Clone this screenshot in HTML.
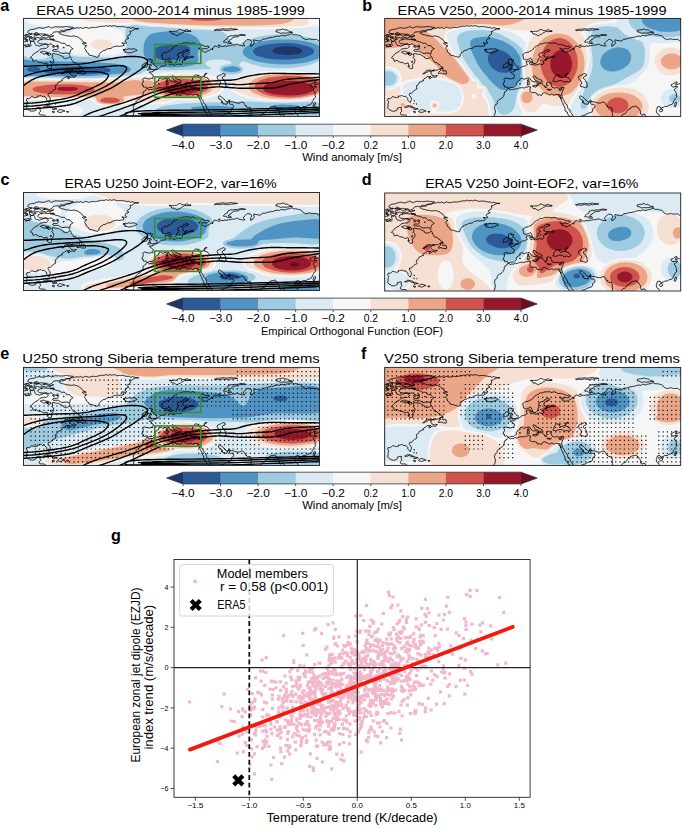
<!DOCTYPE html>
<html><head><meta charset="utf-8"><style>
html,body{margin:0;padding:0;background:#fff;width:685px;height:829px;overflow:hidden}
svg{display:block;font-family:"Liberation Sans", sans-serif}
</style></head><body>
<svg width="685" height="829" viewBox="0 0 685 829">
<defs><path id="coast" d="M1.3 28.4L2.1 28.4 2.9 28.3 3.7 28.1 4.5 27.8 5.3 28.0 6.3 28.1 7.1 27.7 7.7 27.0 7.2 26.3 7.2 25.4 7.0 24.5 6.7 23.2 8.0 22.9 8.8 22.9 9.6 22.8 10.7 22.9 11.1 24.0 11.3 25.0 11.7 25.9 12.3 26.8 13.2 27.1 14.1 27.1 14.9 27.4 15.8 27.8 16.6 27.5 17.4 27.0 18.2 26.8 19.0 26.9 19.6 26.4 20.3 25.5 21.2 25.7 22.0 25.9 22.8 26.2 23.6 26.2 24.1 26.9 24.8 27.6 24.4 28.6 23.8 29.2 23.1 29.5 22.5 30.1 21.6 30.1 20.9 29.8 20.1 30.0 19.2 30.3 18.4 30.3 17.3 30.6 16.4 31.0 15.9 31.5 15.4 32.0 14.8 32.8 14.2 33.4 13.3 33.5 12.5 33.7 12.0 34.5 11.2 35.0 10.4 35.2 9.8 35.8 9.4 36.7 8.8 37.2 8.2 37.6 7.6 38.4 6.7 39.4 7.7 39.8 8.5 40.0 9.1 40.5 9.1 41.6 9.7 42.9 11.1 42.5 12.2 42.0 13.2 42.4 13.9 43.2 14.7 43.5 15.5 43.8 16.4 44.1 17.3 43.9 18.2 44.1 18.9 44.7 19.7 45.2 20.6 45.5 21.5 45.2 22.4 44.8 23.5 44.8 23.9 46.0 23.8 46.9 23.3 47.8 23.9 48.9 24.7 49.5 25.6 50.2 26.7 50.2 27.9 49.9 28.0 48.7 27.8 47.7 27.6 46.8 28.0 45.9 28.8 45.5 29.4 44.8 29.9 43.8 30.2 43.3 30.0 42.8 30.2 41.7 30.0 40.7 29.1 40.1 28.3 39.3 29.0 38.5 29.3 37.8 28.9 36.8 28.6 35.5 29.7 35.1 30.5 35.3 31.4 35.5 32.2 35.6 33.1 35.7 33.9 35.9 34.7 35.9 35.5 36.0 36.2 36.6 37.1 37.2 38.0 37.5 38.9 38.0 39.6 38.2 39.7 38.8 40.2 39.7 41.3 39.8 42.1 40.3 43.1 40.0 44.1 39.8 44.9 39.5 45.6 38.8 46.6 37.9 47.4 39.1 47.6 40.0 47.9 41.0 48.3 41.8 49.0 42.4 49.5 43.2 50.1 44.2 51.1 44.2 52.1 44.2 52.6 45.0 53.4 45.7 54.3 46.0 55.1 46.4 55.6 47.3 56.2 48.1 57.1 48.4 57.9 48.7 58.5 49.8 57.2 49.9 56.1 49.9 55.3 50.3 54.5 50.9 53.6 51.4 52.7 51.7 51.7 51.7 50.8 51.8 49.9 51.5 48.9 51.5 48.0 52.0 47.1 52.2 46.1 51.7 45.1 51.6 44.1 51.8 43.1 51.9 42.1 52.0 41.3 52.6 40.9 53.6 40.2 54.2 39.1 54.5 38.1 55.5 39.6 55.3 40.3 54.8 41.1 54.4 42.0 54.0 42.9 53.5 43.7 52.8 44.7 52.8 45.7 53.0 47.1 53.3 46.0 54.4 46.5 55.4 47.1 55.9 47.6 56.7 48.3 57.2 49.2 57.3 50.1 57.4 51.1 57.6 52.0 57.5 52.4 56.8 51.8 58.3 50.9 59.0 49.9 58.9 48.9 58.5 48.0 58.7 47.2 59.0 46.4 59.3 45.8 60.1 44.7 60.6 44.3 58.8 45.5 58.4 46.4 57.9 45.6 58.5 44.5 58.5 43.4 58.1 42.3 58.5 41.4 59.2 40.8 59.7 40.1 60.2 39.3 60.2 38.2 61.5 38.9 62.5 38.3 62.2 37.4 62.8 36.5 63.3 35.5 63.6 34.5 64.0 33.9 65.4 33.2 66.5 32.7 66.9 31.7 67.3 31.9 68.3 31.8 68.8 32.0 69.5 32.2 70.6 31.5 71.1 30.7 71.4 29.7 71.9 28.9 72.8 28.3 73.5 27.6 74.1 27.0 74.7 26.2 75.0 25.0 75.0 24.5 76.1 24.9 77.3 25.6 77.9 26.0 78.8 26.4 79.6 26.9 80.4 26.6 81.4 26.2 82.4 25.9 83.2 25.8 84.0 25.1 84.0 24.4 83.0 23.6 82.2 23.0 81.3 23.3 80.4 22.7 79.5 21.6 78.9 21.0 77.9 20.1 77.9 19.2 78.2 18.5 77.9 17.8 77.2 16.8 77.2 15.8 77.5 14.9 77.7 13.8 77.6 13.7 78.9 12.9 79.1 11.7 79.2 10.7 79.0 9.9 78.8 9.0 78.4 8.1 78.2 7.3 78.9 6.5 79.6 5.8 80.2 4.8 80.2 3.5 80.1 2.9 81.7 3.6 82.8 4.0 83.7 3.8 84.5 3.4 85.3 3.3 86.1 3.5 87.0 3.3 87.7 3.0 88.7 3.2 89.6 3.7 90.4 4.4 91.1 5.3 91.7 6.1 91.8 6.7 92.5 7.3 93.0 8.0 92.7 8.9 92.8 9.9 92.8 10.7 92.4 11.3 92.3 12.0 92.1 12.5 91.4 12.6 89.7 13.5 89.5 14.3 89.3 15.1 88.9 16.3 89.0 17.2 89.5 16.6 89.9 16.4 90.8 16.7 91.8 17.2 92.8 16.5 93.5 15.8 94.2 15.7 95.0 15.6 95.7 16.2 96.0 16.9 96.4 17.8 96.5 18.6 96.5 19.4 96.6 20.2 96.5 21.0 96.6 21.5 97.1 22.3 97.7 22.3 98.8 22.0 99.8 21.6 100.9 21.5 101.8 21.6 102.8M26.3 20.7L27.0 21.3 27.9 21.2 28.7 21.3 29.4 21.9 30.2 22.2 31.0 22.2 31.8 22.6 32.6 22.9 33.4 23.0 34.2 23.2 34.9 23.4 35.7 23.6 36.5 23.9 37.2 24.4 37.9 24.9 38.8 24.9 39.7 24.8 40.6 24.9 41.5 25.1 42.1 25.8 42.7 26.4 43.2 27.2 44.2 27.4 45.4 27.0 46.2 27.4 46.8 28.3 47.4 29.0 48.2 29.5 49.0 30.1 49.5 30.1 49.0 30.8 48.0 31.4 47.1 31.9 46.7 32.6 46.5 33.6 46.5 34.5 45.9 35.5 44.7 34.9 43.7 34.6 42.5 34.8 41.5 34.7 40.5 34.8 39.5 35.0 38.4 35.1 37.7 34.6 36.9 34.3 36.2 34.0 35.5 33.4 34.8 32.9 34.0 32.8 33.1 33.0 32.2 32.9 31.4 32.9 30.5 33.0 29.7 32.7 29.0 32.3 29.6 31.3 30.5 30.9 31.4 30.9 32.4 31.2 33.3 31.0 34.0 30.7 34.3 30.2 35.0 29.7 34.6 29.1 34.3 28.3 33.4 28.2 32.5 28.3 31.7 27.8 31.0 27.3 30.1 27.2 29.3 26.9 28.7 26.2 28.0 25.5 27.0 25.5 26.1 25.9 25.2 26.2 24.3 26.0 23.3 25.6 22.4 25.4 21.4 25.5 20.4 26.0 19.5 25.9 18.6 25.3 17.8 25.3 16.9 25.4 16.0 25.1 15.2 24.7 14.7 24.1 14.2 23.7 14.6 23.0 15.1 22.0 16.0 21.8 16.8 21.5 17.5 20.8 18.4 20.7 19.4 20.8 20.4 20.5 21.4 20.6 22.4 20.7 23.4 20.8 24.3 20.9 25.3 21.0 26.3 20.7M18.2 33.1L19.0 33.0 19.9 32.7 20.7 32.7 21.5 33.6 22.3 33.8 23.2 33.7 24.1 33.9 24.9 33.9 24.1 34.3 23.2 34.7 22.4 35.2 21.4 35.6 20.4 35.7 19.6 35.2 18.8 34.8 17.9 34.5 16.8 33.8 18.2 33.1M10.5 17.9L11.2 17.4 12.0 17.2 12.9 17.2 13.6 16.9 14.4 16.5 15.4 16.3 16.2 16.5 17.1 17.2 17.9 17.9 18.8 17.6 19.7 17.1 20.6 17.0 21.5 16.9 22.4 16.8 23.3 17.1 24.1 17.4 24.9 17.5 25.5 18.2 26.2 18.7 25.4 18.7 24.5 18.6 23.8 19.0 23.0 19.6 22.1 19.6 21.2 19.1 20.3 18.9 19.3 19.4 18.4 19.5 17.5 19.4 16.7 19.7 15.8 19.6 14.9 19.2 14.0 19.2 13.2 19.3 12.2 19.4 11.2 19.5 10.3 18.9 10.5 17.9M5.3 14.8L6.2 15.2 7.0 15.8 8.0 15.8 9.0 15.5 9.9 15.8 10.7 15.8 11.5 15.6 12.4 15.4 13.2 15.5 14.1 15.9 15.0 16.0 15.8 15.7 16.8 15.4 17.8 15.4 18.7 15.7 19.7 15.5 20.6 15.8 21.4 15.9 22.4 15.8 23.2 15.9 24.0 16.3 24.8 16.7 25.7 17.1 26.6 16.9 27.3 16.3 28.1 16.1 28.8 15.3 29.5 14.3 30.3 13.7 31.1 13.6 32.0 13.5 32.8 13.3 33.7 13.4 34.6 13.5 35.4 13.4 36.2 13.1 37.0 12.4 37.7 12.1 38.6 12.3 39.5 12.5 40.4 12.3 41.2 11.8 42.0 11.4 42.9 11.3 43.8 11.2 44.7 11.2 45.6 11.3 46.5 11.3 47.1 10.7 47.9 10.3 48.7 10.0 49.2 9.4 49.8 9.1 49.1 8.9 48.2 8.8 47.4 8.8 46.5 8.5 45.6 8.5 44.7 8.4 43.9 8.2 43.0 8.1 42.1 8.1 41.2 8.3 40.3 8.5 39.5 8.6 38.6 8.6 37.7 8.4 36.8 8.7 36.0 8.7 35.2 8.2 34.4 8.5 33.6 8.7 32.8 8.3 32.0 8.3 31.2 8.5 30.4 8.8 29.6 9.1 28.8 9.5 28.0 9.6 27.1 9.3 26.3 8.8 25.5 8.3 24.7 8.2 23.9 8.7 23.1 8.9 22.3 9.1 21.5 9.4 20.7 9.8 19.9 9.9 19.1 9.8 18.2 9.7 17.4 9.6 16.6 9.4 15.7 9.2 14.8 9.4 14.0 9.7 13.0 9.8 12.2 10.1 11.4 10.6 10.5 10.9 9.6 11.0 8.7 10.9 7.8 11.1 6.9 11.3 6.1 11.7 5.2 12.0 4.7 13.0 4.1 13.8 4.5 14.4 5.3 14.8M5.9 20.3L6.8 19.8 7.8 20.1 8.7 20.5 9.6 20.6 10.5 20.3 11.6 20.3 12.7 21.0 11.3 21.3 10.3 21.6 9.6 22.3 8.9 23.1 7.9 23.1 7.1 22.0 6.0 21.7 5.9 20.3M1.3 17.7L2.1 18.2 3.2 17.7 3.9 18.2 5.0 18.0 5.9 16.8 4.5 16.2 3.6 16.1 2.5 16.2 1.8 16.9 1.3 17.7M1.3 21.2L2.3 21.9 3.3 22.4 3.3 21.6 3.6 21.0 3.0 20.9 2.2 20.2 1.3 20.0M25.0 34.8L26.3 34.6 27.6 35.9 25.7 37.0 24.5 36.8 23.4 35.7 25.0 34.8M26.7 19.5L27.4 18.7 28.2 18.1 29.2 17.9 30.3 17.2 29.0 17.5 28.1 17.7 27.2 18.0 26.3 18.3M35.5 14.5L36.2 13.8 37.0 13.7 37.9 13.6 38.7 13.4 39.5 13.2 40.4 13.2 41.2 13.1 42.0 12.6 42.7 12.0 43.6 11.5 44.5 11.3 45.5 11.2 46.4 10.9 47.3 10.4 48.2 10.3 49.1 10.2 49.9 9.9 50.8 9.9 51.7 10.0 52.6 9.5 53.4 9.2 54.3 9.5 55.1 9.8 56.0 9.5 56.8 9.0 57.6 9.4 58.5 9.9 59.3 10.0 60.2 9.8 61.0 9.2 61.8 8.9 62.7 9.2 63.5 9.3 64.4 9.5 65.2 9.8 66.0 9.6 66.9 9.4 67.7 9.4 68.5 9.1 69.4 8.8 70.2 8.9 71.1 9.2 71.9 9.1 72.8 8.9 73.7 9.0 74.6 8.6 75.4 8.2 76.3 8.3 77.2 8.1 78.0 7.8 78.9 7.9 79.7 7.9 80.6 7.9 81.4 7.8 82.2 7.2 83.0 7.2 83.8 7.7 84.6 7.8 85.4 7.6 86.2 7.4 87.0 7.4 87.8 7.8 88.7 7.8 89.5 7.3 90.3 7.1 91.2 7.5 92.0 7.7 92.8 7.8 93.6 8.3 94.5 8.4 95.3 8.1 96.2 8.1 97.0 8.3 97.8 8.1 98.7 7.9 99.5 8.1 100.3 8.4 101.1 8.6 102.0 8.7 102.8 8.8 103.6 9.1 104.4 9.0 105.3 8.8 106.1 9.1 106.8 9.9 107.7 9.8 108.6 9.2 109.4 9.2 110.2 9.7 111.0 9.8 111.8 10.0 112.6 10.3 113.5 10.3 114.3 10.2 115.3 10.4 114.2 10.6 113.2 10.5 112.2 10.5 111.3 10.9 110.4 11.4 109.6 11.7 108.9 12.2 108.3 12.8 107.4 12.8 106.4 12.9 106.8 13.9 107.1 14.8 106.5 15.6 106.1 16.5 105.3 17.0 104.3 17.2 103.4 18.2 104.4 19.1 105.4 19.6 104.5 20.3 103.5 20.5 102.5 21.0 102.0 21.7 101.6 22.7 102.2 23.6 103.2 24.3 102.4 24.9 101.4 24.7 100.6 24.8 99.8 24.6 98.9 24.5 98.3 24.6 99.1 24.7 99.7 25.3 100.6 26.8 99.1 27.6 98.1 27.7 97.1 27.7 96.1 27.9 95.2 28.0 94.3 27.8 93.4 27.6 92.5 27.8 91.7 28.0 90.8 28.2 89.9 28.4 89.0 28.7 88.3 29.4 87.5 30.0 86.5 30.2 85.5 30.3 84.6 30.3 83.8 30.5 83.1 30.9 82.4 31.6 81.5 31.9 80.6 31.9 79.8 32.1 79.2 32.8 78.3 33.4 77.4 33.7 76.8 34.3 76.2 35.3 75.6 36.3 75.3 37.9 74.3 38.7 73.0 38.8 72.2 38.3 71.4 38.3 70.7 38.1 69.7 37.7 68.7 37.3 67.8 37.1 66.6 37.1 65.6 36.6 65.1 35.7 64.8 34.8 63.9 34.3 63.0 33.7 62.7 32.6 62.4 31.5 61.8 30.8 61.1 30.2 61.3 29.3 61.6 28.7 62.1 28.2 62.8 27.4 63.3 27.3 62.6 27.5 61.6 27.0 60.9 26.4 60.1 26.0 58.8 25.0 60.3 24.4 61.5 24.8 62.8 24.8 61.7 24.3 60.8 24.1 60.0 23.7 59.4 22.9 58.8 22.2 58.2 21.3 57.3 20.5 56.4 20.3 55.8 19.8 55.3 19.1 54.6 18.7 53.8 18.5 53.0 18.1 52.1 18.1 51.3 17.7 50.5 17.5 49.7 17.6 48.8 17.8 48.0 17.9 47.2 18.0 46.4 17.8 45.6 17.6 44.7 17.4 44.0 17.3 43.2 17.4 42.3 17.4 41.6 17.0 40.8 16.7 40.0 16.5 39.2 16.4 38.4 16.2 37.6 15.9 36.9 15.5 36.0 15.3 35.5 14.5M102.0 30.5L102.8 31.1 103.6 31.0 104.4 30.6 105.3 30.4 106.1 30.5 107.0 30.7 107.9 30.8 108.7 30.5 109.5 30.3 110.4 30.5 111.1 30.5 111.9 30.9 112.7 31.2 113.7 32.1 112.7 32.4 111.7 32.8 110.9 33.2 110.1 33.4 109.2 33.6 108.4 34.2 107.5 34.4 106.6 34.3 105.7 34.3 104.8 34.5 104.0 34.2 103.2 33.9 101.2 33.8 102.0 32.6 101.7 32.5 100.9 32.1 99.9 32.1 100.7 31.6 101.7 31.4 100.6 31.1 99.7 31.1 100.4 31.2 101.3 31.1 102.0 30.5M125.0 40.5L125.9 40.9 126.7 40.9 127.1 40.6 126.7 40.9 126.5 41.7 127.3 41.3 128.2 41.4 129.3 41.9 128.5 42.4 128.1 43.1 127.5 43.9 128.6 44.0 129.6 44.6 130.1 45.5 130.4 46.4 130.8 46.9 131.7 47.6 132.8 47.9 133.6 48.3 133.4 49.0 133.5 49.9 132.7 50.9 131.4 50.9 130.3 51.1 129.4 51.2 128.5 51.2 127.6 51.1 126.7 51.3 125.9 51.6 125.0 51.6 124.0 51.8 124.4 50.9 125.0 50.3 125.8 49.9 126.7 49.9 127.6 49.8 126.6 49.8 125.7 49.3 125.3 49.2 125.6 48.9 126.1 47.9 125.6 47.5 126.6 47.5 127.8 47.4 127.2 45.7 126.0 46.0 124.6 46.1 123.9 44.5 124.0 42.8 123.6 41.4 124.4 41.1 125.0 40.5M123.5 44.9L124.1 46.5 123.6 47.6 123.0 48.7 122.3 48.7 121.5 48.8 120.7 49.0 119.9 49.3 119.0 49.6 118.3 49.4 118.7 49.0 119.0 48.2 118.4 47.2 118.9 46.4 119.7 46.1 120.5 45.5 121.4 44.4 122.6 44.5 123.5 44.9M297.3 21.1L296.5 21.5 295.6 22.1 294.7 22.3 293.8 21.5 292.9 20.9 292.1 21.0 291.2 21.0 290.3 21.1 289.4 21.1 288.7 20.8 287.8 21.0 287.0 20.7 286.2 20.2 285.4 20.6 284.5 20.9 283.7 20.9 282.8 21.0 282.0 21.3 281.2 20.8 280.4 20.1 279.7 20.2 279.1 19.7 278.6 19.0 278.1 18.3 277.6 17.6 276.9 17.1 275.9 17.2 274.9 16.9 274.0 16.6 273.0 16.4 272.1 16.3 271.1 16.4 270.2 16.2 269.3 15.8 268.4 15.3 267.5 15.5 266.8 15.9 266.1 16.2 265.2 16.3 264.4 16.5 263.7 16.6 262.9 16.8 262.1 17.3 261.3 17.4 260.4 17.4 259.5 17.2 258.7 16.9 257.8 17.0 257.0 17.4 256.1 17.9 255.2 17.9 254.3 17.6 253.4 17.7 252.6 18.0 251.7 18.1 250.8 18.3 250.0 18.9 249.1 19.0 248.2 18.8 247.5 19.2 246.5 19.5 245.3 19.5 244.5 19.6 243.7 20.0 242.8 20.2 242.0 20.5 241.2 20.8 240.3 20.8 239.3 20.6 238.6 21.0 238.1 21.8 237.5 22.4 236.7 22.5 235.8 22.7 235.0 22.4 234.2 22.2 233.3 22.2 232.4 22.0 231.5 21.8 230.4 21.4 230.0 22.4 230.5 23.4 230.8 24.2 230.5 25.1 229.9 25.9 229.4 26.6 228.4 26.9 227.6 27.3 227.4 28.0 227.2 27.3 227.0 26.4 227.2 25.6 227.6 24.9 228.0 24.1 228.2 23.3 227.7 22.6 227.3 21.9 226.4 21.6 225.5 21.2 224.6 21.2 223.7 21.2 222.9 22.0 222.1 22.6 221.3 23.3 220.7 23.9 220.1 24.6 219.7 25.5 220.7 26.3 221.3 27.5 220.1 27.4 219.2 27.5 218.3 27.4 217.5 26.9 216.6 26.9 215.7 26.7 214.9 26.2 214.1 25.9 213.1 25.8 212.2 26.3 211.2 26.5 210.4 26.8 209.7 26.7 208.8 26.6 207.9 26.9 207.0 27.2 206.0 27.2 205.1 27.2 204.2 27.6 203.3 27.9 202.3 27.6 201.4 27.4 200.5 27.9 199.6 28.2 198.7 27.9 197.9 27.9 197.1 28.1 196.3 28.5 195.6 28.9 194.7 28.8 193.9 28.3 193.2 28.0 192.4 27.7 191.6 27.7 190.8 27.7 190.4 28.4 190.1 29.3 189.5 29.8 188.5 30.5 189.6 30.8 188.5 30.9 187.5 30.4 186.9 31.0 186.3 31.6 185.5 32.1 184.7 32.4 184.0 32.6 183.3 33.3 182.6 33.6 181.8 33.8 180.9 34.0 180.0 33.0 179.1 32.5 178.2 32.8 177.3 32.8 177.2 31.9 176.9 31.1 175.9 30.5 175.0 29.9 175.9 29.9 176.7 30.3 177.5 30.8 178.5 30.8 179.6 30.3 180.6 30.1 181.6 30.3 182.4 30.4 183.2 30.4 184.0 30.0 184.4 29.6 184.7 29.2 185.8 28.8 185.2 28.0 184.5 27.7 183.5 27.9 182.7 28.0 181.8 27.9 181.0 27.9 180.2 27.6 179.6 26.8 178.7 26.6 177.7 26.6 176.8 26.4 176.0 25.9 175.1 25.9 174.2 26.2 173.3 26.3 172.6 25.8 171.9 25.2 171.2 24.9 170.3 24.8 169.4 24.3 168.4 24.5 167.3 25.1 166.3 25.0 165.5 24.4 164.7 24.3 163.8 24.5 163.0 24.4 162.1 24.3 161.3 24.6 160.4 24.6 159.5 24.5 158.6 25.0 157.7 25.5 156.8 25.5 155.8 25.3 154.9 25.6 154.3 26.5 153.7 27.2 152.8 27.2 151.9 27.4 151.3 28.1 150.5 28.5 149.8 29.0 148.9 29.8 148.4 30.9 147.7 31.6 146.9 32.1 146.0 32.6 144.8 33.0 143.9 33.6 143.2 33.9 142.3 33.9 141.5 34.1 140.6 34.4 139.8 34.9 139.0 35.6 138.2 36.0 138.3 37.6 138.7 38.5 138.7 39.5 139.0 40.8 140.0 41.0 140.8 41.4 141.7 41.5 142.5 41.1 143.3 40.8 144.2 40.7 144.8 40.3 145.8 39.5 146.5 40.5 147.3 41.9 147.4 42.7 147.8 43.5 148.2 44.6 149.3 45.0 150.3 45.4 151.2 44.9 151.8 44.3 152.5 43.7 152.9 42.9 153.3 42.2 153.4 40.8 154.3 40.2 155.0 39.3 155.9 38.5 155.3 38.3 154.3 37.7 154.2 36.7 154.3 35.5 155.1 35.0 155.8 34.6 156.5 34.3 157.5 34.2 158.5 34.0 159.4 33.4 160.0 32.2 160.9 32.0 161.3 31.6 162.3 31.3 163.3 31.3 164.2 31.5 165.3 31.9 164.5 33.0 163.4 32.9 162.3 33.2 161.5 33.8 160.7 34.3 159.8 34.8 159.6 35.7 159.2 36.5 159.2 37.6 160.3 38.2 161.2 39.1 162.4 38.7 163.4 38.2 164.5 38.6 165.3 39.0 166.1 38.8 166.9 38.4 167.7 37.9 168.7 37.7 169.5 38.2 170.3 38.4 169.4 38.9 168.4 39.3 167.5 38.9 166.6 38.7 165.8 39.2 165.0 39.9 164.2 40.1 163.4 39.9 162.4 39.7 162.6 40.7 161.6 41.1 160.4 41.3 159.1 42.2 158.8 43.6 159.2 44.8 158.1 46.0 156.5 46.2 155.6 45.6 154.8 45.5 154.1 45.8 153.3 46.0 152.3 46.3 151.4 46.8 150.2 46.8 149.2 46.2 148.0 46.0 147.0 46.3 146.0 46.6 145.8 46.0 144.9 45.2 145.3 44.4 145.5 43.6 145.3 42.7 145.2 42.0 144.2 42.9 142.8 42.8 141.7 43.1 141.7 44.7 142.5 45.4 142.7 46.0 142.4 46.6 141.7 46.8 140.8 47.4 139.8 47.9 139.0 47.8 137.9 48.0 136.7 48.7 135.8 49.4 134.8 50.2 133.6 51.3 132.5 51.2 131.6 51.5 130.9 52.2 130.0 52.5 129.5 52.1 129.1 53.5 127.6 53.5 126.5 53.6 125.6 53.8 126.2 54.2 126.8 54.7 127.5 55.3 128.4 55.8 129.0 56.3 129.7 56.8 129.6 58.3 129.2 59.1 129.4 60.0 129.2 60.2 128.1 59.9 127.0 60.2 126.1 60.6 125.2 60.5 124.3 60.3 123.3 60.2 122.3 59.9 121.2 59.5 120.1 59.9 119.1 60.7 119.7 62.0 119.7 63.5 119.0 64.7 118.4 66.5 119.9 67.1 119.9 68.6 121.0 68.9 122.0 68.5 123.3 69.0 123.6 70.1 124.4 69.9 125.6 69.1 126.6 69.0 127.6 69.0 128.7 69.2 129.6 68.3 130.8 67.7 131.3 67.1 131.9 66.4 131.3 65.5 131.8 64.8 132.3 64.0 133.4 63.1 134.1 62.6 134.8 62.2 135.3 62.2 135.2 60.5 137.0 59.7 138.2 60.1 138.9 60.7 139.7 60.9 140.6 60.3 141.5 59.9 142.5 59.9 143.0 59.7 144.5 59.5 145.5 60.5 146.1 61.6 146.7 62.3 147.5 62.8 148.4 63.1 149.2 63.5 150.2 63.5 151.4 63.3 152.7 64.4 152.5 66.3 152.6 67.2 152.8 67.7 153.5 67.1 153.7 66.2 153.9 65.6 153.8 64.7 154.5 64.9 156.1 65.3 155.7 63.8 154.7 63.7 153.9 63.3 152.6 62.8 151.6 62.4 150.6 61.8 150.0 61.1 149.6 60.2 149.0 59.2 148.4 58.8 148.2 58.0 148.6 57.7 149.4 57.2 150.0 58.0 151.1 58.1 151.3 59.4 152.3 59.8 153.2 60.1 153.8 60.7 154.6 60.8 156.0 61.5 157.4 62.2 157.4 63.6 157.2 65.0 157.7 66.0 158.7 66.5 159.6 67.5 160.1 68.7 161.2 69.3 161.7 69.3 161.1 68.0 162.3 67.1 163.2 67.1 162.6 66.4 161.8 66.0 161.8 65.2 161.6 64.7 162.8 64.0 163.8 63.8 164.8 64.4 165.7 64.4 166.4 64.3 166.1 65.4 166.6 66.7 167.1 67.8 167.5 68.9 168.8 69.2 169.7 69.6 170.6 69.6 171.8 69.1 173.3 69.5 174.4 70.0 175.3 69.5 176.2 69.3 177.2 69.2 178.2 69.0 179.4 69.2 179.0 70.1 178.6 70.9 178.5 71.7 177.9 72.5 177.4 73.9 177.2 74.8 177.1 76.1 175.9 77.0 174.9 76.3 174.1 76.0 173.0 76.1 171.7 76.1 170.6 76.2 169.8 76.5 169.0 76.9 168.1 76.2 167.2 75.6 165.9 76.2 164.5 76.7 163.7 76.1 162.9 75.8 161.6 75.1 160.8 74.7 159.9 74.3 158.9 74.6 157.9 75.0 157.5 75.8 157.3 76.4 156.5 77.4 155.9 76.8 155.2 76.2 154.2 76.4 153.3 76.8 152.5 76.4 152.3 75.5 151.9 74.7 151.0 74.5 150.2 74.3 149.3 74.2 148.4 74.3 147.5 74.1 146.7 74.0 145.9 73.5 145.0 73.0 145.2 71.9 145.4 71.1 145.5 70.4 145.4 69.5 146.1 68.7 145.0 68.5 144.0 68.1 142.6 68.7 141.7 68.8 140.8 68.8 139.9 69.3 139.0 69.6 137.9 69.3 136.7 69.3 135.5 69.4 134.6 69.6 133.7 70.0 132.9 70.4 131.7 70.6 130.8 70.3 129.9 70.4 128.7 71.3 127.6 71.0 126.6 71.1 125.4 71.6 124.6 70.9 123.6 69.9 122.7 70.9 122.2 72.1 121.3 72.6 119.9 73.4 119.5 74.8 119.7 75.8 119.3 76.4 118.8 78.0 118.0 78.6 117.3 79.5 116.5 80.3 115.5 80.7 114.6 81.2 113.8 82.0 113.1 82.5 112.6 83.1 112.5 84.2 112.3 85.4 111.6 86.1 110.7 86.3 110.1 87.1 110.2 88.1 109.7 89.4 110.0 90.2 110.3 91.4 110.6 92.5 110.7 93.7 110.3 94.8 110.1 96.0 109.7 96.9 108.9 97.7 109.0 98.7 109.5 99.4 110.2 100.2 110.4 101.1 109.9 102.0 109.5 102.8M168.4 63.1L168.4 62.0 169.1 61.2 169.2 59.6 170.0 58.9 170.6 58.0 171.0 57.1 171.7 56.5 172.6 56.5 173.3 56.7 174.4 56.9 175.7 56.9 174.4 57.6 174.9 58.4 175.6 59.3 177.2 59.0 178.5 58.7 179.9 58.4 180.6 57.2 180.9 55.9 181.9 55.1 183.4 54.9 182.6 56.0 181.6 56.3 181.1 57.0 180.9 57.9 180.9 58.7 182.2 59.0 183.3 59.3 184.3 59.8 184.8 60.8 185.5 61.5 186.2 62.2 186.0 62.8 185.2 63.3 184.2 63.8 183.1 63.3 182.1 63.2 181.2 63.3 180.1 63.6 179.1 63.6 178.4 63.2 177.8 62.5 176.8 62.3 175.6 62.1 174.7 62.1 173.9 62.4 173.2 62.7 172.1 63.0 171.0 63.4 169.7 63.1 168.4 63.1M193.5 59.0L194.3 57.6 195.2 57.3 195.8 56.9 196.3 57.1 197.2 56.4 198.1 56.0 198.9 55.5 199.8 55.2 200.6 55.5 201.6 55.8 201.7 56.8 201.4 57.7 200.5 57.8 199.6 58.2 198.8 58.8 198.8 59.8 199.2 60.6 199.8 60.9 200.4 61.6 201.1 62.3 201.1 63.4 202.3 64.1 202.2 64.9 202.2 65.8 202.3 66.6 202.6 67.5 202.6 68.6 201.6 69.0 200.6 69.4 199.8 69.0 198.9 68.7 198.1 68.4 197.3 68.2 196.1 68.3 195.6 66.8 196.5 65.6 197.2 64.4 196.6 63.2 195.9 62.2 195.2 61.7 194.6 61.1 194.1 60.5 194.0 59.7 193.5 59.0M174.1 76.4L174.1 77.7 174.7 78.1 175.5 78.8 175.9 79.6 176.0 80.5 176.5 81.3 176.8 82.1 176.9 82.9 177.4 83.5 177.9 84.2 178.2 84.9 178.4 85.7 178.5 86.6 178.9 87.3 179.5 87.8 179.8 88.5 180.2 89.8 180.4 90.6 180.4 91.5 180.4 92.6 181.3 93.3 182.5 93.6 182.9 94.5 183.0 95.5 183.6 96.3 184.1 96.8 184.5 97.7 185.5 97.9 186.3 98.1 186.6 99.0 186.7 100.2 187.1 101.1 188.4 101.9 189.1 102.6 189.4 103.5M176.7 76.2L177.2 76.9 177.3 77.8 177.4 78.6 176.6 79.5 176.5 80.2 175.8 80.0 175.5 78.9 175.4 77.6 174.4 77.9M177.5 78.6L177.5 79.5 177.9 80.1 178.4 80.8 178.9 81.6 179.5 82.3 179.8 83.1 180.3 84.2 180.8 85.2 181.5 85.9 182.4 86.5 182.5 87.4 182.8 88.3 183.0 89.1 183.1 90.1 183.8 90.6 184.9 90.9 185.3 91.8 185.4 92.8 185.7 93.7 186.3 94.3 186.7 95.1 187.4 95.7 187.9 96.6 188.1 97.5 188.5 98.6 189.1 99.6 189.3 100.0 189.8 99.9 190.7 100.2 191.7 100.0 192.7 99.5 193.6 99.2 194.6 98.9 195.5 98.6 196.3 98.2 197.0 97.6 197.8 97.2 198.6 96.9 199.5 96.8 200.3 96.7 201.2 96.1 202.0 95.4 202.9 95.2 203.7 94.9 204.3 94.4 205.2 94.2 206.2 94.2 207.2 93.5 207.9 92.6 207.9 91.3 208.1 90.2 209.1 89.7 209.9 89.2 210.3 87.8 209.7 86.9 209.0 85.9 208.0 86.0 207.0 86.2 206.2 85.5 205.9 84.6 205.9 82.7 204.3 83.6 203.9 84.6 203.5 85.8 201.8 85.8 200.6 85.4 199.5 85.5 198.9 84.5 199.2 83.6 198.6 82.9 198.0 84.2 198.1 83.4 198.1 82.1 197.4 81.3 196.5 81.1 195.7 80.7 195.1 80.0 195.1 78.8 195.0 78.1 195.2 78.0 195.9 77.4 196.8 78.0 197.9 78.5 198.9 79.5 199.7 80.2 200.5 80.6 201.2 81.5 201.8 82.5 202.5 83.1 203.7 83.5 204.9 82.4 205.9 81.5 206.4 82.6 207.0 83.6 208.2 83.4 209.3 83.4 210.1 83.6 210.9 83.9 211.7 84.0 212.5 84.4 213.5 84.6 214.5 84.8 215.4 84.7 216.4 84.4 217.2 84.1 218.0 83.7 219.1 83.6 220.4 84.5 220.9 85.3 221.3 86.2 222.0 87.4 223.0 87.9 223.2 87.7 223.0 87.4 222.5 88.1 223.3 88.3 223.9 89.0 224.4 89.6 225.4 89.3 226.7 89.1 227.3 90.5 227.5 91.6 227.7 92.6 227.5 93.4 227.5 94.2 227.8 95.0 227.7 96.0 227.7 97.1 228.9 98.1 229.6 98.8 230.0 99.7 230.5 101.0 230.8 102.4M236.7 102.2L237.3 101.3 237.5 100.3 237.3 99.4 237.1 98.5 236.9 97.5 237.8 96.2 238.7 95.6 239.7 95.3 240.7 94.9 241.4 94.3 242.0 93.5 242.4 92.7 242.8 91.9 243.4 91.2 244.6 90.8 245.8 90.4 246.0 89.1 246.8 88.8 247.5 88.5 248.6 88.2 250.0 88.4 250.7 87.6 251.9 87.8 252.2 88.8 253.4 89.4 254.0 89.7 254.3 90.8 254.8 91.6 255.5 92.3 255.9 93.2 255.8 94.4 256.2 95.7 256.0 95.8 257.1 96.6 258.1 96.6 258.5 95.9 260.1 96.0 260.9 97.6 261.2 98.2 260.9 99.3 260.6 100.2 261.3 101.1 261.4 102.2M262.1 102.8L262.5 101.9 262.4 100.9 263.2 99.9 264.2 99.8 264.6 100.5 266.0 100.8 266.8 102.0M275.2 101.9L274.6 100.7 274.7 99.6 275.0 98.8 275.0 98.0 274.6 97.3 274.2 96.4 273.7 95.6 272.7 95.3 272.1 94.7 271.8 93.8 271.7 92.7 271.5 92.4 271.8 91.9 272.1 90.9 272.3 89.8 272.7 88.6 274.3 88.1 275.9 88.7 276.3 89.7 276.5 90.4 277.2 89.2 278.1 89.1 278.9 88.8 279.8 88.2 280.9 88.1 282.3 88.2 283.2 87.7 284.0 86.9 285.1 86.6 286.3 86.5 287.2 85.8 288.2 85.2 288.6 84.3 288.7 83.3 289.5 82.1 290.1 81.2 290.4 80.1 291.1 79.4 291.9 78.9 292.3 77.9 291.2 77.0 292.0 75.7 291.5 74.8 291.2 74.1 290.7 72.8 289.8 71.9 289.5 71.5 289.8 71.4 289.8 70.7 291.0 69.8 291.9 69.3 293.1 68.4 291.4 67.9 290.1 68.4 289.3 68.5 288.3 68.7 287.4 68.1 286.5 67.4 286.4 66.2 287.0 65.9 287.8 65.7 288.6 65.4 289.2 64.8 289.9 64.3 290.6 63.9 291.5 63.4 292.7 64.2 291.1 65.1 291.0 66.7 292.5 66.0 293.8 65.7 294.6 65.5 295.4 64.8M274.4 92.1L275.4 91.2 276.2 90.7 277.3 90.5 278.1 91.6 277.2 93.2 275.6 93.4 274.9 92.7 274.4 92.1M289.6 87.1L290.1 86.2 290.1 85.0 291.3 83.9 292.2 84.5 291.8 85.5 291.4 86.5 291.1 87.6 290.5 88.6 289.8 87.9 289.6 87.1M200.0 23.7L200.9 23.9 201.9 23.8 202.7 23.8 203.4 24.4 204.2 25.0 205.0 25.0 205.9 25.1 207.9 25.1 206.7 23.4 205.6 23.7 204.6 23.6 205.4 22.3 206.3 21.6 207.3 21.1 208.2 20.7 208.7 20.0 209.3 19.3 210.1 18.9 210.9 18.7 211.8 18.5 212.6 18.4 213.4 18.3 214.2 18.4 215.0 18.2 215.7 17.7 216.4 17.0 217.2 16.8 218.0 17.1 218.9 17.1 219.7 17.1 220.8 17.1 222.1 16.7 221.0 16.4 220.1 16.3 219.3 16.1 218.4 16.1 217.5 16.3 216.6 16.3 215.7 16.6 214.9 16.8 214.0 16.9 213.1 17.0 212.3 17.0 211.5 16.9 210.7 17.0 209.9 17.4 209.1 17.5 208.3 17.4 207.4 17.2 206.6 17.5 205.9 17.9 204.8 18.2 204.3 19.3 204.0 20.3 202.8 20.8 201.7 21.4 201.1 22.1 200.3 22.7 200.0 23.7M146.0 13.5L147.3 13.1 147.7 14.5 148.3 15.5 149.3 15.7 150.3 15.6 151.2 15.9 151.9 16.5 152.8 17.1 154.0 17.3 155.0 16.5 156.1 16.1 156.9 15.9 157.6 15.2 158.3 14.5 159.1 14.2 160.0 13.8 160.8 13.2 161.6 13.0 162.6 13.2 163.5 13.2 164.4 13.1 165.3 13.0 166.3 13.1 167.4 13.0 167.1 12.0 166.2 12.6 165.3 12.4 164.5 11.7 163.6 11.4 162.7 11.4 161.8 11.9 160.8 12.2 159.8 12.1 158.8 12.1 157.9 11.6 157.0 11.2 156.1 11.1 155.3 11.1 154.6 11.7 153.9 12.4 153.0 12.8 152.0 12.9 151.0 12.8 150.0 13.0 149.0 13.0 148.0 13.1 147.0 12.9 145.9 12.8 146.0 13.5M190.8 11.7L191.5 12.3 192.4 12.0 193.2 11.8 194.0 12.0 194.9 12.0 195.7 12.1 196.5 12.3 197.3 12.0 198.2 11.7 199.0 11.7 199.8 11.6 200.6 11.5 201.5 12.0 202.3 12.1 203.1 11.8 203.9 12.1 204.8 12.3 205.6 12.0 206.3 11.6 207.2 11.6 208.0 11.8 208.8 11.6 209.6 11.4 210.5 11.6 211.5 11.4 212.4 10.9 213.4 10.8 214.1 10.9 213.6 11.4 212.8 11.0 212.0 10.6 211.2 10.4 210.3 10.6 209.5 10.7 208.7 10.3 207.9 10.0 207.0 10.3 206.1 10.3 205.2 10.3 204.4 10.6 203.5 10.9 202.6 10.7 201.7 10.6 200.8 10.5 199.9 10.2 199.1 10.4 198.3 10.7 197.5 10.7 196.7 10.6 195.8 10.8 195.0 10.8 194.2 10.9 193.4 10.9 192.5 11.2 191.7 11.6 190.8 11.7M252.6 13.5L253.5 13.6 254.4 13.8 255.3 14.0 256.1 14.5 256.9 14.9 257.9 14.8 258.7 14.5 259.6 14.6 260.5 14.7 261.4 14.8 262.3 14.7 263.1 14.5 264.0 14.5 264.9 14.6 265.7 14.2 266.6 14.0 267.5 14.4 269.1 14.0 267.7 13.3 266.5 13.4 265.6 13.1 264.9 12.5 264.2 12.1 263.5 11.5 262.7 11.3 261.7 11.7 260.9 11.5 260.1 10.7 259.2 10.5 258.3 10.9 257.4 11.3 256.6 11.3 255.8 11.4 255.0 11.4 254.1 11.5 253.3 11.8 252.5 12.1 252.6 13.5M194.7 26.9L195.7 26.7 196.7 26.6 196.0 27.3 194.7 26.9M19.9 88.6L20.8 88.6 21.6 88.0 22.6 87.4 23.7 87.2 24.6 87.5 25.6 87.4 26.5 87.8 27.5 88.2 28.5 88.8 29.5 89.3 30.5 89.6 31.5 89.9 32.3 90.3 33.1 90.7 33.6 90.7 32.9 90.3 32.2 90.5 31.3 91.0 30.4 91.2 29.3 91.2 29.6 90.3 29.0 89.8 28.2 89.1 27.3 89.3 26.4 89.2 25.6 88.6 24.7 88.2 23.7 88.2 22.9 88.7 22.0 88.9 20.9 88.8 19.9 88.6M33.7 93.1L34.5 92.6 35.1 91.9 35.8 91.1 37.0 91.3 38.1 91.5 39.1 91.7 40.0 92.0 40.7 92.5 41.4 92.8 40.4 92.6 39.3 92.9 38.5 93.7 37.6 94.0 36.7 93.9 35.7 93.9 34.7 93.5 33.7 93.1M28.5 93.1L29.5 93.4 30.3 93.2 31.2 93.6 29.8 94.3 28.5 93.1M43.2 93.0L44.2 93.1 45.2 93.2 44.9 93.8 44.0 94.0 43.2 93.6 43.2 93.0M28.9 82.1L30.0 82.5 29.2 82.9M29.2 84.8L29.6 85.5 28.7 85.2M31.6 84.9L32.2 85.5 31.8 86.3M53.5 54.9L53.9 54.1 54.3 53.4 55.2 52.9 55.8 52.3 55.9 51.3 55.9 50.2 56.6 49.7 57.6 49.8 58.3 50.2 58.3 50.9 57.7 51.8 58.4 52.7 59.4 52.4 60.3 52.1 61.3 52.4 61.7 53.9 62.0 55.0 61.3 55.9 60.2 55.4 59.2 55.5 58.1 55.5 57.3 54.8 56.3 54.7 55.4 54.8 54.5 55.2 53.5 54.9M47.4 51.9L48.2 52.4 49.1 52.5 49.7 52.4 48.9 52.2 48.2 52.5 47.4 51.9M147.9 67.5L149.3 67.3 150.2 67.1 151.1 66.7 152.4 66.9 151.8 68.1 151.2 68.8 150.5 68.3 149.6 68.4 148.8 68.2 148.1 67.9 147.9 67.5M142.6 63.5L143.5 63.0 144.7 63.4 144.4 64.7 144.6 66.1 142.6 66.7 142.6 64.9 142.6 63.5M143.9 60.9L144.2 62.2 143.7 62.9 142.8 62.4 142.9 61.4 143.9 60.9M162.5 70.7L163.5 70.7 164.4 71.1 165.3 71.1 166.7 71.0 165.5 71.9 164.6 71.6 163.8 71.6 162.4 71.1 162.5 70.7M174.1 71.4L174.9 71.3 175.6 70.8 177.4 70.1 176.4 71.9 175.0 71.9 174.1 71.4M134.7 65.4L135.9 65.5 135.5 65.5 134.7 65.4M145.5 43.9L146.4 43.6 147.3 43.9 147.9 43.9 147.7 44.6 146.9 44.6 146.2 44.6 145.5 43.9M155.5 42.2L156.5 41.7 156.1 42.3 155.5 42.2M160.5 40.6L162.1 40.2 161.2 42.1 160.5 40.6M-1.3 21.0L-0.4 21.1 0.5 21.0 1.3 20.7 2.2 20.7 3.1 20.8 3.9 21.2 4.3 22.1 4.4 22.8 3.5 22.8 2.6 23.2 1.8 23.3 0.8 23.4 -0.2 23.1 -0.7 22.0 -1.3 21.0M-0.7 17.0L0.2 17.4 1.0 16.9 1.8 16.4 2.7 16.5 3.3 17.3 4.3 18.0 3.2 19.0 2.1 19.5 1.0 19.3 0.1 18.9 -0.4 18.2 -0.7 17.0M5.3 18.3L6.1 18.3 6.9 18.2 7.7 18.2 8.4 18.4 9.0 19.4 8.4 19.2 7.6 19.1 6.7 19.3 5.9 19.6 5.3 18.3M0.7 26.9L1.4 26.4 2.3 26.6 3.2 26.6 4.0 26.0 5.2 26.0 6.3 26.8 5.2 27.0 4.6 27.8 3.7 28.2 2.9 28.0 2.0 27.7 1.5 27.0 0.7 26.9M22.4 35.0L23.2 35.0 24.1 35.2 25.0 35.2 25.5 35.7 24.6 35.6 23.7 35.9 23.0 35.6 22.4 35.0M26.3 20.6L27.3 20.6 28.3 20.8 29.3 20.6 30.5 20.6 30.8 21.8 30.0 21.3 29.1 21.3 28.5 21.5 27.8 21.4 27.0 21.1 26.3 20.6M28.9 28.2L29.9 28.0 30.7 28.4 31.0 28.6 30.6 28.7 29.7 28.9 28.9 28.2M26.6 43.5L27.6 42.5 27.7 44.2 26.6 43.5M23.7 47.8L24.9 47.8 24.6 47.4 23.7 47.8M45.4 36.3L46.1 36.8 45.9 36.3 45.4 36.3M10.5 15.3L11.3 14.8 12.0 14.3 12.9 14.2 13.9 14.4 14.8 15.2 15.6 15.8 15.0 15.7 14.2 16.0 13.3 16.1 12.5 16.1 11.4 15.9 10.5 15.3M20.4 16.0L21.3 16.7 21.6 16.4 21.4 16.4 20.4 16.6M17.1 21.0L18.4 21.2 17.8 21.6M5.3 15.6L6.1 15.2 7.0 15.3 8.2 15.0 7.6 16.1 6.6 16.1M32.9 27.1L34.0 26.7 35.2 27.7 33.5 27.9M39.5 28.8L40.8 29.2 39.7 29.5" fill="none" stroke="#000" stroke-width="0.85" stroke-linejoin="round"/><path id="jets" d="M-2.0 48.0L1.8 47.8 5.7 47.7 9.6 47.5 13.4 47.3 17.3 47.2 21.1 47.0 24.9 46.9 28.7 46.7 32.5 46.6 36.2 46.5 40.0 46.4 43.8 46.3 47.5 46.2 51.1 46.0 54.6 45.8 57.9 45.5 61.1 45.1 64.2 44.7 67.2 44.2 70.1 43.6 72.9 43.0 75.7 42.5 78.4 42.0 81.0 41.5 83.6 41.1 86.1 40.6 88.6 40.2 91.0 39.8 93.3 39.4 95.6 39.0 97.8 38.7 100.0 38.5 102.1 38.3 104.2 38.2 106.3 38.1 108.2 38.1 110.1 38.1 111.9 38.1 113.5 38.2 115.0 38.3 116.3 38.5 117.4 38.7 118.4 38.9 119.3 39.2 120.1 39.5 120.8 39.8 121.4 40.2 122.0 40.5 122.5 40.8 123.0 41.1 123.4 41.4 123.8 41.8 124.0 42.1 124.1 42.5 124.1 43.0 124.0 43.5 123.7 44.1 123.3 44.8 122.8 45.5 122.2 46.3 121.5 47.1 120.7 47.9 119.9 48.7 119.0 49.5 118.1 50.3 117.1 51.1 116.0 51.9 114.8 52.8 113.6 53.6 112.4 54.4 111.2 55.2 110.0 56.0 108.8 56.8 107.6 57.5 106.5 58.2 105.2 58.9 104.0 59.6 102.7 60.4 101.4 61.2 100.0 62.0 98.6 62.9 97.2 63.8 95.8 64.8 94.3 65.8 92.7 66.8 91.0 67.8 89.1 68.9 87.0 70.0 84.6 71.1 81.9 72.3 79.0 73.6 76.0 74.8 73.0 76.1 69.9 77.3 67.1 78.4 64.4 79.5 62.0 80.5 59.8 81.5 57.7 82.4 55.7 83.3 53.6 84.1 51.5 84.9 49.1 85.6 46.5 86.3 43.6 86.9 40.4 87.4 37.0 87.8 33.5 88.2 30.0 88.6 26.5 88.9 23.2 89.2 20.0 89.5 17.0 89.8 14.2 90.0 11.4 90.2 8.7 90.4 6.1 90.5 3.4 90.7 0.7 90.8 -2.0 91.0M-2.0 58.6L0.6 57.9 3.1 57.1 5.6 56.3 8.1 55.5 10.6 54.7 13.3 54.0 16.1 53.4 19.0 52.8 22.1 52.3 25.4 51.9 28.8 51.6 32.3 51.3 35.8 51.0 39.4 50.8 43.0 50.5 46.5 50.3 50.1 50.1 53.7 49.9 57.4 49.7 61.2 49.5 64.8 49.3 68.4 49.2 71.8 49.0 75.0 48.8 78.1 48.6 81.1 48.3 84.0 48.0 86.8 47.8 89.5 47.5 91.9 47.3 94.1 47.2 96.0 47.2 97.6 47.3 99.0 47.4 100.1 47.6 101.0 47.9 101.7 48.2 102.3 48.6 102.7 49.0 103.0 49.5 103.2 50.0 103.1 50.6 102.9 51.2 102.6 51.9 102.1 52.6 101.5 53.4 100.8 54.2 100.0 55.0 99.1 55.9 98.0 56.8 96.9 57.9 95.6 58.9 94.2 60.0 92.8 61.0 91.4 62.0 90.0 63.0 88.6 63.9 87.3 64.8 85.9 65.7 84.5 66.5 83.0 67.4 81.5 68.2 79.8 69.1 78.0 70.0 76.0 70.9 73.8 71.9 71.4 72.9 69.0 73.9 66.5 74.9 64.2 75.8 61.9 76.7 59.8 77.5 58.0 78.2 56.4 78.8 55.0 79.4 53.7 79.9 52.2 80.4 50.6 80.9 48.8 81.5 46.5 82.0 43.8 82.6 40.7 83.2 37.3 83.8 33.8 84.4 30.2 85.0 26.6 85.6 23.2 86.1 20.0 86.5 17.0 86.9 14.2 87.1 11.4 87.4 8.7 87.6 6.1 87.7 3.4 87.9 0.7 88.1 -2.0 88.3M-2.0 68.5L-0.3 67.4 1.3 66.3 2.8 65.1 4.4 64.0 6.1 62.9 7.8 61.8 9.6 60.9 11.5 60.0 13.6 59.2 15.8 58.5 18.2 57.9 20.6 57.3 23.0 56.8 25.4 56.3 27.7 55.9 30.0 55.5 32.1 55.1 34.1 54.8 36.0 54.5 37.9 54.3 39.8 54.1 41.9 53.9 44.1 53.7 46.5 53.6 49.3 53.5 52.4 53.4 55.7 53.3 59.0 53.2 62.4 53.2 65.6 53.2 68.5 53.2 71.0 53.3 73.2 53.4 75.1 53.7 76.9 53.9 78.4 54.2 79.8 54.5 81.0 54.8 82.1 55.2 83.0 55.5 83.7 55.8 84.3 56.1 84.7 56.4 84.9 56.7 85.0 57.1 84.9 57.5 84.8 58.0 84.5 58.5 84.1 59.1 83.7 59.9 83.1 60.6 82.3 61.5 81.5 62.3 80.5 63.2 79.3 64.1 78.0 65.0 76.5 65.9 74.7 66.8 72.7 67.8 70.6 68.8 68.4 69.7 66.2 70.7 64.0 71.6 62.0 72.5 60.1 73.4 58.3 74.2 56.6 75.1 54.9 75.9 53.1 76.8 51.1 77.5 49.0 78.3 46.5 79.0 43.7 79.7 40.5 80.3 37.2 81.0 33.7 81.5 30.1 82.1 26.6 82.6 23.2 83.1 20.0 83.5 17.0 83.9 14.2 84.1 11.4 84.4 8.7 84.6 6.1 84.7 3.4 84.9 0.7 85.1 -2.0 85.3M56.0 100.0L57.2 99.4 58.5 98.7 59.7 98.1 61.0 97.4 62.2 96.8 63.5 96.2 64.7 95.6 66.0 95.0 67.2 94.5 68.2 94.1 69.1 93.7 70.0 93.4 71.2 93.0 72.5 92.6 74.3 92.0 76.5 91.3 79.3 90.4 82.6 89.5 86.2 88.4 90.1 87.3 94.1 86.1 98.2 84.9 102.1 83.7 105.7 82.5 109.2 81.3 112.7 80.1 116.1 78.8 119.6 77.5 122.9 76.2 126.1 75.0 129.1 74.0 132.0 73.0 134.6 72.2 137.0 71.5 139.3 70.9 141.4 70.4 143.5 70.0 145.6 69.5 147.7 69.0 150.0 68.5 152.4 67.9 154.7 67.4 157.1 66.8 159.5 66.2 162.0 65.6 164.6 65.1 167.2 64.6 170.0 64.2 173.0 63.8 176.3 63.5 179.7 63.2 183.2 62.9 186.6 62.7 189.9 62.5 193.0 62.3 195.7 62.1 198.1 62.0 200.1 61.9 202.0 61.9 203.7 61.9 205.3 61.8 206.9 61.8 208.6 61.6 210.3 61.4 212.1 61.1 214.0 60.7 215.8 60.2 217.6 59.6 219.4 59.1 221.3 58.6 223.1 58.1 224.9 57.7 226.8 57.3 228.6 57.0 230.6 56.7 232.5 56.4 234.3 56.1 236.1 55.9 237.9 55.7 239.5 55.5 241.0 55.4 242.3 55.2 243.5 55.2 244.6 55.1 245.8 55.1 247.0 55.0 248.4 55.0 250.0 55.0 251.7 55.0 253.4 55.0 255.1 55.0 256.9 55.0 259.0 55.1 261.2 55.1 263.7 55.2 266.5 55.2 269.7 55.2 273.3 55.3 277.2 55.3 281.3 55.3 285.5 55.4 289.8 55.4 294.0 55.5 298.0 55.5M68.0 100.0L69.5 99.6 70.8 99.3 72.0 99.0 73.3 98.7 74.7 98.3 76.3 97.9 78.4 97.2 80.9 96.4 84.1 95.3 87.8 94.0 92.0 92.5 96.4 90.9 100.9 89.3 105.2 87.7 109.3 86.1 113.0 84.7 116.2 83.4 119.2 82.1 122.0 80.8 124.6 79.6 127.1 78.4 129.7 77.2 132.2 76.2 134.9 75.2 137.7 74.3 140.6 73.5 143.5 72.8 146.4 72.1 149.2 71.4 151.9 70.9 154.5 70.3 156.8 69.8 158.8 69.3 160.4 68.9 161.8 68.6 163.2 68.3 164.5 68.0 166.0 67.7 167.8 67.5 170.0 67.2 172.6 66.9 175.7 66.7 178.9 66.4 182.4 66.1 185.9 65.9 189.3 65.7 192.6 65.6 195.7 65.5 198.6 65.5 201.5 65.5 204.2 65.7 207.0 65.8 209.6 65.9 212.0 66.1 214.4 66.2 216.5 66.2 218.4 66.2 220.0 66.1 221.4 66.0 222.7 65.9 224.0 65.7 225.3 65.6 226.8 65.4 228.5 65.3 230.5 65.2 232.6 65.1 234.8 65.1 237.1 65.0 239.4 64.9 241.8 64.8 244.1 64.6 246.4 64.4 248.5 64.1 250.5 63.7 252.5 63.2 254.4 62.7 256.5 62.2 258.8 61.7 261.4 61.2 264.4 60.8 267.9 60.5 271.7 60.2 275.9 59.9 280.2 59.7 284.7 59.5 289.2 59.3 293.7 59.0 298.0 58.8M90.0 100.0L91.0 99.7 91.8 99.4 92.6 99.2 93.4 99.0 94.3 98.7 95.4 98.3 96.7 97.8 98.4 97.1 100.5 96.2 103.0 95.0 105.8 93.7 108.8 92.3 111.8 90.9 114.8 89.5 117.7 88.1 120.3 86.9 122.6 85.8 124.8 84.7 126.8 83.7 128.8 82.7 130.8 81.8 132.9 80.8 135.2 79.9 137.8 78.9 140.7 77.9 144.0 76.9 147.5 75.8 151.1 74.8 154.6 73.8 158.1 72.9 161.3 72.1 164.1 71.5 166.6 71.0 168.8 70.7 170.8 70.4 172.7 70.3 174.5 70.2 176.3 70.1 178.1 70.0 180.0 69.8 181.9 69.6 183.8 69.4 185.7 69.2 187.5 69.0 189.4 68.8 191.4 68.6 193.5 68.5 195.7 68.5 198.1 68.5 200.6 68.7 203.2 68.9 206.0 69.1 208.7 69.3 211.4 69.5 214.0 69.7 216.5 69.8 218.9 69.9 221.2 69.9 223.5 69.9 225.7 69.9 227.9 69.9 230.1 69.9 232.3 69.8 234.5 69.8 236.7 69.8 239.0 69.8 241.2 69.8 243.4 69.8 245.7 69.7 247.9 69.6 250.2 69.5 252.4 69.2 254.6 68.8 256.7 68.4 258.7 67.9 260.8 67.3 262.9 66.7 265.2 66.1 267.7 65.5 270.4 65.0 273.4 64.5 276.6 64.0 280.0 63.4 283.6 62.9 287.2 62.4 290.9 61.8 294.5 61.3 298.0 60.8M298.0 89.0L292.0 89.1 286.0 89.2 280.1 89.4 274.1 89.5 268.1 89.6 262.1 89.7 256.1 89.9 250.0 90.0 243.9 90.2 237.9 90.3 231.8 90.5 225.8 90.7 219.6 90.8 213.2 91.0 206.7 91.2 200.0 91.3 192.8 91.4 185.0 91.5 176.8 91.6 168.6 91.7 160.6 91.7 153.0 91.8 146.0 91.9 140.0 92.0 134.8 92.1 130.3 92.2 126.4 92.3 122.9 92.4 119.8 92.5 117.0 92.7 114.4 92.8 112.0 93.0 109.8 93.2 107.9 93.4 106.3 93.7 105.0 93.9 103.9 94.2 103.1 94.4 102.5 94.7 102.0 95.0 101.6 95.3 101.3 95.7 101.2 96.0 101.2 96.4 101.7 96.7 102.6 97.1 104.0 97.3 106.0 97.5 108.6 97.6 111.8 97.6 115.4 97.6 119.5 97.5 124.0 97.4 129.0 97.3 134.3 97.2 140.0 97.2 146.3 97.2 153.4 97.3 161.0 97.4 169.0 97.5 177.1 97.6 185.1 97.6 192.8 97.6 200.0 97.6 206.7 97.5 213.2 97.3 219.6 97.2 225.8 96.9 231.8 96.7 237.9 96.5 243.9 96.2 250.0 96.0 256.1 95.8 262.1 95.5 268.1 95.3 274.1 95.0 280.1 94.8 286.0 94.5 292.0 94.3 298.0 94.0M298.0 90.7L292.0 90.8 286.0 91.0 280.1 91.1 274.1 91.2 268.1 91.4 262.1 91.5 256.1 91.6 250.0 91.8 243.9 92.0 237.9 92.2 231.8 92.4 225.8 92.6 219.6 92.8 213.2 93.0 206.7 93.2 200.0 93.4 192.7 93.5 184.9 93.7 176.7 93.7 168.4 93.8 160.4 93.9 152.8 94.0 145.9 94.1 140.0 94.2 135.2 94.3 131.3 94.4 128.1 94.6 125.3 94.7 122.8 94.8 120.4 94.9 117.9 95.1 115.0 95.2M298.0 92.3L292.0 92.5 286.0 92.7 280.1 92.9 274.1 93.0 268.1 93.2 262.1 93.4 256.1 93.6 250.0 93.8 243.9 94.0 237.9 94.2 231.8 94.5 225.8 94.7 219.6 95.0 213.2 95.2 206.7 95.4 200.0 95.5 192.7 95.6 184.8 95.7 176.6 95.7 168.2 95.7 160.2 95.7 152.6 95.8 145.8 95.8 140.0 95.8 135.4 95.8 131.8 95.9 129.0 95.9 126.6 96.0 124.6 96.0 122.6 96.1 120.5 96.1 118.0 96.2" fill="none" stroke="#000" stroke-width="1.4" stroke-linejoin="round" stroke-linecap="round"/></defs>
<rect width="685" height="829" fill="#fff"/>
<g transform="translate(23.5,18.4)">
<clipPath id="clipa"><rect x="0" y="0" width="296.0" height="98.0"/></clipPath>
<g clip-path="url(#clipa)">
<rect x="-2" y="-2" width="300.0" height="102.0" fill="#1c3868"/>
<path d="M-5.5 -5.8L301.8 -5.8 301.8 103.8 -5.8 103.8 -5.8 -5.8ZM262.3 27.8L256.8 28.4 252.0 29.5 249.5 31.1 249.0 32.2 249.2 33.0 250.6 34.5 253.5 35.7 264.2 36.9 269.8 36.4 274.8 35.6 277.5 34.4 278.9 32.8 278.9 31.8 278.3 30.8 275.2 29.3 269.5 28.2 262.5 27.8Z" fill="#2c5a98" fill-rule="evenodd"/>
<path d="M-5.5 -5.8L301.8 -5.8 301.8 103.8 -5.8 103.8 -5.8 -5.8ZM254.4 24.8L243.2 26.1 234.2 28.4 231.8 29.6 230.2 31.0 229.5 32.5 229.7 34.2 231.0 35.8 233.5 37.3 242.2 39.8 250.5 40.9 262.5 41.3 274.5 40.3 283.5 38.3 288.5 36.2 290.0 34.8 290.6 33.5 290.5 32.2 290.0 31.2 287.8 29.4 284.8 28.1 278.2 26.3 271.5 25.2 264.8 24.7 254.5 24.8ZM144.1 26.5L136.2 27.6 134.2 28.3 132.7 29.5 131.4 31.8 130.9 34.8 131.3 37.5 132.7 39.5 135.2 40.7 138.8 41.3 151.8 41.3 159.2 40.9 161.8 40.4 163.8 39.5 165.2 38.2 166.5 35.8 167.1 33.2 166.8 30.8 165.7 28.8 163.8 27.5 161.5 26.9 157.2 26.4 144.2 26.5ZM47.7 48.2L34.5 48.8 24.8 49.8 21.7 50.8 20.9 51.5 20.6 52.5 21.0 53.5 21.9 54.2 25.2 55.0 37.2 55.8 52.2 56.0 67.2 55.7 80.2 54.7 85.2 53.5 86.5 52.8 87.3 51.8 87.0 50.8 85.2 49.9 77.8 48.8 59.5 48.0 47.8 48.2ZM7.5 48.5L5.2 49.0 3.7 49.8 3.2 50.8 3.5 51.9 6.2 53.3 10.8 53.6 14.8 53.0 16.9 51.5 16.6 50.2 14.8 49.0 11.8 48.4 7.8 48.5Z" fill="#5094c4" fill-rule="evenodd"/>
<path d="M-5.5 -5.8L301.8 -5.8 301.8 103.8 -5.8 103.8 -5.8 57.2 47.8 58.0 68.5 57.7 100.8 54.9 105.8 53.3 106.8 52.4 107.3 51.2 107.1 50.2 106.2 49.0 102.8 47.3 97.8 46.0 90.8 45.1 67.8 43.7 37.8 43.0 25.8 42.3 13.2 43.1 1.5 41.2 -5.8 41.8 -5.8 -5.8ZM145.8 12.8L135.2 13.8 128.8 15.1 125.8 16.5 123.5 18.8 122.0 21.5 120.6 25.2 119.8 31.8 120.7 37.2 122.3 40.5 124.1 42.8 127.8 46.0 132.5 47.6 137.8 48.5 149.2 49.1 159.8 48.5 166.2 47.5 170.2 46.3 173.7 44.2 174.8 42.8 175.2 41.5 174.2 36.8 174.4 34.2 175.3 31.8 177.3 28.8 177.7 27.5 176.8 24.2 174.2 20.0 170.8 17.3 165.5 15.1 155.8 13.2 145.8 12.8ZM252.4 21.2L243.8 22.0 235.8 23.3 231.2 24.5 226.2 26.3 222.5 28.4 220.2 30.6 219.3 32.8 219.6 35.5 221.5 37.8 224.5 39.8 229.5 41.9 234.5 43.4 243.5 44.9 252.9 45.8 264.8 46.0 277.2 44.8 284.5 43.5 289.2 42.2 293.5 40.5 296.8 38.5 299.9 35.8 301.7 33.5 299.6 30.5 296.2 27.8 292.5 25.9 286.4 23.8 276.8 22.1 266.5 21.1 252.5 21.2ZM208.0 47.8L200.7 49.2 199.2 50.2 199.0 51.5 200.0 52.5 201.8 53.2 208.2 53.9 214.2 53.2 216.0 52.5 217.0 51.5 216.7 50.2 214.8 49.0 210.8 47.6 208.2 47.8ZM253.4 86.5L248.5 87.5 247.4 88.5 247.4 89.5 249.2 90.7 253.8 91.7 265.5 92.0 274.2 90.9 276.0 90.2 276.7 89.2 276.4 88.2 275.4 87.5 270.5 86.5 257.5 86.2 253.5 86.5ZM181.5 87.5L170.2 88.6 168.1 89.2 167.5 90.2 168.8 91.2 172.8 91.9 187.2 92.7 203.2 92.1 208.8 91.3 210.5 90.2 210.4 89.5 209.2 88.8 202.6 87.8 194.5 87.4 181.5 87.5Z" fill="#9fcbe0" fill-rule="evenodd"/>
<path d="M-5.5 -5.8L301.8 -5.8 301.8 28.7 300.2 28.0 293.5 22.6 289.5 20.7 279.2 17.9 269.2 16.5 263.5 16.0 251.8 16.0 237.8 17.7 226.8 20.6 221.5 23.0 216.8 25.9 214.8 26.3 206.9 23.5 205.7 22.2 204.1 18.2 201.9 15.5 199.2 13.7 195.2 12.6 183.2 11.5 167.8 11.0 136.2 8.7 127.5 8.5 111.5 6.6 108.0 7.2 104.9 8.2 103.5 9.3 102.6 11.2 102.1 13.8 102.9 31.5 102.5 36.5 102.0 37.5 101.2 38.0 90.5 39.0 68.2 38.7 55.2 38.3 45.2 36.8 30.2 36.1 28.2 36.6 24.2 39.1 21.8 40.0 15.8 40.8 12.2 40.8 5.5 39.4 0.2 37.1 -5.8 37.9 -5.8 -5.8ZM301.8 37.5L301.8 85.7 297.8 85.3 293.2 84.0 285.5 83.6 261.5 84.3 246.2 84.1 225.2 83.1 181.8 84.0 159.4 85.2 143.2 87.2 138.5 88.2 134.8 89.7 132.8 91.2 132.0 93.2 132.7 94.8 134.5 96.0 144.2 98.2 151.2 99.2 174.8 100.2 209.5 100.9 240.5 100.9 288.5 99.9 301.8 99.0 301.8 103.8 -5.8 103.8 -5.8 59.3 14.2 58.8 48.5 59.6 72.5 59.3 96.8 57.8 112.0 56.2 117.8 54.9 122.8 52.1 124.8 51.7 150.8 51.9 183.2 50.9 187.1 50.2 188.0 49.5 182.4 46.5 181.7 44.8 182.4 43.5 186.5 41.8 192.8 41.0 201.8 41.5 205.5 42.4 207.5 43.5 207.9 44.5 207.0 45.5 201.2 46.7 197.8 48.2 196.5 49.5 196.2 51.2 197.5 53.5 200.2 55.0 204.8 56.0 210.2 56.0 215.8 54.9 217.8 54.0 219.1 52.8 219.7 51.2 219.3 49.5 215.7 46.5 215.4 45.8 216.4 44.5 219.2 42.9 221.2 43.0 228.2 45.9 238.8 48.5 251.5 49.8 267.5 49.6 278.5 48.3 288.8 45.6 293.5 43.6 300.2 38.3 301.8 37.5Z" fill="#dbeaf3" fill-rule="evenodd"/>
<path d="M-5.5 -5.8L301.8 -5.8 301.8 26.3 298.5 24.2 296.8 21.8 296.4 19.5 296.3 11.2 295.8 9.4 294.3 8.2 290.2 7.4 284.5 8.7 277.8 9.6 264.5 10.4 246.5 10.8 202.2 10.8 164.2 9.3 136.2 7.3 127.8 7.0 111.2 5.1 101.5 6.7 91.2 6.5 84.6 7.2 84.5 7.5 85.1 7.8 95.2 11.7 98.5 13.8 99.7 15.5 100.2 17.8 100.6 30.8 99.6 33.2 97.5 34.8 94.2 36.2 90.5 36.8 55.1 36.2 50.9 35.5 47.7 34.2 45.2 32.5 42.2 29.0 40.8 28.2 39.5 28.4 33.8 30.7 32.2 30.9 31.2 30.6 30.5 29.8 29.3 26.2 27.8 23.8 25.2 21.5 21.5 19.4 15.8 18.1 8.5 18.2 7.9 17.2 8.5 15.8 10.2 14.2 12.5 12.7 18.2 10.6 25.8 9.2 26.1 8.8 22.7 7.8 12.2 6.5 5.6 5.2 3.3 3.8 2.6 1.5 1.8 1.0 0.7 1.8 0.2 4.6 -0.0 21.8 -1.8 28.2 -1.8 33.5 -2.8 34.9 -5.8 35.7 -5.8 -5.8ZM50.9 7.8L33.8 8.1 30.1 8.5 28.0 9.2 36.5 12.2 41.8 15.6 43.5 16.1 54.9 9.5 55.8 8.5 54.5 7.8 51.2 7.8ZM301.5 39.8L301.8 39.7 301.8 83.5 297.8 82.8 296.7 81.8 295.8 79.7 294.5 79.2 288.2 80.7 280.5 82.0 265.2 83.1 245.8 82.6 230.2 81.0 222.2 79.0 211.2 74.6 208.2 72.4 206.4 69.5 206.1 66.5 206.7 63.8 208.6 61.2 211.2 59.4 214.5 58.2 220.5 57.5 228.5 55.1 240.8 52.9 251.8 52.1 270.5 52.4 280.8 53.7 288.5 55.2 293.5 56.7 295.2 56.7 295.9 56.2 296.2 55.2 296.4 46.5 296.8 44.2 298.2 42.2 301.3 39.8ZM144.2 53.8L147.2 53.6 152.2 54.7 161.2 54.0 170.8 54.1 179.8 55.1 187.5 57.0 193.5 59.1 198.4 62.5 199.8 64.2 200.7 66.2 201.0 68.2 200.7 69.8 198.7 73.2 194.5 76.3 190.8 78.0 183.8 80.0 179.2 80.9 169.8 82.0 153.5 81.7 145.8 84.4 137.2 85.6 125.5 86.1 104.2 85.5 92.8 88.0 83.5 88.3 78.5 87.7 74.2 86.7 71.4 85.2 68.8 82.3 66.2 81.6 44.2 81.3 22.8 82.1 3.2 81.4 1.5 81.6 0.4 82.5 0.0 84.2 0.2 87.2 0.8 88.4 2.2 88.7 11.5 85.7 24.2 83.9 36.5 84.0 47.8 85.6 54.5 87.5 57.2 88.7 58.7 89.8 59.6 91.5 59.4 93.2 55.8 97.2 56.5 97.8 59.2 98.3 130.5 98.4 137.9 99.2 151.2 101.3 174.8 102.4 203.8 102.8 209.8 103.3 240.8 103.3 246.8 102.8 288.5 102.1 301.8 101.2 301.8 103.8 -5.8 103.8 -5.8 60.7 5.2 59.9 13.5 59.8 48.2 60.8 72.8 60.6 100.8 58.9 124.8 56.1 131.8 55.8 144.0 53.8ZM1.0 95.8L0.8 96.8 1.5 97.6 2.8 97.9 4.0 97.5 4.1 96.8 3.3 96.2 2.2 95.6 1.2 95.7Z" fill="#f6f6f6" fill-rule="evenodd"/>
<path d="M169.8 -4.2L185.2 -4.5 249.5 -3.9 279.8 -2.2 282.8 -1.8 284.1 -1.2 284.4 -0.2 284.4 2.5 285.1 5.2 284.4 6.2 282.1 6.8 273.3 7.8 264.2 8.2 245.2 8.9 188.5 8.8 167.5 8.3 128.5 6.0 111.8 3.8 99.2 4.6 70.2 3.4 59.9 1.8 57.5 1.1 56.4 0.2 56.8 -0.6 58.8 -1.2 72.8 -2.0 101.2 -2.4 108.5 -3.1 128.8 -3.8 169.6 -4.2ZM74.8 21.2L80.8 21.1 85.5 22.4 87.2 23.4 88.2 24.5 88.6 25.8 88.4 27.2 87.3 28.5 85.5 29.6 80.2 31.0 73.8 30.7 70.8 29.8 68.8 28.6 67.5 26.5 67.5 25.2 68.2 24.0 70.5 22.4 74.8 21.2ZM251.5 53.8L264.8 53.6 275.8 54.6 287.8 56.8 301.8 61.0 301.8 75.0 287.8 79.2 275.8 81.3 263.2 82.0 246.8 81.4 236.4 80.2 229.2 78.8 224.4 77.5 211.8 72.5 209.7 70.8 208.5 68.8 208.3 66.5 209.0 64.2 210.8 62.1 213.5 60.7 220.5 59.7 227.7 57.5 235.8 55.8 242.2 54.7 251.2 53.8ZM145.2 55.5L147.2 55.4 151.8 56.3 160.5 55.7 169.5 55.8 181.4 57.5 190.5 60.2 194.9 62.5 197.0 64.2 198.2 65.8 198.8 67.5 198.6 69.2 196.6 72.2 192.2 75.1 185.0 77.5 178.5 79.1 168.5 80.3 152.8 80.1 143.2 83.0 131.8 83.9 104.5 83.3 95.8 86.0 90.2 86.9 81.8 86.8 75.8 85.6 72.5 84.0 69.8 80.6 66.5 79.9 43.8 79.7 21.5 80.2 2.8 79.6 -2.2 80.1 -5.8 79.8 -5.8 62.1 4.8 61.2 12.2 61.1 48.2 62.0 73.5 61.9 96.8 60.7 108.2 59.5 131.2 58.0 137.5 57.1 145.0 55.5Z" fill="#f6e0d3" fill-rule="evenodd"/>
<path d="M175.8 -2.8L192.2 -2.7 203.2 -1.9 250.2 -1.7 266.4 -0.8 268.8 -0.2 269.6 0.8 269.2 1.8 268.3 2.5 263.5 4.3 256.1 5.8 250.2 6.4 233.5 7.0 189.2 7.0 168.2 6.5 128.5 4.4 120.8 3.5 111.5 1.8 109.1 1.2 108.2 0.2 109.5 -0.6 113.2 -1.0 129.2 -1.5 161.2 -1.8 175.7 -2.8ZM253.8 55.5L264.5 55.2 273.8 55.8 284.5 57.5 291.1 59.2 297.2 61.7 301.8 65.1 301.8 70.9 296.2 74.8 287.5 77.9 276.5 79.9 263.2 80.7 247.5 79.8 239.2 78.1 231.5 75.4 227.8 73.0 225.9 70.8 225.2 68.2 225.9 65.2 227.8 63.0 231.5 60.6 235.2 59.1 242.5 57.1 253.8 55.5ZM157.5 57.5L169.8 57.8 177.2 59.0 181.2 60.2 185.5 62.3 188.3 64.5 189.6 66.8 189.5 69.5 187.3 72.5 182.5 75.5 177.5 77.2 169.2 78.6 160.5 79.1 148.2 78.7 140.8 77.3 131.5 73.8 121.8 75.9 101.5 77.8 99.7 78.5 99.6 79.2 100.9 81.5 100.6 82.2 99.5 83.2 95.5 84.9 89.5 85.9 81.8 85.7 76.2 84.5 73.5 82.8 72.2 79.2 69.2 78.3 21.5 78.6 -5.8 77.5 -5.8 64.3 2.2 63.5 12.5 63.2 75.8 64.1 93.2 64.0 99.8 63.5 106.2 62.0 110.2 61.6 116.2 62.0 125.5 62.1 130.8 63.7 137.5 60.5 142.5 58.9 147.8 58.0 157.3 57.5Z" fill="#eba587" fill-rule="evenodd"/>
<path d="M173.8 -1.2L192.5 -1.0 196.6 -0.5 197.3 -0.2 197.6 0.5 196.5 1.3 194.2 1.9 183.8 2.7 171.5 2.1 167.8 1.4 166.5 0.5 166.9 -0.2 167.8 -0.5 173.7 -1.2ZM258.8 57.5L268.2 57.4 276.2 57.9 288.4 60.2 293.3 61.8 297.4 64.2 299.4 66.5 299.7 68.8 298.5 70.8 296.5 72.4 292.5 74.5 288.9 75.8 277.8 78.3 266.5 79.1 255.2 78.7 244.8 77.0 239.8 75.4 235.9 73.5 233.2 71.7 231.7 69.8 231.3 67.5 232.1 65.5 234.2 63.6 237.5 61.7 245.8 59.1 258.8 57.5ZM157.2 60.2L169.2 61.1 178.2 63.3 181.5 64.7 183.4 66.2 184.6 68.2 184.4 70.2 183.5 71.5 181.8 72.8 175.1 75.5 168.2 76.9 158.5 77.6 149.8 77.1 142.2 75.6 134.9 72.5 132.8 71.2 131.7 69.8 131.6 68.2 132.6 66.5 134.8 64.8 137.8 63.5 145.1 61.5 156.9 60.2ZM30.2 66.2L48.5 65.9 58.5 66.9 68.5 68.7 70.4 69.8 70.9 71.2 70.4 72.2 68.8 73.2 60.5 74.8 49.8 75.9 39.8 76.0 30.5 75.9 20.5 75.0 11.8 73.4 10.2 72.7 9.2 71.5 9.2 70.5 9.8 69.6 12.5 68.4 21.2 66.9 30.2 66.2ZM82.2 79.2L91.2 79.3 95.2 80.7 96.1 81.5 96.3 82.2 95.4 83.2 93.7 83.8 88.2 84.5 80.8 84.2 78.2 83.5 76.8 82.5 76.8 81.5 77.8 80.6 82.2 79.2Z" fill="#d0544d" fill-rule="evenodd"/>
<path d="M260.5 62.5L267.2 62.4 272.8 62.7 282.2 64.3 286.4 65.8 288.8 67.2 290.2 68.8 290.3 70.8 289.5 72.2 288.2 73.2 282.8 75.2 275.5 76.5 266.2 77.1 256.2 76.7 248.2 75.3 242.5 73.5 240.8 72.4 239.8 71.2 239.6 69.5 240.2 68.2 241.5 66.9 243.6 65.8 249.8 63.9 260.4 62.5ZM153.5 66.2L161.5 66.1 169.5 67.2 174.2 69.0 175.2 70.2 175.3 71.5 173.8 73.1 170.8 74.2 165.3 75.2 158.8 75.6 152.8 75.4 146.7 74.5 142.8 73.4 140.9 71.8 140.7 70.8 141.0 69.8 143.2 68.2 147.5 66.9 153.4 66.2ZM37.8 68.5L50.1 68.5 53.2 69.2 54.1 69.8 54.3 70.5 53.8 71.2 52.2 71.9 46.5 72.6 37.5 72.3 35.2 71.8 33.8 70.8 33.8 69.8 34.5 69.2 37.6 68.5Z" fill="#98182b" fill-rule="evenodd"/>

<use href="#coast"/>
<use href="#jets"/>
</g>
<rect x="131.2" y="26.0" width="46.1" height="19.0" fill="none" stroke="#389029" stroke-width="1.6"/>
<rect x="131.2" y="58.5" width="46.1" height="20.4" fill="none" stroke="#389029" stroke-width="1.6"/>
<rect x="0" y="0" width="296.0" height="98.0" fill="none" stroke="#222" stroke-width="0.9"/>
</g>
<g transform="translate(384.7,18.4)">
<clipPath id="clipb"><rect x="0" y="0" width="296.0" height="98.0"/></clipPath>
<g clip-path="url(#clipb)">
<rect x="-2" y="-2" width="300.0" height="102.0" fill="#1c3868"/>
<rect x="-2" y="-2" width="300.0" height="102.0" fill="#2c5a98"/>
<path d="M-5.5 -5.8L301.8 -5.8 301.8 103.8 -5.8 103.8 -5.8 -5.8ZM110.2 31.5L107.8 32.3 105.8 33.6 104.2 35.5 103.4 37.5 103.1 39.8 103.4 42.5 104.2 44.8 105.7 47.5 107.5 49.5 110.2 51.7 112.8 53.2 115.5 54.2 120.5 54.7 123.2 54.1 125.6 52.8 128.0 50.2 128.9 46.5 128.4 42.5 126.3 38.5 123.0 35.2 118.8 32.6 114.2 31.3 110.5 31.4Z" fill="#5094c4" fill-rule="evenodd"/>
<path d="M-5.5 -5.8L260.1 -5.8 257.4 -0.8 257.2 1.5 257.6 3.5 258.8 5.5 260.8 7.5 263.3 9.2 266.2 10.5 275.2 13.0 283.2 13.6 290.8 13.0 301.8 10.2 301.8 103.8 -5.8 103.8 -5.8 -5.8ZM96.9 18.5L91.2 19.4 88.2 20.4 86.2 22.2 85.3 24.5 85.6 27.8 87.0 33.2 92.9 45.8 97.2 52.2 104.8 61.3 109.8 66.6 113.8 69.8 116.8 71.3 120.2 71.6 123.8 71.0 127.5 69.3 130.2 67.2 132.5 64.7 134.9 60.5 135.8 58.2 136.1 53.8 136.0 42.2 135.5 38.9 134.3 36.2 130.8 31.4 127.5 28.1 123.8 25.5 118.2 22.6 108.2 19.3 100.5 18.4 97.2 18.5ZM233.1 28.8L228.2 29.9 223.8 31.6 219.5 34.9 217.3 37.5 215.7 41.8 215.6 45.2 217.2 48.6 220.2 51.3 223.2 52.5 227.2 53.2 229.5 53.1 233.2 52.3 239.1 49.8 242.8 46.8 244.7 44.5 246.0 41.5 246.5 38.5 246.1 35.8 244.9 33.5 243.0 31.5 240.5 30.1 236.8 29.1 233.2 28.8Z" fill="#9fcbe0" fill-rule="evenodd"/>
<path d="M-5.5 -5.8L247.0 -5.8 244.3 0.2 244.2 3.2 244.8 5.7 246.5 8.2 249.2 10.8 256.2 14.9 264.2 17.3 276.5 19.0 287.8 18.7 295.8 17.3 301.8 15.9 301.8 103.8 -5.8 103.8 -5.8 64.2 0.2 67.1 2.8 67.4 5.5 67.2 8.2 66.2 10.2 64.7 11.7 62.5 12.3 60.2 11.9 57.8 10.3 55.5 8.2 53.8 5.5 52.8 2.8 52.6 0.2 52.9 -5.8 55.8 -5.8 -5.8ZM217.7 8.2L212.8 9.2 210.1 10.5 207.7 12.8 206.4 15.8 205.8 21.5 207.9 40.8 207.9 48.2 206.0 55.5 200.8 67.6 196.3 82.8 195.8 85.8 195.9 88.2 196.5 89.6 197.8 90.5 199.8 90.4 201.5 89.3 202.2 87.8 203.3 83.2 204.8 79.8 207.7 76.2 210.8 73.4 215.2 70.7 219.2 69.0 227.0 66.8 232.2 64.8 242.8 58.5 250.5 54.6 254.3 52.2 256.8 49.8 258.4 47.5 259.4 44.5 260.2 38.8 260.2 32.5 259.0 26.5 257.4 23.5 255.8 22.6 249.5 20.6 242.5 17.3 238.4 14.5 233.8 9.9 232.2 8.9 222.5 7.9 217.8 8.2ZM91.5 11.8L85.8 12.2 79.8 13.3 76.2 14.7 74.2 16.3 72.7 18.8 72.4 21.8 72.9 24.5 74.9 31.2 78.8 40.2 84.7 49.2 91.2 57.8 94.8 61.5 97.2 65.0 102.0 69.2 103.7 72.8 107.2 78.5 111.8 90.2 113.7 93.5 115.2 95.0 117.2 96.0 119.8 96.3 122.5 95.8 126.6 93.5 128.9 90.5 130.6 85.5 131.7 77.5 132.7 73.5 134.7 68.5 138.0 62.5 137.4 41.5 138.0 33.2 137.7 31.2 135.7 28.5 131.5 25.0 124.1 20.2 115.8 15.9 110.5 13.9 103.8 12.4 96.2 11.7 91.8 11.8ZM289.4 75.5L287.2 76.1 285.5 77.3 284.5 78.8 284.4 80.8 285.3 82.5 287.0 83.8 289.2 84.5 291.5 84.4 293.5 83.5 294.8 82.4 295.6 80.8 295.6 79.2 294.8 77.7 293.5 76.5 291.5 75.6 289.5 75.5Z" fill="#dbeaf3" fill-rule="evenodd"/>
<path d="M-5.5 -5.8L234.8 -5.8 231.9 2.8 230.8 4.1 212.8 5.8 208.5 6.6 204.8 8.2 202.2 10.5 201.2 12.0 200.8 15.2 202.1 20.5 204.8 36.8 204.9 40.5 204.4 44.8 202.0 55.5 199.0 64.2 195.7 70.5 189.8 79.8 185.7 88.5 185.4 90.5 185.7 92.8 187.5 97.4 189.8 99.8 193.2 100.6 198.5 99.8 202.8 97.9 204.1 96.8 204.4 95.8 203.5 90.8 204.9 83.2 207.1 79.2 211.5 74.8 216.5 71.8 222.5 69.5 231.5 67.3 240.5 66.9 243.2 66.2 248.7 63.2 254.2 58.6 259.9 52.8 262.2 49.5 263.7 46.2 264.5 43.2 265.3 37.5 265.2 26.5 266.2 24.9 267.8 24.5 277.5 25.0 289.2 24.0 301.8 21.4 301.8 103.8 -5.8 103.8 -5.8 67.9 1.5 70.0 4.8 69.9 7.8 69.2 10.6 67.8 12.8 65.7 14.5 62.9 15.0 60.2 14.5 57.2 13.0 54.5 10.8 52.3 7.9 50.8 4.8 50.1 1.5 50.1 -5.8 52.1 -5.8 -5.8ZM92.9 8.5L83.2 9.3 72.5 11.2 68.7 12.2 65.1 13.8 62.8 15.7 62.0 17.8 62.3 19.8 64.2 25.1 69.5 34.4 87.8 59.6 88.8 60.5 91.8 61.3 93.3 62.5 94.0 64.2 94.2 67.5 95.2 68.0 98.5 68.3 100.6 69.8 101.1 72.2 99.9 74.5 99.8 75.5 104.6 84.5 105.4 88.2 106.0 94.8 107.8 98.2 109.2 99.2 114.5 101.9 119.5 102.9 125.8 102.8 132.5 100.9 134.2 99.9 135.5 98.5 137.0 96.2 137.7 94.2 137.4 92.2 134.9 88.2 134.0 85.8 133.3 82.8 133.3 79.8 133.8 76.2 135.1 72.5 136.9 69.5 139.7 66.5 140.3 65.2 138.7 54.2 138.5 41.8 140.1 30.8 141.4 26.2 141.2 24.2 138.7 21.5 135.4 18.8 129.5 15.2 124.5 13.2 110.8 9.9 100.5 8.6 93.2 8.5ZM40.4 61.2L29.3 62.5 23.2 63.8 19.8 65.6 18.1 67.8 17.9 70.8 19.2 76.5 20.6 77.8 25.8 80.3 28.2 82.1 30.1 84.5 31.5 88.3 32.2 89.1 42.8 92.0 47.1 92.2 47.1 91.5 45.3 88.5 45.3 85.5 46.0 84.2 47.2 83.0 49.8 82.1 51.5 82.3 52.8 83.0 54.0 84.2 54.8 85.8 54.9 87.5 54.4 89.2 51.4 92.5 52.2 92.9 58.5 93.4 65.5 92.9 70.8 91.4 73.8 89.0 75.2 87.0 76.5 83.8 77.1 78.2 76.5 74.8 75.2 71.3 73.8 69.0 72.1 67.2 67.6 64.5 60.5 62.2 51.8 61.1 40.5 61.2ZM286.1 70.2L281.8 71.5 279.5 73.0 278.0 74.5 276.2 78.5 276.1 80.8 276.6 82.8 278.5 86.2 282.8 89.0 287.5 90.0 292.2 89.4 296.2 87.3 298.5 84.9 299.9 81.2 299.7 77.8 297.8 74.2 294.5 71.6 290.8 70.3 286.2 70.2Z" fill="#f6f6f6" fill-rule="evenodd"/>
<path d="M-5.5 -5.8L225.0 -5.8 225.6 -5.2 229.2 -3.5 230.2 -1.8 229.2 0.3 226.2 1.9 221.8 3.0 212.2 3.7 207.5 4.6 204.5 5.8 199.5 9.2 194.5 9.9 193.1 10.5 193.2 11.8 197.8 16.4 199.8 20.2 202.8 36.8 202.6 43.8 200.5 54.5 197.6 63.2 194.2 69.5 188.3 78.2 184.5 85.2 183.2 86.3 180.8 87.3 173.5 88.0 167.8 87.4 160.2 84.9 158.5 84.8 157.5 85.5 155.1 89.2 152.8 91.6 150.2 93.1 146.8 93.9 142.5 93.4 141.2 92.7 139.8 91.3 137.2 87.7 135.9 85.2 134.9 81.8 134.8 78.8 135.3 76.2 136.6 73.2 138.5 70.5 141.8 67.5 142.5 65.8 140.3 55.8 139.9 51.2 139.9 40.8 141.5 32.7 144.9 22.8 147.5 19.2 152.4 13.8 152.8 12.8 152.5 12.3 150.8 11.9 139.2 12.0 132.2 11.6 126.8 11.0 111.5 8.3 100.5 7.1 93.8 7.0 83.2 7.7 71.5 9.7 67.2 10.7 63.5 12.3 60.6 14.8 59.7 17.8 60.1 20.5 62.9 27.5 67.1 34.2 81.5 53.2 85.3 58.5 87.2 61.9 88.2 62.6 91.2 62.7 92.2 63.5 92.4 64.8 91.7 67.5 92.3 69.2 93.8 70.2 97.8 69.5 99.4 70.5 99.5 71.8 97.5 74.2 97.3 75.5 102.7 85.8 104.3 96.5 106.2 99.6 110.3 102.5 111.1 103.8 37.8 103.8 37.4 102.8 34.8 99.8 33.7 97.5 33.0 93.8 33.8 92.4 35.5 92.3 42.5 94.1 48.8 95.1 58.5 95.6 66.5 94.9 71.2 93.6 73.5 92.3 76.6 88.8 78.8 83.5 79.2 77.8 77.7 71.8 75.5 67.8 71.0 64.5 62.2 60.7 55.5 59.3 51.2 58.9 41.5 58.9 31.5 60.0 22.8 61.6 17.2 64.2 16.8 63.5 17.0 58.8 16.3 56.2 14.3 52.8 11.5 50.3 7.5 48.6 3.5 48.0 -0.5 48.3 -5.8 49.9 -5.8 -5.8ZM88.1 75.8L86.6 77.2 86.6 78.8 88.2 80.2 90.2 80.1 91.4 78.8 91.4 77.2 90.2 75.9 88.2 75.8ZM283.8 29.1L288.8 29.2 293.5 30.6 296.8 32.8 300.8 37.0 301.8 37.5 301.8 48.5 300.8 49.0 298.4 51.8 295.5 54.3 293.2 55.6 290.2 56.5 287.2 57.0 284.2 56.9 280.8 56.3 278.1 55.2 275.5 53.5 272.8 51.0 271.4 48.8 270.4 46.2 270.0 43.2 270.3 40.2 271.1 37.8 272.5 35.5 274.8 33.1 277.5 31.1 280.2 30.0 283.6 29.2ZM14.5 67.4L15.2 67.2 15.5 67.8 16.0 73.5 15.8 74.8 14.2 77.2 24.5 82.1 27.1 84.2 28.5 86.2 29.0 88.5 29.0 90.8 28.0 92.5 25.2 94.8 20.2 96.9 16.5 97.7 11.2 98.0 6.2 97.5 2.2 96.3 -1.5 94.6 -4.8 92.0 -5.8 91.6 -5.8 84.4 1.7 79.5 2.3 78.5 1.5 77.6 -1.8 76.3 -5.8 73.9 -5.8 70.2 0.5 71.9 5.2 71.9 10.2 70.4 14.4 67.5ZM231.5 69.2L243.5 69.3 247.7 70.2 251.5 71.8 255.8 74.4 259.2 77.1 261.4 79.8 263.0 82.8 263.9 86.2 264.1 88.8 263.5 91.5 262.4 94.5 260.7 97.2 258.5 99.5 254.8 102.5 254.0 103.8 214.0 103.8 213.2 102.5 208.0 97.8 205.7 91.8 205.4 89.2 206.2 84.3 208.5 79.9 212.3 76.2 217.3 73.2 222.5 71.1 231.4 69.2ZM49.2 83.8L50.5 83.7 51.7 84.2 53.2 86.2 53.3 87.5 52.8 88.7 50.8 90.2 49.5 90.3 48.3 89.8 46.8 87.8 46.7 86.5 47.2 85.3 49.1 83.8Z" fill="#f6e0d3" fill-rule="evenodd"/>
<path d="M-5.5 -5.8L141.8 -5.8 143.8 -3.8 144.2 -2.8 143.9 -1.8 143.0 -0.8 139.5 1.1 130.5 4.9 124.2 6.4 116.5 7.0 100.2 5.5 89.8 5.5 82.2 6.3 65.2 8.8 44.2 10.1 42.2 10.5 41.2 11.2 41.2 12.2 41.9 13.2 51.8 21.5 69.8 40.2 83.5 58.6 84.6 61.2 84.0 63.2 81.5 65.0 77.8 65.9 75.3 65.2 64.2 59.5 61.0 57.5 49.2 45.2 33.5 31.1 28.1 26.5 25.8 25.0 23.8 24.9 20.5 27.1 17.8 28.1 7.8 29.9 0.8 29.9 -5.8 28.8 -5.8 -5.8ZM171.5 15.1L177.2 15.4 183.2 17.1 187.3 19.5 191.5 23.4 194.7 27.5 197.7 33.5 199.2 38.5 199.9 44.8 199.5 50.0 197.8 57.4 195.5 63.2 192.2 68.5 188.2 72.8 184.5 75.3 179.2 77.2 174.2 78.0 168.8 77.4 163.2 75.6 159.2 73.1 155.1 69.2 152.1 65.2 149.3 59.5 147.8 54.5 147.0 48.5 147.2 42.8 148.2 36.5 150.1 31.5 153.2 26.1 157.5 21.4 161.5 18.3 165.8 16.4 171.2 15.2ZM284.8 35.2L288.5 35.1 291.2 35.7 294.4 37.2 296.5 39.1 297.7 41.5 297.9 43.8 297.0 46.2 295.2 48.3 290.5 50.6 285.8 51.0 280.8 49.5 277.5 47.0 276.5 45.2 276.1 43.2 276.4 41.2 277.2 39.5 280.1 36.8 284.8 35.2ZM141.8 73.2L144.0 73.5 145.8 74.6 147.3 76.5 147.9 78.8 147.5 81.2 146.2 83.1 144.2 84.5 142.2 84.9 140.0 84.5 138.2 83.3 137.2 81.8 136.6 79.5 136.9 77.2 138.2 74.9 139.8 73.6 141.8 73.2ZM230.2 74.1L237.2 74.1 244.2 75.2 249.2 77.1 253.4 79.8 256.3 82.8 257.8 86.8 257.6 90.2 255.6 94.2 252.1 97.2 247.2 99.8 243.2 101.0 235.8 102.0 230.2 101.9 223.5 100.6 218.7 98.8 214.2 95.9 211.7 93.2 210.3 89.5 210.4 85.8 212.0 82.5 214.8 79.6 219.2 76.9 224.2 75.2 230.0 74.2ZM17.5 84.8L18.8 84.8 20.1 85.8 20.1 87.2 19.2 88.0 17.2 88.2 16.0 87.2 16.0 85.8 17.2 84.8ZM49.8 85.4L50.8 85.7 51.5 86.5 51.3 87.8 50.5 88.5 49.2 88.3 48.5 87.5 48.7 86.2 49.5 85.5Z" fill="#eba587" fill-rule="evenodd"/>
<path d="M173.5 19.5L176.8 19.7 180.8 21.0 184.3 23.2 186.7 25.5 189.3 29.2 191.6 34.5 192.7 38.5 193.1 43.5 192.9 48.5 192.2 51.8 190.2 57.1 188.0 60.8 185.5 63.9 182.2 66.3 178.2 68.0 174.8 68.6 171.8 68.2 168.2 67.0 164.8 64.9 162.5 62.8 159.9 59.2 157.9 54.8 156.5 50.5 156.0 46.8 156.0 40.5 156.5 37.5 157.9 33.2 160.3 28.2 163.1 24.5 165.8 22.4 169.2 20.6 173.4 19.5ZM231.2 79.1L234.8 79.1 237.5 79.8 240.5 81.2 242.6 83.2 243.7 85.5 243.8 88.2 242.8 90.5 240.8 92.6 236.2 94.6 231.5 94.9 226.5 93.4 223.4 90.8 222.5 89.2 222.1 87.2 222.4 85.2 223.2 83.5 226.1 80.8 230.8 79.2Z" fill="#d0544d" fill-rule="evenodd"/>
<path d="M174.5 31.8L176.8 31.5 178.8 31.9 181.2 32.9 183.2 34.4 186.1 38.5 187.5 43.8 187.2 49.2 185.4 53.8 183.8 55.9 181.8 57.6 179.7 58.8 177.5 59.4 175.5 59.4 173.5 58.9 169.5 56.2 166.8 52.4 165.6 47.5 165.7 42.5 167.2 37.8 170.2 34.2 174.3 31.8Z" fill="#98182b" fill-rule="evenodd"/>

<use href="#coast"/>
</g>
<rect x="0" y="0" width="296.0" height="98.0" fill="none" stroke="#222" stroke-width="0.9"/>
</g>
<g transform="translate(23.5,192.5)">
<clipPath id="clipc"><rect x="0" y="0" width="296.0" height="98.0"/></clipPath>
<g clip-path="url(#clipc)">
<rect x="-2" y="-2" width="300.0" height="102.0" fill="#1c3868"/>
<rect x="-2" y="-2" width="300.0" height="102.0" fill="#2c5a98"/>
<path d="M-5.5 -5.8L301.8 -5.8 301.8 103.8 -5.8 103.8 -5.8 -5.8ZM148.8 25.2L140.8 26.9 137.9 28.2 135.4 29.8 133.9 31.5 133.2 33.5 133.5 35.5 134.4 37.2 137.9 39.8 142.8 41.7 149.5 42.9 157.2 43.0 163.8 42.0 168.5 40.6 172.5 38.2 174.4 35.8 174.8 33.5 173.9 31.2 171.7 29.2 168.5 27.4 164.8 26.2 159.2 25.2 148.8 25.2ZM202.6 81.2L199.2 81.6 196.8 82.4 195.9 83.5 196.2 85.1 197.4 86.2 199.5 86.9 206.8 87.6 213.5 86.6 215.2 85.8 216.1 84.5 216.0 83.5 215.5 82.8 213.2 81.8 208.2 81.1 202.8 81.2Z" fill="#5094c4" fill-rule="evenodd"/>
<path d="M-5.5 -5.8L301.8 -5.8 301.8 28.7 296.8 26.9 290.8 26.4 270.8 28.4 258.8 30.4 251.8 32.4 243.5 35.8 232.5 42.0 227.2 46.9 213.5 47.2 204.5 49.5 203.1 50.2 202.5 51.2 203.0 51.8 204.5 52.5 209.7 53.5 214.2 53.9 223.2 53.8 228.8 53.2 232.8 52.1 234.5 50.8 235.4 48.2 237.5 47.4 248.5 46.9 263.2 45.4 272.5 45.0 294.2 46.3 297.8 45.8 301.8 44.4 301.8 103.8 280.9 103.8 284.2 102.3 294.2 100.0 295.8 98.8 296.0 97.2 293.9 95.5 289.2 94.2 281.8 93.1 276.2 93.0 268.8 93.1 261.5 94.0 256.2 95.5 254.8 96.2 254.1 97.2 254.3 98.8 255.8 100.0 265.8 102.3 269.1 103.8 -5.8 103.8 -5.8 -5.8ZM146.4 19.2L139.8 20.1 131.2 22.4 127.2 24.2 122.8 26.9 120.5 29.6 119.2 33.2 119.5 36.2 121.2 39.5 125.4 42.8 131.8 45.8 141.2 48.2 151.2 49.0 156.8 48.9 161.8 48.3 170.8 46.2 177.4 43.5 180.5 41.5 181.8 40.1 183.9 33.2 184.0 30.8 182.2 27.8 178.6 25.2 173.0 22.5 163.2 19.9 156.2 19.1 146.5 19.2ZM66.9 56.5L63.5 57.2 61.6 58.2 60.7 59.5 61.1 61.2 63.2 62.2 67.8 62.3 74.8 61.4 76.4 60.8 77.2 59.8 76.5 58.2 74.5 57.2 70.8 56.5 67.2 56.5ZM200.0 79.5L190.8 80.8 184.7 82.5 182.9 83.5 182.0 84.5 181.5 85.8 181.8 87.2 182.7 88.5 184.2 89.6 189.2 91.4 195.8 92.3 203.8 92.4 211.8 91.9 216.8 90.9 222.3 88.8 223.6 87.8 224.4 86.5 224.2 84.8 222.8 83.2 216.1 80.5 208.8 79.4 200.2 79.5Z" fill="#9fcbe0" fill-rule="evenodd"/>
<path d="M-5.5 -5.8L301.8 -5.8 301.8 22.7 297.2 20.9 293.2 20.4 288.5 20.3 278.2 21.1 255.2 24.7 240.5 28.0 233.5 30.4 226.3 33.8 217.2 39.9 210.2 45.7 201.2 48.5 199.8 49.8 199.5 51.2 200.0 52.5 201.2 53.6 205.5 55.0 212.8 56.0 221.2 56.1 229.5 55.2 233.8 54.1 238.8 51.8 247.5 50.8 255.8 50.4 267.8 50.4 287.5 51.9 292.2 52.0 296.8 51.3 301.8 49.5 301.8 92.0 293.5 89.7 283.5 88.3 269.2 88.1 255.2 90.0 248.9 92.2 246.2 94.1 245.6 95.2 245.5 96.5 246.1 97.8 247.2 98.9 249.2 100.1 258.6 103.8 -5.8 103.8 -5.8 56.6 -0.2 58.7 15.8 60.3 20.5 61.4 27.9 63.8 40.5 65.9 48.8 66.1 59.8 64.2 67.8 63.9 82.2 61.9 87.2 62.7 90.5 63.7 92.2 65.0 93.7 67.8 94.8 68.2 97.2 67.7 99.3 66.5 100.4 65.2 100.8 63.2 100.1 60.5 98.2 57.5 96.2 55.7 92.8 54.0 86.5 52.1 68.5 47.5 39.8 38.0 26.2 32.5 8.2 28.8 3.5 28.2 -0.5 28.3 -5.8 29.3 -5.8 -5.8ZM143.6 15.5L133.2 17.2 126.8 19.2 120.8 22.2 116.2 25.6 113.2 29.6 112.1 33.5 112.7 37.5 115.6 41.8 120.5 45.6 127.2 48.9 132.2 50.5 138.8 52.0 146.8 53.0 160.8 52.7 170.8 50.8 179.5 47.8 183.1 45.8 184.7 44.5 185.1 43.2 184.8 39.2 185.5 35.5 186.8 32.3 188.8 29.8 189.4 28.5 188.5 26.3 185.3 23.5 180.8 20.8 177.5 19.4 172.2 17.5 165.2 16.0 156.8 15.2 143.8 15.5ZM197.9 77.8L190.2 78.8 176.0 82.2 171.0 83.8 167.8 85.2 165.8 86.8 164.6 88.8 164.6 90.8 165.8 92.2 167.5 92.9 175.8 93.9 197.8 94.8 211.5 94.2 216.8 93.3 224.2 90.8 230.2 87.6 231.4 86.5 232.1 85.2 231.8 83.4 230.2 81.9 222.2 79.6 212.2 77.9 198.2 77.8ZM300.2 100.5L301.8 100.2 301.8 103.8 291.5 103.8 300.0 100.5Z" fill="#dbeaf3" fill-rule="evenodd"/>
<path d="M60.8 -5.8L301.8 -5.8 301.8 13.0 296.2 14.0 285.5 14.7 259.5 13.8 239.5 13.7 196.5 12.8 165.2 12.7 128.8 13.7 110.5 12.6 95.8 10.4 91.8 10.2 90.8 10.5 91.0 11.2 98.2 16.1 99.8 18.1 101.2 20.5 101.9 22.8 102.0 24.8 100.2 29.4 96.8 32.9 90.8 37.0 87.5 38.7 80.2 40.9 72.8 41.1 67.2 40.4 59.8 38.7 54.2 36.8 49.2 34.2 45.8 31.9 43.7 29.2 42.3 25.8 42.2 22.5 43.5 19.2 45.6 16.5 49.2 13.8 54.5 11.0 60.2 9.2 64.8 8.4 69.5 8.0 79.2 8.2 80.6 7.8 79.5 6.5 74.9 4.5 68.8 3.0 62.5 5.0 55.5 6.2 47.2 7.0 31.5 6.9 23.5 6.1 16.8 4.8 14.2 3.8 13.0 2.2 13.8 0.5 16.2 -0.6 23.2 -2.0 30.8 -2.9 47.2 -3.0 57.2 -2.3 58.5 -3.1 60.7 -5.8ZM18.5 11.1L26.8 11.3 30.8 12.5 34.2 14.2 36.5 16.2 37.6 18.2 37.8 20.8 37.0 23.2 35.1 25.2 32.2 26.9 29.2 28.1 25.5 28.8 20.8 28.7 16.6 28.2 12.8 27.1 9.5 25.5 7.5 23.8 6.3 21.5 6.2 19.2 7.1 16.8 8.8 14.9 11.5 13.2 14.5 12.0 18.2 11.2ZM255.8 55.2L270.8 54.9 283.5 56.0 292.5 57.7 301.8 60.4 301.8 79.6 292.5 82.3 283.8 84.0 271.2 85.0 257.2 85.0 246.2 84.0 239.5 82.6 233.2 79.8 224.8 77.4 221.6 75.2 219.7 72.5 219.2 69.2 220.5 66.2 222.8 63.8 227.5 61.1 234.2 58.7 239.5 57.3 246.2 56.0 255.7 55.2ZM151.2 56.2L161.8 55.9 169.2 56.6 174.8 57.6 183.8 60.3 188.2 62.6 191.3 65.5 192.9 68.8 192.6 72.2 190.4 75.5 186.8 77.6 171.4 80.5 160.2 83.5 155.5 86.5 150.5 91.1 146.8 92.4 119.8 95.8 72.2 100.3 68.2 100.0 62.5 98.6 59.5 97.1 57.9 95.2 57.8 93.5 58.5 92.2 60.5 90.7 63.2 89.8 80.5 86.3 99.2 83.2 124.8 77.8 125.8 77.2 125.9 76.5 123.5 72.5 123.1 69.2 124.2 66.2 126.8 63.3 131.2 60.6 135.8 59.0 143.5 57.1 151.1 56.2ZM7.5 61.5L15.2 61.8 21.8 63.5 26.5 65.9 29.5 69.7 30.5 70.2 40.2 68.7 49.5 68.2 61.8 66.0 79.5 64.1 83.5 64.2 88.3 65.2 90.0 66.2 90.5 67.8 89.5 70.1 86.8 72.4 82.5 74.9 77.5 76.5 69.8 78.4 38.5 84.1 32.2 84.3 30.2 83.9 28.5 83.0 27.2 81.5 26.0 79.2 25.2 78.5 23.8 78.5 19.8 80.0 16.2 80.9 9.2 81.0 2.5 79.4 -0.2 78.1 -2.5 76.4 -4.2 74.2 -5.0 71.8 -4.9 69.5 -3.8 67.2 -1.8 65.1 0.8 63.4 3.5 62.3 7.2 61.5Z" fill="#f6f6f6" fill-rule="evenodd"/>
<path d="M70.5 -5.8L301.8 -5.8 301.8 10.8 295.8 11.9 285.2 12.6 259.5 11.6 239.5 11.6 196.8 10.6 165.8 10.6 139.2 11.6 120.1 11.2 108.1 10.2 88.8 7.1 84.2 5.9 74.2 2.0 64.3 -0.5 62.0 -1.8 62.1 -2.8 63.0 -3.5 69.5 -5.1 70.5 -5.8ZM72.5 22.1L80.5 22.3 84.2 23.2 87.5 24.8 89.8 26.5 91.3 28.5 91.9 30.8 91.3 33.2 89.8 34.8 87.0 36.5 83.5 37.9 79.2 38.8 69.8 38.6 66.7 37.8 63.6 36.5 61.6 34.8 60.4 32.8 60.2 30.2 61.1 27.8 62.8 25.9 65.5 24.2 68.5 23.0 72.2 22.2ZM257.5 56.8L271.2 56.6 283.5 57.8 292.5 59.6 301.8 62.4 301.8 77.6 292.8 80.3 283.8 82.2 271.2 83.4 258.2 83.2 246.5 82.1 240.2 80.7 233.8 78.0 226.3 75.8 223.4 73.8 221.7 71.5 221.5 69.2 222.7 66.8 224.8 65.1 229.2 62.7 236.3 60.2 243.4 58.5 257.4 56.8ZM151.2 57.8L160.2 57.6 166.8 58.1 173.8 59.2 181.6 61.5 185.8 63.5 189.1 66.2 190.6 68.8 190.5 71.5 188.5 74.4 185.5 76.2 165.2 80.5 158.3 82.5 156.2 83.8 149.8 89.7 146.8 90.8 112.2 95.1 90.8 97.0 72.2 98.1 68.5 97.9 64.0 96.8 61.6 95.8 60.5 94.7 60.4 93.8 61.3 92.8 65.3 91.5 81.5 88.3 100.2 85.1 127.5 79.3 128.8 78.4 129.1 77.2 125.8 72.8 125.1 69.8 125.7 67.5 127.5 65.2 131.4 62.5 135.8 60.8 143.5 58.8 150.9 57.8ZM7.2 63.5L10.5 63.2 15.5 63.5 19.8 64.5 22.9 65.8 25.2 67.4 26.5 69.2 27.3 71.8 27.0 73.8 25.5 75.2 20.5 77.5 15.2 78.8 8.2 78.7 2.1 76.8 -0.5 75.2 -2.1 73.5 -2.7 71.5 -2.5 69.5 -1.3 67.5 0.8 65.8 3.5 64.5 7.0 63.5Z" fill="#f6e0d3" fill-rule="evenodd"/>
<path d="M258.2 58.5L270.5 58.2 278.6 58.8 285.8 59.8 294.5 62.2 300.2 64.7 301.8 65.1 301.8 75.0 293.6 78.2 284.8 80.4 272.2 81.8 262.5 81.8 248.8 80.4 241.2 78.5 233.6 75.2 231.8 73.8 230.7 72.2 230.2 69.5 231.1 67.2 233.1 65.2 236.7 63.2 240.0 61.8 246.5 60.1 258.1 58.5ZM151.8 59.2L159.8 59.0 166.2 59.6 173.2 60.7 177.8 62.1 182.3 64.2 185.3 66.5 186.6 68.8 186.5 71.5 184.5 74.2 180.2 76.2 155.2 81.8 151.8 86.2 149.0 88.5 146.8 89.3 110.5 94.1 89.5 95.4 84.4 94.8 82.5 93.7 82.4 92.8 83.2 91.8 86.5 90.5 137.2 80.2 137.5 79.8 137.1 79.2 132.2 76.6 128.1 72.8 127.4 71.5 127.2 69.8 128.1 67.2 131.2 64.4 136.0 62.2 143.8 60.2 151.8 59.2Z" fill="#eba587" fill-rule="evenodd"/>
<path d="M261.2 60.5L270.2 60.3 277.5 60.8 289.2 63.1 293.2 64.7 296.2 66.8 297.6 68.8 297.7 70.8 296.8 72.5 295.2 74.1 290.2 76.6 280.0 79.2 269.5 80.2 258.5 79.6 249.5 77.7 242.4 75.2 240.2 73.6 238.8 71.8 238.3 69.8 238.9 67.8 240.5 66.2 243.2 64.5 246.2 63.3 250.3 62.2 256.2 61.0 261.1 60.5ZM152.8 60.8L162.8 61.2 171.1 62.5 175.8 63.8 179.5 65.5 181.5 67.1 182.6 69.2 182.5 71.2 181.8 72.5 180.4 73.8 176.6 75.5 161.1 78.8 154.8 79.3 147.5 78.7 138.6 76.8 133.1 74.5 131.2 73.1 130.0 71.5 129.7 69.5 130.4 67.8 132.1 66.2 134.4 64.8 141.4 62.5 152.5 60.8ZM139.8 82.5L147.8 83.4 149.2 83.8 150.0 84.5 148.5 85.9 144.1 87.2 118.5 91.6 109.8 92.5 106.8 92.2 105.9 91.5 105.9 90.8 106.6 90.2 110.2 88.8 128.3 84.5 139.7 82.5Z" fill="#d0544d" fill-rule="evenodd"/>
<path d="M153.5 63.5L160.8 63.9 168.8 65.9 170.6 66.8 172.0 68.2 172.6 69.5 172.4 71.2 170.8 73.0 167.8 74.4 161.2 76.0 155.5 76.5 149.2 76.1 142.5 74.5 139.5 73.2 137.8 71.5 137.4 70.2 137.6 68.8 138.6 67.5 140.2 66.4 147.2 64.3 153.2 63.5ZM265.2 63.5L274.3 63.8 281.8 65.6 284.8 67.0 286.6 68.5 287.5 70.2 287.4 72.2 285.4 74.5 280.9 76.5 275.8 77.6 269.2 78.1 262.4 77.8 256.2 76.8 251.2 74.9 248.9 72.8 248.4 71.2 248.7 69.5 249.8 68.0 251.5 66.8 256.8 64.8 265.1 63.5Z" fill="#98182b" fill-rule="evenodd"/>
<path d="M269.5 69.8L272.2 69.8 274.5 70.3 275.6 71.2 275.8 72.5 274.8 73.5 272.5 74.2 269.5 74.2 267.2 73.5 266.2 72.5 266.4 71.2 267.5 70.3 269.4 69.8Z" fill="#6c0c23" fill-rule="evenodd"/>

<use href="#coast"/>
<use href="#jets"/>
</g>
<rect x="131.2" y="26.0" width="46.1" height="19.0" fill="none" stroke="#389029" stroke-width="1.6"/>
<rect x="131.2" y="58.5" width="46.1" height="20.4" fill="none" stroke="#389029" stroke-width="1.6"/>
<rect x="0" y="0" width="296.0" height="98.0" fill="none" stroke="#222" stroke-width="0.9"/>
</g>
<g transform="translate(384.7,193.0)">
<clipPath id="clipd"><rect x="0" y="0" width="296.0" height="98.0"/></clipPath>
<g clip-path="url(#clipd)">
<rect x="-2" y="-2" width="300.0" height="102.0" fill="#1c3868"/>
<rect x="-2" y="-2" width="300.0" height="102.0" fill="#2c5a98"/>
<path d="M-5.5 -5.8L301.8 -5.8 301.8 103.8 -5.8 103.8 -5.8 -5.8ZM108.8 40.8L105.8 41.6 103.5 42.8 102.2 44.0 101.4 45.5 101.4 47.2 102.2 48.9 103.8 50.7 106.2 52.3 111.8 54.5 115.8 55.2 119.5 55.3 122.2 55.0 124.8 54.1 126.8 53.0 128.2 51.5 128.6 49.5 128.1 47.5 126.4 45.5 123.8 43.7 119.8 42.0 116.5 41.1 113.2 40.7 108.8 40.8ZM190.4 80.8L189.2 81.7 188.7 82.8 188.9 83.8 189.7 84.8 192.5 85.4 193.8 85.1 195.0 84.2 195.3 82.8 194.5 81.3 192.5 80.6 190.5 80.8Z" fill="#5094c4" fill-rule="evenodd"/>
<path d="M-5.5 -5.8L301.8 -5.8 301.8 103.8 -5.8 103.8 -5.8 -5.8ZM104.3 29.8L99.2 30.8 94.5 32.8 90.5 35.8 88.3 38.8 87.2 43.2 87.7 46.8 89.7 50.8 93.1 54.5 97.2 57.5 103.2 60.2 109.8 61.9 114.5 62.3 119.8 62.2 125.5 60.9 130.1 58.8 134.2 55.5 135.5 53.6 136.3 51.5 136.8 49.2 136.7 46.8 136.0 44.2 134.8 41.8 131.0 37.5 126.5 34.3 119.8 31.4 112.2 29.8 104.5 29.8ZM235.0 33.8L229.1 35.5 226.5 37.1 224.6 38.8 223.5 40.8 223.3 42.5 223.8 44.5 225.2 45.9 227.2 47.2 229.5 47.9 235.2 48.1 240.8 46.5 243.2 45.2 245.2 43.4 246.4 41.5 246.7 39.8 246.5 38.2 245.3 36.5 243.2 35.0 240.8 34.1 238.2 33.7 235.2 33.8ZM191.0 76.2L187.2 77.2 183.1 78.8 180.7 80.5 178.6 82.8 177.5 85.2 177.4 87.5 178.4 89.8 180.2 91.7 182.8 93.1 185.7 93.8 189.2 94.2 192.5 94.0 196.9 92.8 200.8 91.2 203.3 89.5 205.4 87.2 206.5 85.0 206.7 82.8 205.8 80.5 204.2 78.6 201.7 77.2 198.5 76.2 194.8 75.8 191.2 76.1Z" fill="#9fcbe0" fill-rule="evenodd"/>
<path d="M-5.5 -5.8L301.8 -5.8 301.8 103.8 -5.8 103.8 -5.8 71.4 -1.8 73.9 0.2 74.6 2.8 74.8 5.2 74.2 7.5 72.7 9.3 70.5 10.6 67.5 11.0 64.2 10.7 60.8 9.5 57.8 7.7 55.5 5.2 53.8 2.5 53.2 -0.2 53.4 -5.8 56.6 -5.8 -5.8ZM232.1 22.2L227.7 23.2 221.2 25.8 217.8 28.2 214.7 31.8 212.8 35.5 212.1 39.5 212.5 43.5 214.2 47.5 217.2 51.2 220.8 54.0 225.8 56.2 230.8 57.7 235.8 58.0 240.8 57.7 246.8 56.0 250.8 54.2 253.7 52.2 256.7 49.2 258.2 46.9 259.3 44.2 260.0 41.2 260.0 38.8 259.2 35.5 257.8 32.5 256.4 30.5 253.5 27.7 248.5 24.6 240.5 22.3 232.2 22.2ZM94.7 24.2L89.8 24.5 81.5 26.3 78.2 28.2 76.8 30.5 77.4 34.2 83.6 48.8 86.7 53.5 89.8 56.8 96.8 62.0 102.2 64.9 108.8 67.1 117.5 68.5 124.2 68.2 130.8 66.5 134.5 64.8 138.2 61.5 140.1 58.5 141.5 54.0 142.1 49.5 142.2 43.2 141.8 40.2 140.8 37.6 139.5 35.5 137.2 33.2 134.4 31.2 130.2 28.9 125.8 27.2 121.5 26.1 110.2 24.4 102.8 24.0 94.8 24.2ZM288.1 67.5L285.8 68.8 284.1 71.2 283.1 74.2 283.1 77.8 284.1 80.8 285.8 83.2 288.1 84.5 290.5 84.7 293.2 83.7 295.5 81.3 296.7 78.2 296.8 74.5 295.8 71.3 293.8 68.8 291.2 67.4 288.2 67.5ZM191.6 73.8L187.1 74.8 181.3 77.2 177.6 79.8 175.2 82.8 174.2 86.2 174.5 89.5 176.5 92.5 179.8 95.1 183.2 96.5 187.2 97.2 191.5 97.2 195.2 96.6 199.8 95.2 202.8 93.7 206.2 91.1 208.5 88.2 209.7 85.2 209.8 81.8 208.7 79.2 206.6 76.8 203.8 75.1 200.8 74.2 197.2 73.6 191.8 73.8Z" fill="#dbeaf3" fill-rule="evenodd"/>
<path d="M-5.5 -5.8L187.0 -5.8 183.8 -2.3 183.4 -0.5 189.0 10.2 192.0 14.2 194.2 16.2 197.8 18.4 203.2 20.5 203.9 21.2 203.6 22.2 200.2 25.5 199.8 27.2 200.0 29.5 205.9 44.2 210.5 62.8 211.8 64.8 214.2 67.0 218.1 69.5 220.2 70.2 222.1 69.8 227.2 67.6 234.5 65.4 239.2 64.9 248.2 65.1 251.5 64.2 255.2 62.1 260.2 57.9 264.3 53.2 266.8 48.8 268.2 44.5 268.5 38.2 267.4 32.8 264.8 27.8 262.5 25.5 258.6 23.2 253.2 21.1 245.3 18.8 244.2 18.2 244.5 17.8 250.5 17.5 257.2 17.8 277.5 20.1 284.5 19.0 287.5 19.0 291.2 19.9 296.8 23.0 298.5 23.1 301.8 22.7 301.8 103.8 -5.8 103.8 -5.8 75.8 2.7 78.5 3.7 79.2 3.5 80.5 -0.2 85.2 -0.7 86.8 -0.8 88.8 -0.2 91.0 1.2 92.9 3.2 94.4 6.0 95.8 8.8 96.6 12.2 96.9 15.5 96.6 18.1 95.8 21.3 94.2 23.2 92.5 24.4 90.5 24.9 88.2 24.6 86.2 23.8 84.5 22.5 82.8 20.8 81.6 17.2 79.8 9.8 78.7 8.5 77.8 8.8 76.5 13.4 70.8 14.8 66.2 15.0 63.2 14.4 59.8 13.5 57.4 11.8 54.9 8.2 51.8 3.8 50.2 -0.2 50.2 -5.8 52.0 -5.8 -5.8ZM91.3 18.5L85.8 19.1 79.2 20.6 75.5 21.9 72.8 23.5 71.5 25.2 71.2 26.8 71.4 31.2 72.3 35.5 76.8 46.5 82.5 56.1 89.2 63.3 101.2 73.4 104.5 77.5 106.2 82.2 106.9 92.2 108.8 96.8 110.5 98.5 112.8 99.5 115.2 100.0 117.2 99.6 119.7 98.2 121.3 95.8 124.1 82.8 126.0 78.5 139.2 63.2 142.0 58.5 143.5 52.5 144.1 42.8 144.0 38.5 142.6 28.5 141.2 26.6 137.1 24.8 131.6 23.2 119.8 20.5 102.5 18.5 96.2 18.2 91.5 18.5ZM286.2 64.2L281.7 65.8 278.3 68.8 276.3 73.2 276.2 78.2 277.8 82.5 280.8 85.6 285.5 87.7 290.2 87.9 294.5 86.3 297.9 83.2 299.0 81.2 299.9 78.5 300.0 74.2 298.3 69.5 295.2 66.1 290.8 64.3 286.2 64.2ZM192.5 72.5L187.2 73.5 180.5 76.1 176.5 78.8 173.2 82.5 171.4 86.2 170.7 90.8 172.2 93.8 175.5 97.0 179.5 99.0 183.8 100.0 188.8 100.4 193.8 100.1 198.2 99.0 204.8 96.3 208.5 93.8 211.1 90.8 212.9 87.2 213.3 82.5 212.5 79.2 210.2 76.2 207.5 74.1 204.5 72.9 198.2 72.2 192.8 72.5Z" fill="#f6f6f6" fill-rule="evenodd"/>
<path d="M-5.5 -5.8L182.8 -5.8 181.4 -2.5 181.1 -0.8 181.6 1.2 183.6 4.8 183.4 6.5 168.6 16.5 167.6 17.8 168.2 18.4 169.2 18.8 176.8 19.7 184.8 21.5 192.8 24.1 195.5 25.3 196.8 26.4 198.4 30.8 203.3 41.5 204.5 45.2 207.3 59.2 206.8 63.5 204.5 68.5 202.5 70.4 188.5 72.1 182.2 74.2 178.2 76.2 175.2 78.5 171.6 82.2 170.1 84.2 168.5 87.5 167.2 88.6 159.2 90.3 144.5 92.4 138.5 92.6 134.8 91.9 131.5 90.2 129.4 87.8 128.0 84.8 128.0 81.5 129.4 77.8 140.6 64.2 142.6 61.2 143.7 58.5 145.1 52.8 146.0 40.5 145.2 28.5 145.8 26.5 147.7 24.2 147.6 23.2 146.2 22.6 141.8 22.5 135.5 21.6 118.5 18.1 97.2 15.4 83.2 15.4 74.5 16.7 63.5 19.2 61.3 20.2 60.6 21.2 61.7 22.5 67.5 25.6 68.7 27.2 69.6 33.5 70.7 37.2 74.3 46.2 78.4 54.2 78.6 56.5 77.4 65.5 77.6 67.8 78.5 70.5 80.8 74.2 85.4 78.8 97.5 87.6 103.8 93.3 107.8 99.1 111.8 102.1 112.3 103.8 -5.8 103.8 -5.8 78.1 -1.3 79.8 -0.5 80.6 -0.6 81.5 -2.4 84.8 -3.0 87.2 -2.7 90.2 -1.6 92.8 1.2 95.7 6.5 98.3 9.8 99.0 13.5 99.0 17.2 98.4 20.2 97.3 23.2 95.5 25.2 93.5 26.6 90.8 27.1 88.2 26.1 84.2 23.5 80.8 19.2 78.3 13.7 76.8 12.8 76.2 13.1 75.2 16.0 70.2 17.1 64.5 16.9 61.2 16.0 57.8 13.4 53.5 9.5 50.1 4.8 48.2 -0.2 48.1 -5.8 49.8 -5.8 -5.8ZM59.3 67.5L57.8 68.4 56.4 69.8 54.3 73.8 53.1 78.5 53.1 84.8 54.1 89.5 56.0 93.5 58.5 96.1 59.8 96.7 61.5 96.8 63.2 96.3 64.8 95.2 67.3 91.2 68.8 85.8 69.0 79.8 67.8 74.2 65.6 69.8 64.2 68.3 62.8 67.5 61.2 67.2 59.5 67.4ZM285.2 21.1L288.2 21.3 290.8 22.2 297.2 26.5 299.1 30.2 300.3 36.2 299.7 41.8 298.7 44.2 297.4 46.2 294.8 48.6 292.2 50.4 289.5 51.5 286.8 52.0 284.2 51.9 281.8 51.3 279.2 49.9 277.0 48.2 274.9 45.8 273.5 43.5 272.5 40.5 272.1 37.5 272.1 33.8 272.6 31.2 273.6 28.5 275.2 25.8 277.1 23.8 278.6 22.8 284.9 21.2ZM235.8 67.1L243.8 66.9 252.8 68.0 258.8 70.7 263.6 75.2 265.3 77.5 266.3 79.8 267.0 82.8 267.0 85.5 266.2 88.5 264.9 91.2 263.2 93.5 260.2 96.3 255.8 98.9 248.5 101.4 243.8 102.1 237.5 102.0 232.8 101.2 225.2 98.4 222.1 96.5 218.3 92.8 216.2 89.5 215.6 86.2 215.8 80.0 217.4 76.5 220.1 73.5 224.9 70.8 230.8 68.5 235.7 67.2Z" fill="#f6e0d3" fill-rule="evenodd"/>
<path d="M33.8 21.8L41.8 21.7 50.8 22.9 58.8 25.9 61.8 27.8 63.8 29.8 65.4 32.5 66.9 36.2 68.0 40.8 68.3 44.2 68.2 50.2 67.6 53.8 66.4 57.2 64.4 59.5 61.8 61.0 58.5 61.8 53.2 62.3 45.2 62.2 39.5 61.4 35.5 60.2 33.2 58.8 30.6 56.2 27.4 51.2 23.2 41.5 21.8 34.2 21.4 28.5 22.4 25.8 24.5 24.0 27.8 22.8 33.6 21.8ZM167.2 24.2L173.5 24.1 181.8 25.2 190.8 27.9 194.5 29.7 196.2 31.0 198.2 34.0 201.5 41.2 203.5 48.2 203.8 52.5 203.6 55.8 202.6 59.5 201.1 63.2 198.6 67.5 196.9 69.2 195.0 69.8 187.5 71.0 179.8 73.7 175.5 76.3 170.2 80.9 167.2 82.3 156.2 85.0 152.8 84.9 152.0 83.8 152.6 78.5 152.5 77.4 151.8 76.4 149.8 80.5 148.5 81.8 146.5 83.0 142.2 84.0 139.8 83.7 137.8 83.0 136.1 81.8 134.9 80.5 134.3 78.8 134.3 77.2 135.2 75.2 137.2 73.4 145.0 70.2 143.3 68.5 143.0 67.5 143.5 66.2 147.2 61.1 148.8 55.6 149.4 48.8 148.9 35.5 149.5 32.1 151.5 29.7 155.2 27.5 161.5 25.3 167.1 24.2ZM291.8 34.4L293.8 34.3 295.5 35.0 296.8 36.5 297.5 38.5 297.4 40.8 296.5 43.2 295.1 44.8 293.2 45.7 291.5 45.5 289.9 44.5 288.8 43.1 288.2 41.2 288.1 39.2 288.7 37.2 289.9 35.5 291.5 34.5ZM236.2 69.5L243.2 69.2 248.5 70.0 254.8 72.5 259.2 75.6 261.8 79.2 262.9 83.8 261.9 88.5 259.8 91.8 256.0 94.8 251.9 96.8 246.8 98.4 241.8 98.9 237.2 98.7 232.8 97.8 226.8 95.3 222.8 92.4 220.5 89.4 219.3 85.5 219.4 81.8 220.7 78.2 222.9 75.5 226.7 72.8 232.3 70.5 236.1 69.5ZM81.8 85.2L84.5 85.2 86.8 86.0 88.9 87.5 90.2 89.5 90.4 91.5 89.7 93.5 88.2 95.2 85.8 96.5 82.8 96.9 79.8 96.3 77.2 94.6 75.8 92.5 75.6 90.2 76.8 87.8 79.2 86.0 81.8 85.2Z" fill="#eba587" fill-rule="evenodd"/>
<path d="M168.5 28.2L175.8 28.1 180.5 29.2 186.5 31.9 192.4 36.2 195.3 39.8 197.6 44.8 198.4 50.8 198.1 55.2 197.0 58.2 195.0 61.5 191.6 65.5 189.0 67.5 186.8 68.6 182.5 69.8 174.5 71.0 170.5 72.1 166.5 74.2 159.2 79.5 157.5 80.2 156.2 80.2 155.4 79.5 154.0 74.2 150.4 69.8 149.7 68.2 152.0 50.8 151.2 38.6 151.3 36.2 152.8 33.6 155.8 31.6 162.2 29.5 168.4 28.2ZM41.8 52.2L44.2 52.7 45.5 54.5 45.1 56.5 42.8 57.8 40.2 57.4 39.0 56.5 38.5 55.5 38.6 54.2 39.3 53.2 41.8 52.2ZM144.5 73.4L147.1 73.5 148.5 75.0 148.8 76.2 148.5 77.7 146.8 79.4 144.5 79.5 143.2 78.5 142.5 77.5 142.4 75.2 143.1 74.2 144.3 73.5ZM237.5 74.2L241.5 74.1 245.8 74.8 250.2 76.8 252.5 78.6 254.3 81.2 255.0 84.2 254.2 87.2 252.2 89.8 249.8 91.4 246.2 93.1 239.8 94.0 233.5 93.0 229.7 91.2 227.5 89.5 226.0 87.5 225.2 85.2 225.3 82.5 226.2 80.2 228.2 77.9 230.5 76.4 234.2 74.8 237.5 74.2Z" fill="#d0544d" fill-rule="evenodd"/>
<path d="M173.2 36.1L178.2 36.4 182.8 38.2 185.9 41.2 187.7 44.8 187.8 48.8 186.2 52.5 183.2 55.6 178.8 57.5 173.5 57.9 170.8 57.4 168.2 56.4 166.2 55.2 164.6 53.5 162.4 49.5 162.1 47.2 162.3 44.8 163.0 42.8 164.5 40.6 167.8 37.8 170.5 36.7 173.0 36.2ZM239.5 78.5L242.2 78.7 244.5 79.5 246.3 80.8 247.5 82.5 247.8 84.2 247.3 85.8 246.0 87.5 244.2 88.6 240.8 89.5 237.8 89.3 234.5 87.8 232.7 85.8 232.3 83.5 233.4 81.2 235.8 79.4 239.2 78.5Z" fill="#98182b" fill-rule="evenodd"/>

<use href="#coast"/>
</g>
<rect x="0" y="0" width="296.0" height="98.0" fill="none" stroke="#222" stroke-width="0.9"/>
</g>
<g transform="translate(23.5,367.4)">
<clipPath id="clipe"><rect x="0" y="0" width="296.0" height="98.0"/></clipPath>
<g clip-path="url(#clipe)">
<rect x="-2" y="-2" width="300.0" height="102.0" fill="#1c3868"/>
<rect x="-2" y="-2" width="300.0" height="102.0" fill="#2c5a98"/>
<path d="M-5.5 -5.8L301.8 -5.8 301.8 103.8 -5.8 103.8 -5.8 -5.8ZM254.1 28.2L251.8 28.8 250.3 29.8 249.8 31.2 250.8 32.7 254.2 33.8 259.2 33.9 262.5 33.1 264.1 31.5 263.8 29.8 261.5 28.5 258.5 28.0 254.2 28.2ZM150.1 29.2L142.5 30.8 137.5 33.2 136.1 34.5 135.3 36.2 135.3 37.8 136.1 39.5 138.8 41.7 143.8 43.6 150.5 44.9 157.8 45.0 164.2 44.1 169.2 42.6 172.8 40.6 174.6 38.2 174.7 36.2 173.6 34.2 171.4 32.5 168.2 31.0 159.5 29.1 150.2 29.2Z" fill="#5094c4" fill-rule="evenodd"/>
<path d="M-5.5 -5.8L301.8 -5.8 301.8 25.3 300.8 24.8 297.7 21.5 295.2 20.0 291.2 18.8 285.8 18.2 280.8 18.1 272.5 18.7 265.5 19.6 251.2 20.4 239.5 21.8 234.2 23.2 229.5 25.8 226.9 28.8 222.7 36.8 221.5 37.9 219.8 38.3 217.8 37.7 215.4 36.2 210.6 31.2 208.2 29.4 205.8 28.3 200.8 27.0 193.5 25.7 178.2 24.1 152.8 22.4 146.8 22.4 137.8 23.3 130.8 25.8 127.5 27.8 124.1 30.5 121.1 33.5 120.2 35.5 120.9 36.8 124.2 38.6 125.8 40.1 126.8 41.8 128.0 45.8 129.5 47.1 139.3 48.8 151.5 49.9 184.8 50.8 218.5 50.3 229.8 49.3 240.2 47.3 250.8 46.1 287.2 46.3 295.5 45.5 301.8 43.6 301.8 103.8 -5.8 103.8 -5.8 -5.8ZM85.0 45.5L79.5 46.0 72.8 47.3 51.2 51.7 45.2 53.3 39.2 55.7 38.1 56.8 38.0 58.5 39.4 60.5 41.8 62.1 44.8 63.0 47.8 62.9 68.2 58.0 85.5 54.7 91.5 53.2 95.5 51.4 96.8 50.3 97.5 49.2 97.1 47.5 94.7 46.2 90.5 45.4 85.2 45.5Z" fill="#9fcbe0" fill-rule="evenodd"/>
<path d="M-5.5 -5.8L301.8 -5.8 301.8 19.4 295.2 16.7 290.2 15.6 280.8 15.1 265.8 15.0 247.5 15.5 206.5 18.0 171.8 18.0 163.5 17.7 148.5 18.0 135.5 19.1 124.8 21.3 115.8 25.0 109.8 28.7 102.2 36.5 99.2 38.3 86.2 39.9 70.5 42.7 35.8 50.3 22.2 53.8 18.2 58.0 14.5 59.9 9.5 61.0 5.5 61.1 0.8 60.3 -5.8 57.9 -5.8 2.1 6.2 3.6 13.5 3.6 22.2 2.6 24.0 1.5 24.5 0.2 23.8 -0.5 21.8 -1.2 13.8 -2.3 7.8 -3.6 1.2 -3.2 -5.8 -2.1 -5.8 -5.8ZM259.8 51.5L273.2 51.5 293.2 53.7 297.2 53.2 301.8 51.5 301.8 87.5 292.5 85.4 281.5 84.3 263.2 84.3 253.5 85.1 245.5 86.6 242.6 88.2 241.9 89.2 241.7 90.5 242.4 94.5 243.2 96.0 246.2 98.1 253.5 100.3 264.5 101.9 271.8 102.1 279.2 101.9 289.8 100.4 296.5 98.6 301.8 96.3 301.8 103.8 -5.8 103.8 -5.8 82.7 -2.2 82.9 2.8 82.1 35.5 71.3 61.5 64.1 75.5 60.7 96.8 56.6 116.8 53.5 125.5 51.6 167.2 52.5 184.2 53.5 227.5 55.0 232.8 54.7 247.2 52.6 259.6 51.5ZM166.8 86.2L156.8 86.6 148.3 88.2 142.2 90.2 141.1 91.2 140.9 92.5 141.5 93.6 142.8 94.5 148.2 96.1 157.8 97.6 170.2 98.0 182.2 97.6 191.8 96.1 197.2 94.5 198.5 93.6 199.2 92.5 199.0 91.2 197.8 89.9 191.8 87.9 181.8 86.4 167.2 86.2Z" fill="#dbeaf3" fill-rule="evenodd"/>
<path d="M14.2 -5.8L301.8 -5.8 301.8 12.0 296.2 13.0 287.5 13.4 247.2 12.9 218.5 13.1 181.8 12.4 148.2 10.6 131.5 12.1 121.8 12.2 113.5 11.7 102.2 10.0 99.2 9.9 98.0 10.2 97.7 10.8 100.7 16.2 101.0 18.2 100.6 20.2 98.4 23.8 93.2 27.8 92.5 28.8 93.2 29.4 94.8 29.8 101.8 30.1 103.4 30.5 103.5 31.5 102.4 33.2 100.5 35.0 98.8 35.8 82.8 36.3 21.8 36.3 6.2 37.0 -5.8 36.4 -5.8 26.0 6.8 25.7 37.2 28.0 42.8 27.9 44.4 27.2 44.0 26.2 40.3 22.2 39.1 18.5 39.7 15.2 42.7 10.8 42.8 9.8 41.7 9.2 34.2 7.0 27.8 4.4 26.6 3.2 26.9 -0.2 25.8 -1.5 23.5 -2.4 15.5 -4.1 14.4 -4.8 13.8 -5.8ZM4.5 47.5L10.5 47.6 16.2 49.3 18.0 50.5 19.0 51.8 19.2 53.2 18.7 54.8 17.2 56.8 14.8 58.1 11.8 59.0 7.5 59.6 4.2 59.4 0.5 58.6 -5.8 55.5 -5.8 51.8 -1.5 49.0 4.3 47.5ZM257.8 53.2L271.5 53.0 280.8 53.7 295.8 55.7 301.8 57.1 301.8 76.9 291.5 79.7 281.2 81.3 266.2 82.0 259.2 81.9 250.5 81.3 245.5 80.7 237.8 79.1 228.5 76.0 223.4 72.8 220.7 69.5 220.2 66.5 221.2 63.5 223.8 60.8 228.2 58.3 237.2 55.8 247.2 54.1 257.7 53.2ZM154.2 54.5L164.8 54.2 171.2 54.7 177.5 55.6 183.8 57.6 189.8 60.7 193.1 63.8 194.3 65.8 195.0 68.2 194.9 70.2 194.3 72.2 192.4 75.2 189.5 77.6 182.5 81.0 176.8 82.6 166.2 83.8 153.2 83.7 146.2 86.7 139.8 88.3 132.2 89.3 113.5 90.8 70.5 98.3 47.5 100.1 40.5 100.0 23.2 97.7 20.5 96.5 19.1 94.5 19.0 92.8 19.8 91.3 21.5 90.2 24.2 89.4 38.5 87.2 99.2 75.1 126.6 68.2 128.8 67.0 132.5 62.0 137.2 59.0 140.8 57.3 144.5 56.1 148.8 55.1 154.1 54.5Z" fill="#f6f6f6" fill-rule="evenodd"/>
<path d="M21.5 -5.8L301.8 -5.8 301.8 9.8 296.2 10.8 285.8 11.5 196.5 10.7 148.5 9.0 131.2 10.6 121.8 10.7 113.2 10.1 96.5 7.8 94.2 8.5 93.7 9.2 93.7 10.2 97.9 15.2 98.7 17.2 98.6 19.2 97.8 21.0 96.6 22.5 92.3 25.5 84.2 29.1 81.8 29.6 55.2 28.6 52.2 27.9 46.8 25.1 43.5 22.6 41.8 20.2 41.3 18.2 41.6 16.2 42.8 14.1 46.5 10.5 46.8 9.5 46.4 8.5 44.5 7.5 35.5 5.2 30.2 3.0 29.1 2.2 28.7 -0.8 27.8 -2.2 26.2 -3.4 21.4 -5.8ZM6.2 49.5L10.7 49.8 14.8 51.1 16.8 52.6 17.1 53.5 16.9 54.5 15.8 55.8 13.8 56.9 10.8 57.7 7.2 58.1 4.2 57.8 0.5 57.0 -1.9 55.8 -3.2 54.6 -3.1 52.8 -1.2 51.2 1.7 50.2 5.9 49.5ZM257.8 54.5L271.5 54.3 281.2 55.0 294.2 57.1 301.8 59.2 301.8 74.8 292.8 77.4 284.2 79.0 271.8 80.1 258.2 80.0 246.5 78.8 235.4 76.2 227.2 72.9 224.2 70.6 222.7 68.5 222.5 66.2 223.7 63.8 226.2 61.9 230.2 59.7 238.5 57.2 247.5 55.5 257.6 54.5ZM155.2 56.2L160.8 55.9 168.7 56.2 176.2 57.2 182.5 59.1 187.8 61.8 191.0 64.5 192.8 67.8 192.9 69.5 192.5 71.2 190.5 74.2 188.0 76.2 181.8 79.1 176.2 80.8 165.5 82.1 152.5 81.8 147.2 84.6 141.5 86.2 131.8 87.5 113.8 89.0 70.2 96.5 51.5 98.2 44.8 98.4 24.8 95.9 22.5 95.1 21.5 93.8 22.2 92.5 24.8 91.5 36.2 89.7 48.5 86.7 100.2 76.7 120.2 71.9 129.8 68.8 134.3 63.2 140.8 59.4 147.5 57.3 155.1 56.2Z" fill="#f6e0d3" fill-rule="evenodd"/>
<path d="M85.8 -5.8L276.9 -5.8 280.0 -3.8 280.8 -2.2 280.2 -0.8 278.2 0.6 266.2 4.8 258.5 6.2 250.2 6.9 205.2 7.9 148.2 7.5 131.2 9.0 121.5 9.1 106.8 7.7 100.2 6.2 95.8 3.0 85.1 -1.5 84.2 -3.2 85.7 -5.8ZM264.2 55.8L273.2 55.9 286.6 57.5 293.8 59.2 301.8 62.5 301.8 71.5 293.8 74.8 286.5 76.6 272.8 78.2 263.5 78.2 255.2 77.5 247.5 76.3 242.8 75.1 239.2 73.7 235.5 71.7 233.6 70.2 232.5 68.5 232.4 66.2 233.5 64.0 236.2 61.9 240.5 59.8 248.5 57.5 256.5 56.4 263.9 55.8ZM157.5 57.8L164.5 57.8 170.8 58.4 177.5 59.8 181.5 61.1 185.9 63.5 188.5 65.7 189.7 68.2 189.4 70.8 188.3 72.5 186.4 74.2 183.0 76.2 179.8 77.5 171.5 79.5 163.5 80.3 156.8 80.1 145.5 78.7 138.5 76.0 135.1 72.8 134.0 70.2 134.2 67.5 135.5 65.2 137.8 63.2 141.5 61.2 145.5 59.8 152.5 58.3 157.3 57.8ZM128.2 70.8L129.8 70.7 131.1 71.2 134.2 74.3 139.5 78.5 145.5 81.3 145.9 81.8 145.8 82.5 143.9 83.5 139.5 84.4 132.0 85.5 114.5 87.0 68.6 94.8 51.5 96.5 46.2 96.6 41.3 95.5 39.8 94.5 38.9 93.2 38.9 92.2 39.6 91.2 43.7 89.5 101.5 78.3 118.2 74.3 128.0 70.8Z" fill="#eba587" fill-rule="evenodd"/>
<path d="M265.5 57.8L271.8 57.9 278.8 58.6 284.8 59.5 290.2 60.8 293.8 62.3 296.2 63.9 297.6 66.2 297.5 68.2 296.4 69.8 294.7 71.2 289.1 73.5 279.2 75.4 268.2 76.2 257.2 75.4 246.9 73.5 241.3 71.2 239.6 69.8 238.6 68.2 238.5 66.2 239.3 64.5 241.3 62.8 244.0 61.5 251.5 59.5 265.4 57.8ZM159.2 59.8L164.2 59.9 170.7 60.8 178.7 63.2 181.5 64.8 183.0 66.5 183.7 68.8 183.3 70.8 181.1 73.5 176.1 75.8 170.2 77.3 160.8 78.2 153.8 77.7 144.8 75.8 139.7 73.5 137.1 70.8 136.6 68.8 137.3 66.8 138.8 65.2 141.5 63.5 147.3 61.5 154.2 60.2 159.0 59.8ZM127.2 72.8L128.8 72.6 130.0 73.2 134.0 77.8 134.2 78.5 133.8 79.2 131.2 80.0 126.8 80.3 123.8 79.9 121.7 78.8 121.0 77.5 121.5 75.8 123.3 74.5 127.0 72.8Z" fill="#d0544d" fill-rule="evenodd"/>
<path d="M266.2 61.5L274.5 61.7 282.2 63.1 286.2 64.8 287.3 66.2 287.4 67.5 285.8 69.4 282.4 70.8 277.5 71.9 269.5 72.6 261.8 72.1 256.8 71.2 252.5 69.6 250.8 67.8 250.6 66.5 251.1 65.5 253.5 63.9 259.2 62.3 266.0 61.5ZM158.8 63.5L165.5 63.8 171.5 65.2 174.8 67.2 175.5 68.5 175.4 69.8 173.8 71.7 170.8 73.1 166.8 74.0 161.2 74.6 155.8 74.2 151.8 73.3 148.5 71.9 146.8 70.3 146.5 69.2 146.8 67.8 148.8 65.9 153.2 64.3 158.7 63.5Z" fill="#98182b" fill-rule="evenodd"/>
<path d="M2.6 3.6h1.2v1.2h-1.2zM6.9 3.6h1.2v1.2h-1.2zM11.2 3.6h1.2v1.2h-1.2zM15.5 3.6h1.2v1.2h-1.2zM19.8 3.6h1.2v1.2h-1.2zM24.1 3.6h1.2v1.2h-1.2zM28.4 3.6h1.2v1.2h-1.2zM213.3 3.6h1.2v1.2h-1.2zM217.6 3.6h1.2v1.2h-1.2zM221.9 3.6h1.2v1.2h-1.2zM226.2 3.6h1.2v1.2h-1.2zM230.5 3.6h1.2v1.2h-1.2zM234.8 3.6h1.2v1.2h-1.2zM239.1 3.6h1.2v1.2h-1.2zM243.4 3.6h1.2v1.2h-1.2zM247.7 3.6h1.2v1.2h-1.2zM252.0 3.6h1.2v1.2h-1.2zM256.3 3.6h1.2v1.2h-1.2zM260.6 3.6h1.2v1.2h-1.2zM264.9 3.6h1.2v1.2h-1.2zM269.2 3.6h1.2v1.2h-1.2zM273.5 3.6h1.2v1.2h-1.2zM277.8 3.6h1.2v1.2h-1.2zM282.1 3.6h1.2v1.2h-1.2zM286.4 3.6h1.2v1.2h-1.2zM290.7 3.6h1.2v1.2h-1.2zM295.0 3.6h1.2v1.2h-1.2zM2.6 7.9h1.2v1.2h-1.2zM6.9 7.9h1.2v1.2h-1.2zM11.2 7.9h1.2v1.2h-1.2zM15.5 7.9h1.2v1.2h-1.2zM19.8 7.9h1.2v1.2h-1.2zM24.1 7.9h1.2v1.2h-1.2zM28.4 7.9h1.2v1.2h-1.2zM213.3 7.9h1.2v1.2h-1.2zM217.6 7.9h1.2v1.2h-1.2zM221.9 7.9h1.2v1.2h-1.2zM226.2 7.9h1.2v1.2h-1.2zM230.5 7.9h1.2v1.2h-1.2zM234.8 7.9h1.2v1.2h-1.2zM239.1 7.9h1.2v1.2h-1.2zM243.4 7.9h1.2v1.2h-1.2zM247.7 7.9h1.2v1.2h-1.2zM252.0 7.9h1.2v1.2h-1.2zM256.3 7.9h1.2v1.2h-1.2zM260.6 7.9h1.2v1.2h-1.2zM264.9 7.9h1.2v1.2h-1.2zM269.2 7.9h1.2v1.2h-1.2zM273.5 7.9h1.2v1.2h-1.2zM277.8 7.9h1.2v1.2h-1.2zM282.1 7.9h1.2v1.2h-1.2zM286.4 7.9h1.2v1.2h-1.2zM290.7 7.9h1.2v1.2h-1.2zM295.0 7.9h1.2v1.2h-1.2zM45.6 12.2h1.2v1.2h-1.2zM49.9 12.2h1.2v1.2h-1.2zM54.2 12.2h1.2v1.2h-1.2zM58.5 12.2h1.2v1.2h-1.2zM62.8 12.2h1.2v1.2h-1.2zM67.1 12.2h1.2v1.2h-1.2zM71.4 12.2h1.2v1.2h-1.2zM75.7 12.2h1.2v1.2h-1.2zM80.0 12.2h1.2v1.2h-1.2zM84.3 12.2h1.2v1.2h-1.2zM88.6 12.2h1.2v1.2h-1.2zM92.9 12.2h1.2v1.2h-1.2zM97.2 12.2h1.2v1.2h-1.2zM101.5 12.2h1.2v1.2h-1.2zM105.8 12.2h1.2v1.2h-1.2zM148.8 12.2h1.2v1.2h-1.2zM153.1 12.2h1.2v1.2h-1.2zM157.4 12.2h1.2v1.2h-1.2zM161.7 12.2h1.2v1.2h-1.2zM166.0 12.2h1.2v1.2h-1.2zM170.3 12.2h1.2v1.2h-1.2zM174.6 12.2h1.2v1.2h-1.2zM178.9 12.2h1.2v1.2h-1.2zM183.2 12.2h1.2v1.2h-1.2zM187.5 12.2h1.2v1.2h-1.2zM191.8 12.2h1.2v1.2h-1.2zM196.1 12.2h1.2v1.2h-1.2zM200.4 12.2h1.2v1.2h-1.2zM204.7 12.2h1.2v1.2h-1.2zM209.0 12.2h1.2v1.2h-1.2zM213.3 12.2h1.2v1.2h-1.2zM217.6 12.2h1.2v1.2h-1.2zM221.9 12.2h1.2v1.2h-1.2zM226.2 12.2h1.2v1.2h-1.2zM230.5 12.2h1.2v1.2h-1.2zM234.8 12.2h1.2v1.2h-1.2zM239.1 12.2h1.2v1.2h-1.2zM243.4 12.2h1.2v1.2h-1.2zM247.7 12.2h1.2v1.2h-1.2zM252.0 12.2h1.2v1.2h-1.2zM256.3 12.2h1.2v1.2h-1.2zM260.6 12.2h1.2v1.2h-1.2zM264.9 12.2h1.2v1.2h-1.2zM269.2 12.2h1.2v1.2h-1.2zM273.5 12.2h1.2v1.2h-1.2zM277.8 12.2h1.2v1.2h-1.2zM282.1 12.2h1.2v1.2h-1.2zM286.4 12.2h1.2v1.2h-1.2zM290.7 12.2h1.2v1.2h-1.2zM295.0 12.2h1.2v1.2h-1.2zM84.3 16.5h1.2v1.2h-1.2zM88.6 16.5h1.2v1.2h-1.2zM92.9 16.5h1.2v1.2h-1.2zM97.2 16.5h1.2v1.2h-1.2zM101.5 16.5h1.2v1.2h-1.2zM105.8 16.5h1.2v1.2h-1.2zM110.1 16.5h1.2v1.2h-1.2zM114.4 16.5h1.2v1.2h-1.2zM118.7 16.5h1.2v1.2h-1.2zM123.0 16.5h1.2v1.2h-1.2zM127.3 16.5h1.2v1.2h-1.2zM131.6 16.5h1.2v1.2h-1.2zM135.9 16.5h1.2v1.2h-1.2zM140.2 16.5h1.2v1.2h-1.2zM144.5 16.5h1.2v1.2h-1.2zM148.8 16.5h1.2v1.2h-1.2zM153.1 16.5h1.2v1.2h-1.2zM157.4 16.5h1.2v1.2h-1.2zM161.7 16.5h1.2v1.2h-1.2zM166.0 16.5h1.2v1.2h-1.2zM170.3 16.5h1.2v1.2h-1.2zM174.6 16.5h1.2v1.2h-1.2zM178.9 16.5h1.2v1.2h-1.2zM183.2 16.5h1.2v1.2h-1.2zM187.5 16.5h1.2v1.2h-1.2zM191.8 16.5h1.2v1.2h-1.2zM196.1 16.5h1.2v1.2h-1.2zM200.4 16.5h1.2v1.2h-1.2zM204.7 16.5h1.2v1.2h-1.2zM209.0 16.5h1.2v1.2h-1.2zM213.3 16.5h1.2v1.2h-1.2zM217.6 16.5h1.2v1.2h-1.2zM221.9 16.5h1.2v1.2h-1.2zM226.2 16.5h1.2v1.2h-1.2zM230.5 16.5h1.2v1.2h-1.2zM234.8 16.5h1.2v1.2h-1.2zM239.1 16.5h1.2v1.2h-1.2zM243.4 16.5h1.2v1.2h-1.2zM247.7 16.5h1.2v1.2h-1.2zM252.0 16.5h1.2v1.2h-1.2zM256.3 16.5h1.2v1.2h-1.2zM260.6 16.5h1.2v1.2h-1.2zM264.9 16.5h1.2v1.2h-1.2zM269.2 16.5h1.2v1.2h-1.2zM273.5 16.5h1.2v1.2h-1.2zM277.8 16.5h1.2v1.2h-1.2zM282.1 16.5h1.2v1.2h-1.2zM286.4 16.5h1.2v1.2h-1.2zM290.7 16.5h1.2v1.2h-1.2zM295.0 16.5h1.2v1.2h-1.2zM84.3 20.8h1.2v1.2h-1.2zM88.6 20.8h1.2v1.2h-1.2zM92.9 20.8h1.2v1.2h-1.2zM97.2 20.8h1.2v1.2h-1.2zM101.5 20.8h1.2v1.2h-1.2zM105.8 20.8h1.2v1.2h-1.2zM110.1 20.8h1.2v1.2h-1.2zM114.4 20.8h1.2v1.2h-1.2zM118.7 20.8h1.2v1.2h-1.2zM123.0 20.8h1.2v1.2h-1.2zM127.3 20.8h1.2v1.2h-1.2zM131.6 20.8h1.2v1.2h-1.2zM135.9 20.8h1.2v1.2h-1.2zM140.2 20.8h1.2v1.2h-1.2zM144.5 20.8h1.2v1.2h-1.2zM148.8 20.8h1.2v1.2h-1.2zM153.1 20.8h1.2v1.2h-1.2zM157.4 20.8h1.2v1.2h-1.2zM161.7 20.8h1.2v1.2h-1.2zM166.0 20.8h1.2v1.2h-1.2zM170.3 20.8h1.2v1.2h-1.2zM174.6 20.8h1.2v1.2h-1.2zM178.9 20.8h1.2v1.2h-1.2zM183.2 20.8h1.2v1.2h-1.2zM187.5 20.8h1.2v1.2h-1.2zM191.8 20.8h1.2v1.2h-1.2zM196.1 20.8h1.2v1.2h-1.2zM200.4 20.8h1.2v1.2h-1.2zM204.7 20.8h1.2v1.2h-1.2zM209.0 20.8h1.2v1.2h-1.2zM213.3 20.8h1.2v1.2h-1.2zM217.6 20.8h1.2v1.2h-1.2zM221.9 20.8h1.2v1.2h-1.2zM226.2 20.8h1.2v1.2h-1.2zM230.5 20.8h1.2v1.2h-1.2zM234.8 20.8h1.2v1.2h-1.2zM239.1 20.8h1.2v1.2h-1.2zM243.4 20.8h1.2v1.2h-1.2zM247.7 20.8h1.2v1.2h-1.2zM252.0 20.8h1.2v1.2h-1.2zM256.3 20.8h1.2v1.2h-1.2zM260.6 20.8h1.2v1.2h-1.2zM264.9 20.8h1.2v1.2h-1.2zM269.2 20.8h1.2v1.2h-1.2zM273.5 20.8h1.2v1.2h-1.2zM277.8 20.8h1.2v1.2h-1.2zM282.1 20.8h1.2v1.2h-1.2zM286.4 20.8h1.2v1.2h-1.2zM290.7 20.8h1.2v1.2h-1.2zM295.0 20.8h1.2v1.2h-1.2zM84.3 25.1h1.2v1.2h-1.2zM88.6 25.1h1.2v1.2h-1.2zM92.9 25.1h1.2v1.2h-1.2zM97.2 25.1h1.2v1.2h-1.2zM101.5 25.1h1.2v1.2h-1.2zM105.8 25.1h1.2v1.2h-1.2zM110.1 25.1h1.2v1.2h-1.2zM114.4 25.1h1.2v1.2h-1.2zM118.7 25.1h1.2v1.2h-1.2zM123.0 25.1h1.2v1.2h-1.2zM127.3 25.1h1.2v1.2h-1.2zM131.6 25.1h1.2v1.2h-1.2zM135.9 25.1h1.2v1.2h-1.2zM140.2 25.1h1.2v1.2h-1.2zM144.5 25.1h1.2v1.2h-1.2zM148.8 25.1h1.2v1.2h-1.2zM153.1 25.1h1.2v1.2h-1.2zM157.4 25.1h1.2v1.2h-1.2zM161.7 25.1h1.2v1.2h-1.2zM166.0 25.1h1.2v1.2h-1.2zM170.3 25.1h1.2v1.2h-1.2zM174.6 25.1h1.2v1.2h-1.2zM178.9 25.1h1.2v1.2h-1.2zM183.2 25.1h1.2v1.2h-1.2zM187.5 25.1h1.2v1.2h-1.2zM191.8 25.1h1.2v1.2h-1.2zM196.1 25.1h1.2v1.2h-1.2zM200.4 25.1h1.2v1.2h-1.2zM204.7 25.1h1.2v1.2h-1.2zM209.0 25.1h1.2v1.2h-1.2zM213.3 25.1h1.2v1.2h-1.2zM217.6 25.1h1.2v1.2h-1.2zM221.9 25.1h1.2v1.2h-1.2zM226.2 25.1h1.2v1.2h-1.2zM230.5 25.1h1.2v1.2h-1.2zM234.8 25.1h1.2v1.2h-1.2zM239.1 25.1h1.2v1.2h-1.2zM243.4 25.1h1.2v1.2h-1.2zM247.7 25.1h1.2v1.2h-1.2zM252.0 25.1h1.2v1.2h-1.2zM256.3 25.1h1.2v1.2h-1.2zM260.6 25.1h1.2v1.2h-1.2zM264.9 25.1h1.2v1.2h-1.2zM269.2 25.1h1.2v1.2h-1.2zM273.5 25.1h1.2v1.2h-1.2zM277.8 25.1h1.2v1.2h-1.2zM282.1 25.1h1.2v1.2h-1.2zM286.4 25.1h1.2v1.2h-1.2zM290.7 25.1h1.2v1.2h-1.2zM295.0 25.1h1.2v1.2h-1.2zM84.3 29.4h1.2v1.2h-1.2zM88.6 29.4h1.2v1.2h-1.2zM92.9 29.4h1.2v1.2h-1.2zM97.2 29.4h1.2v1.2h-1.2zM101.5 29.4h1.2v1.2h-1.2zM105.8 29.4h1.2v1.2h-1.2zM110.1 29.4h1.2v1.2h-1.2zM114.4 29.4h1.2v1.2h-1.2zM118.7 29.4h1.2v1.2h-1.2zM123.0 29.4h1.2v1.2h-1.2zM127.3 29.4h1.2v1.2h-1.2zM131.6 29.4h1.2v1.2h-1.2zM135.9 29.4h1.2v1.2h-1.2zM140.2 29.4h1.2v1.2h-1.2zM144.5 29.4h1.2v1.2h-1.2zM148.8 29.4h1.2v1.2h-1.2zM153.1 29.4h1.2v1.2h-1.2zM157.4 29.4h1.2v1.2h-1.2zM161.7 29.4h1.2v1.2h-1.2zM166.0 29.4h1.2v1.2h-1.2zM170.3 29.4h1.2v1.2h-1.2zM174.6 29.4h1.2v1.2h-1.2zM178.9 29.4h1.2v1.2h-1.2zM183.2 29.4h1.2v1.2h-1.2zM187.5 29.4h1.2v1.2h-1.2zM191.8 29.4h1.2v1.2h-1.2zM196.1 29.4h1.2v1.2h-1.2zM200.4 29.4h1.2v1.2h-1.2zM204.7 29.4h1.2v1.2h-1.2zM209.0 29.4h1.2v1.2h-1.2zM213.3 29.4h1.2v1.2h-1.2zM217.6 29.4h1.2v1.2h-1.2zM221.9 29.4h1.2v1.2h-1.2zM226.2 29.4h1.2v1.2h-1.2zM230.5 29.4h1.2v1.2h-1.2zM234.8 29.4h1.2v1.2h-1.2zM239.1 29.4h1.2v1.2h-1.2zM243.4 29.4h1.2v1.2h-1.2zM247.7 29.4h1.2v1.2h-1.2zM252.0 29.4h1.2v1.2h-1.2zM256.3 29.4h1.2v1.2h-1.2zM260.6 29.4h1.2v1.2h-1.2zM264.9 29.4h1.2v1.2h-1.2zM269.2 29.4h1.2v1.2h-1.2zM273.5 29.4h1.2v1.2h-1.2zM277.8 29.4h1.2v1.2h-1.2zM282.1 29.4h1.2v1.2h-1.2zM286.4 29.4h1.2v1.2h-1.2zM290.7 29.4h1.2v1.2h-1.2zM295.0 29.4h1.2v1.2h-1.2zM84.3 33.7h1.2v1.2h-1.2zM88.6 33.7h1.2v1.2h-1.2zM92.9 33.7h1.2v1.2h-1.2zM97.2 33.7h1.2v1.2h-1.2zM101.5 33.7h1.2v1.2h-1.2zM105.8 33.7h1.2v1.2h-1.2zM110.1 33.7h1.2v1.2h-1.2zM114.4 33.7h1.2v1.2h-1.2zM118.7 33.7h1.2v1.2h-1.2zM123.0 33.7h1.2v1.2h-1.2zM127.3 33.7h1.2v1.2h-1.2zM131.6 33.7h1.2v1.2h-1.2zM135.9 33.7h1.2v1.2h-1.2zM140.2 33.7h1.2v1.2h-1.2zM144.5 33.7h1.2v1.2h-1.2zM148.8 33.7h1.2v1.2h-1.2zM153.1 33.7h1.2v1.2h-1.2zM157.4 33.7h1.2v1.2h-1.2zM161.7 33.7h1.2v1.2h-1.2zM166.0 33.7h1.2v1.2h-1.2zM170.3 33.7h1.2v1.2h-1.2zM174.6 33.7h1.2v1.2h-1.2zM178.9 33.7h1.2v1.2h-1.2zM183.2 33.7h1.2v1.2h-1.2zM187.5 33.7h1.2v1.2h-1.2zM191.8 33.7h1.2v1.2h-1.2zM196.1 33.7h1.2v1.2h-1.2zM200.4 33.7h1.2v1.2h-1.2zM204.7 33.7h1.2v1.2h-1.2zM209.0 33.7h1.2v1.2h-1.2zM213.3 33.7h1.2v1.2h-1.2zM217.6 33.7h1.2v1.2h-1.2zM221.9 33.7h1.2v1.2h-1.2zM226.2 33.7h1.2v1.2h-1.2zM230.5 33.7h1.2v1.2h-1.2zM234.8 33.7h1.2v1.2h-1.2zM239.1 33.7h1.2v1.2h-1.2zM243.4 33.7h1.2v1.2h-1.2zM247.7 33.7h1.2v1.2h-1.2zM252.0 33.7h1.2v1.2h-1.2zM256.3 33.7h1.2v1.2h-1.2zM260.6 33.7h1.2v1.2h-1.2zM264.9 33.7h1.2v1.2h-1.2zM269.2 33.7h1.2v1.2h-1.2zM273.5 33.7h1.2v1.2h-1.2zM277.8 33.7h1.2v1.2h-1.2zM282.1 33.7h1.2v1.2h-1.2zM286.4 33.7h1.2v1.2h-1.2zM290.7 33.7h1.2v1.2h-1.2zM295.0 33.7h1.2v1.2h-1.2zM6.9 38.0h1.2v1.2h-1.2zM11.2 38.0h1.2v1.2h-1.2zM15.5 38.0h1.2v1.2h-1.2zM19.8 38.0h1.2v1.2h-1.2zM24.1 38.0h1.2v1.2h-1.2zM28.4 38.0h1.2v1.2h-1.2zM32.7 38.0h1.2v1.2h-1.2zM37.0 38.0h1.2v1.2h-1.2zM41.3 38.0h1.2v1.2h-1.2zM45.6 38.0h1.2v1.2h-1.2zM49.9 38.0h1.2v1.2h-1.2zM54.2 38.0h1.2v1.2h-1.2zM58.5 38.0h1.2v1.2h-1.2zM62.8 38.0h1.2v1.2h-1.2zM67.1 38.0h1.2v1.2h-1.2zM71.4 38.0h1.2v1.2h-1.2zM75.7 38.0h1.2v1.2h-1.2zM80.0 38.0h1.2v1.2h-1.2zM84.3 38.0h1.2v1.2h-1.2zM88.6 38.0h1.2v1.2h-1.2zM92.9 38.0h1.2v1.2h-1.2zM97.2 38.0h1.2v1.2h-1.2zM101.5 38.0h1.2v1.2h-1.2zM105.8 38.0h1.2v1.2h-1.2zM110.1 38.0h1.2v1.2h-1.2zM114.4 38.0h1.2v1.2h-1.2zM118.7 38.0h1.2v1.2h-1.2zM123.0 38.0h1.2v1.2h-1.2zM127.3 38.0h1.2v1.2h-1.2zM131.6 38.0h1.2v1.2h-1.2zM135.9 38.0h1.2v1.2h-1.2zM140.2 38.0h1.2v1.2h-1.2zM144.5 38.0h1.2v1.2h-1.2zM148.8 38.0h1.2v1.2h-1.2zM153.1 38.0h1.2v1.2h-1.2zM157.4 38.0h1.2v1.2h-1.2zM161.7 38.0h1.2v1.2h-1.2zM166.0 38.0h1.2v1.2h-1.2zM170.3 38.0h1.2v1.2h-1.2zM174.6 38.0h1.2v1.2h-1.2zM178.9 38.0h1.2v1.2h-1.2zM183.2 38.0h1.2v1.2h-1.2zM187.5 38.0h1.2v1.2h-1.2zM191.8 38.0h1.2v1.2h-1.2zM196.1 38.0h1.2v1.2h-1.2zM200.4 38.0h1.2v1.2h-1.2zM204.7 38.0h1.2v1.2h-1.2zM209.0 38.0h1.2v1.2h-1.2zM213.3 38.0h1.2v1.2h-1.2zM217.6 38.0h1.2v1.2h-1.2zM221.9 38.0h1.2v1.2h-1.2zM226.2 38.0h1.2v1.2h-1.2zM230.5 38.0h1.2v1.2h-1.2zM234.8 38.0h1.2v1.2h-1.2zM239.1 38.0h1.2v1.2h-1.2zM243.4 38.0h1.2v1.2h-1.2zM247.7 38.0h1.2v1.2h-1.2zM252.0 38.0h1.2v1.2h-1.2zM256.3 38.0h1.2v1.2h-1.2zM260.6 38.0h1.2v1.2h-1.2zM264.9 38.0h1.2v1.2h-1.2zM269.2 38.0h1.2v1.2h-1.2zM273.5 38.0h1.2v1.2h-1.2zM277.8 38.0h1.2v1.2h-1.2zM282.1 38.0h1.2v1.2h-1.2zM286.4 38.0h1.2v1.2h-1.2zM290.7 38.0h1.2v1.2h-1.2zM295.0 38.0h1.2v1.2h-1.2zM6.9 42.3h1.2v1.2h-1.2zM11.2 42.3h1.2v1.2h-1.2zM15.5 42.3h1.2v1.2h-1.2zM19.8 42.3h1.2v1.2h-1.2zM24.1 42.3h1.2v1.2h-1.2zM28.4 42.3h1.2v1.2h-1.2zM32.7 42.3h1.2v1.2h-1.2zM37.0 42.3h1.2v1.2h-1.2zM41.3 42.3h1.2v1.2h-1.2zM45.6 42.3h1.2v1.2h-1.2zM49.9 42.3h1.2v1.2h-1.2zM54.2 42.3h1.2v1.2h-1.2zM58.5 42.3h1.2v1.2h-1.2zM62.8 42.3h1.2v1.2h-1.2zM67.1 42.3h1.2v1.2h-1.2zM71.4 42.3h1.2v1.2h-1.2zM75.7 42.3h1.2v1.2h-1.2zM80.0 42.3h1.2v1.2h-1.2zM84.3 42.3h1.2v1.2h-1.2zM88.6 42.3h1.2v1.2h-1.2zM92.9 42.3h1.2v1.2h-1.2zM97.2 42.3h1.2v1.2h-1.2zM101.5 42.3h1.2v1.2h-1.2zM105.8 42.3h1.2v1.2h-1.2zM110.1 42.3h1.2v1.2h-1.2zM114.4 42.3h1.2v1.2h-1.2zM118.7 42.3h1.2v1.2h-1.2zM123.0 42.3h1.2v1.2h-1.2zM127.3 42.3h1.2v1.2h-1.2zM131.6 42.3h1.2v1.2h-1.2zM135.9 42.3h1.2v1.2h-1.2zM140.2 42.3h1.2v1.2h-1.2zM144.5 42.3h1.2v1.2h-1.2zM148.8 42.3h1.2v1.2h-1.2zM209.0 42.3h1.2v1.2h-1.2zM213.3 42.3h1.2v1.2h-1.2zM217.6 42.3h1.2v1.2h-1.2zM221.9 42.3h1.2v1.2h-1.2zM226.2 42.3h1.2v1.2h-1.2zM230.5 42.3h1.2v1.2h-1.2zM234.8 42.3h1.2v1.2h-1.2zM239.1 42.3h1.2v1.2h-1.2zM243.4 42.3h1.2v1.2h-1.2zM247.7 42.3h1.2v1.2h-1.2zM252.0 42.3h1.2v1.2h-1.2zM256.3 42.3h1.2v1.2h-1.2zM260.6 42.3h1.2v1.2h-1.2zM264.9 42.3h1.2v1.2h-1.2zM269.2 42.3h1.2v1.2h-1.2zM273.5 42.3h1.2v1.2h-1.2zM277.8 42.3h1.2v1.2h-1.2zM282.1 42.3h1.2v1.2h-1.2zM286.4 42.3h1.2v1.2h-1.2zM290.7 42.3h1.2v1.2h-1.2zM295.0 42.3h1.2v1.2h-1.2zM6.9 46.6h1.2v1.2h-1.2zM11.2 46.6h1.2v1.2h-1.2zM15.5 46.6h1.2v1.2h-1.2zM19.8 46.6h1.2v1.2h-1.2zM24.1 46.6h1.2v1.2h-1.2zM28.4 46.6h1.2v1.2h-1.2zM32.7 46.6h1.2v1.2h-1.2zM37.0 46.6h1.2v1.2h-1.2zM41.3 46.6h1.2v1.2h-1.2zM45.6 46.6h1.2v1.2h-1.2zM49.9 46.6h1.2v1.2h-1.2zM54.2 46.6h1.2v1.2h-1.2zM58.5 46.6h1.2v1.2h-1.2zM62.8 46.6h1.2v1.2h-1.2zM67.1 46.6h1.2v1.2h-1.2zM71.4 46.6h1.2v1.2h-1.2zM75.7 46.6h1.2v1.2h-1.2zM80.0 46.6h1.2v1.2h-1.2zM84.3 46.6h1.2v1.2h-1.2zM88.6 46.6h1.2v1.2h-1.2zM92.9 46.6h1.2v1.2h-1.2zM97.2 46.6h1.2v1.2h-1.2zM101.5 46.6h1.2v1.2h-1.2zM105.8 46.6h1.2v1.2h-1.2zM110.1 46.6h1.2v1.2h-1.2zM114.4 46.6h1.2v1.2h-1.2zM118.7 46.6h1.2v1.2h-1.2zM123.0 46.6h1.2v1.2h-1.2zM127.3 46.6h1.2v1.2h-1.2zM131.6 46.6h1.2v1.2h-1.2zM135.9 46.6h1.2v1.2h-1.2zM140.2 46.6h1.2v1.2h-1.2zM144.5 46.6h1.2v1.2h-1.2zM148.8 46.6h1.2v1.2h-1.2zM209.0 46.6h1.2v1.2h-1.2zM213.3 46.6h1.2v1.2h-1.2zM217.6 46.6h1.2v1.2h-1.2zM221.9 46.6h1.2v1.2h-1.2zM226.2 46.6h1.2v1.2h-1.2zM230.5 46.6h1.2v1.2h-1.2zM234.8 46.6h1.2v1.2h-1.2zM239.1 46.6h1.2v1.2h-1.2zM243.4 46.6h1.2v1.2h-1.2zM247.7 46.6h1.2v1.2h-1.2zM252.0 46.6h1.2v1.2h-1.2zM256.3 46.6h1.2v1.2h-1.2zM260.6 46.6h1.2v1.2h-1.2zM264.9 46.6h1.2v1.2h-1.2zM269.2 46.6h1.2v1.2h-1.2zM273.5 46.6h1.2v1.2h-1.2zM277.8 46.6h1.2v1.2h-1.2zM282.1 46.6h1.2v1.2h-1.2zM286.4 46.6h1.2v1.2h-1.2zM290.7 46.6h1.2v1.2h-1.2zM295.0 46.6h1.2v1.2h-1.2zM6.9 50.9h1.2v1.2h-1.2zM11.2 50.9h1.2v1.2h-1.2zM15.5 50.9h1.2v1.2h-1.2zM19.8 50.9h1.2v1.2h-1.2zM24.1 50.9h1.2v1.2h-1.2zM28.4 50.9h1.2v1.2h-1.2zM32.7 50.9h1.2v1.2h-1.2zM37.0 50.9h1.2v1.2h-1.2zM41.3 50.9h1.2v1.2h-1.2zM45.6 50.9h1.2v1.2h-1.2zM49.9 50.9h1.2v1.2h-1.2zM54.2 50.9h1.2v1.2h-1.2zM58.5 50.9h1.2v1.2h-1.2zM62.8 50.9h1.2v1.2h-1.2zM67.1 50.9h1.2v1.2h-1.2zM71.4 50.9h1.2v1.2h-1.2zM75.7 50.9h1.2v1.2h-1.2zM80.0 50.9h1.2v1.2h-1.2zM84.3 50.9h1.2v1.2h-1.2zM88.6 50.9h1.2v1.2h-1.2zM92.9 50.9h1.2v1.2h-1.2zM97.2 50.9h1.2v1.2h-1.2zM101.5 50.9h1.2v1.2h-1.2zM105.8 50.9h1.2v1.2h-1.2zM110.1 50.9h1.2v1.2h-1.2zM114.4 50.9h1.2v1.2h-1.2zM118.7 50.9h1.2v1.2h-1.2zM123.0 50.9h1.2v1.2h-1.2zM127.3 50.9h1.2v1.2h-1.2zM131.6 50.9h1.2v1.2h-1.2zM135.9 50.9h1.2v1.2h-1.2zM140.2 50.9h1.2v1.2h-1.2zM144.5 50.9h1.2v1.2h-1.2zM148.8 50.9h1.2v1.2h-1.2zM209.0 50.9h1.2v1.2h-1.2zM213.3 50.9h1.2v1.2h-1.2zM217.6 50.9h1.2v1.2h-1.2zM221.9 50.9h1.2v1.2h-1.2zM226.2 50.9h1.2v1.2h-1.2zM230.5 50.9h1.2v1.2h-1.2zM234.8 50.9h1.2v1.2h-1.2zM239.1 50.9h1.2v1.2h-1.2zM243.4 50.9h1.2v1.2h-1.2zM247.7 50.9h1.2v1.2h-1.2zM252.0 50.9h1.2v1.2h-1.2zM256.3 50.9h1.2v1.2h-1.2zM260.6 50.9h1.2v1.2h-1.2zM264.9 50.9h1.2v1.2h-1.2zM269.2 50.9h1.2v1.2h-1.2zM273.5 50.9h1.2v1.2h-1.2zM277.8 50.9h1.2v1.2h-1.2zM282.1 50.9h1.2v1.2h-1.2zM286.4 50.9h1.2v1.2h-1.2zM290.7 50.9h1.2v1.2h-1.2zM295.0 50.9h1.2v1.2h-1.2zM6.9 55.2h1.2v1.2h-1.2zM11.2 55.2h1.2v1.2h-1.2zM15.5 55.2h1.2v1.2h-1.2zM19.8 55.2h1.2v1.2h-1.2zM24.1 55.2h1.2v1.2h-1.2zM28.4 55.2h1.2v1.2h-1.2zM32.7 55.2h1.2v1.2h-1.2zM37.0 55.2h1.2v1.2h-1.2zM41.3 55.2h1.2v1.2h-1.2zM45.6 55.2h1.2v1.2h-1.2zM49.9 55.2h1.2v1.2h-1.2zM54.2 55.2h1.2v1.2h-1.2zM58.5 55.2h1.2v1.2h-1.2zM62.8 55.2h1.2v1.2h-1.2zM67.1 55.2h1.2v1.2h-1.2zM71.4 55.2h1.2v1.2h-1.2zM75.7 55.2h1.2v1.2h-1.2zM80.0 55.2h1.2v1.2h-1.2zM84.3 55.2h1.2v1.2h-1.2zM88.6 55.2h1.2v1.2h-1.2zM92.9 55.2h1.2v1.2h-1.2zM97.2 55.2h1.2v1.2h-1.2zM101.5 55.2h1.2v1.2h-1.2zM105.8 55.2h1.2v1.2h-1.2zM110.1 55.2h1.2v1.2h-1.2zM114.4 55.2h1.2v1.2h-1.2zM118.7 55.2h1.2v1.2h-1.2zM123.0 55.2h1.2v1.2h-1.2zM127.3 55.2h1.2v1.2h-1.2zM131.6 55.2h1.2v1.2h-1.2zM135.9 55.2h1.2v1.2h-1.2zM140.2 55.2h1.2v1.2h-1.2zM144.5 55.2h1.2v1.2h-1.2zM234.8 55.2h1.2v1.2h-1.2zM239.1 55.2h1.2v1.2h-1.2zM243.4 55.2h1.2v1.2h-1.2zM247.7 55.2h1.2v1.2h-1.2zM252.0 55.2h1.2v1.2h-1.2zM256.3 55.2h1.2v1.2h-1.2zM260.6 55.2h1.2v1.2h-1.2zM264.9 55.2h1.2v1.2h-1.2zM269.2 55.2h1.2v1.2h-1.2zM273.5 55.2h1.2v1.2h-1.2zM277.8 55.2h1.2v1.2h-1.2zM282.1 55.2h1.2v1.2h-1.2zM286.4 55.2h1.2v1.2h-1.2zM290.7 55.2h1.2v1.2h-1.2zM295.0 55.2h1.2v1.2h-1.2zM6.9 59.5h1.2v1.2h-1.2zM11.2 59.5h1.2v1.2h-1.2zM15.5 59.5h1.2v1.2h-1.2zM19.8 59.5h1.2v1.2h-1.2zM24.1 59.5h1.2v1.2h-1.2zM28.4 59.5h1.2v1.2h-1.2zM32.7 59.5h1.2v1.2h-1.2zM37.0 59.5h1.2v1.2h-1.2zM41.3 59.5h1.2v1.2h-1.2zM45.6 59.5h1.2v1.2h-1.2zM49.9 59.5h1.2v1.2h-1.2zM54.2 59.5h1.2v1.2h-1.2zM58.5 59.5h1.2v1.2h-1.2zM62.8 59.5h1.2v1.2h-1.2zM67.1 59.5h1.2v1.2h-1.2zM71.4 59.5h1.2v1.2h-1.2zM75.7 59.5h1.2v1.2h-1.2zM80.0 59.5h1.2v1.2h-1.2zM84.3 59.5h1.2v1.2h-1.2zM88.6 59.5h1.2v1.2h-1.2zM92.9 59.5h1.2v1.2h-1.2zM97.2 59.5h1.2v1.2h-1.2zM101.5 59.5h1.2v1.2h-1.2zM105.8 59.5h1.2v1.2h-1.2zM110.1 59.5h1.2v1.2h-1.2zM114.4 59.5h1.2v1.2h-1.2zM118.7 59.5h1.2v1.2h-1.2zM123.0 59.5h1.2v1.2h-1.2zM127.3 59.5h1.2v1.2h-1.2zM131.6 59.5h1.2v1.2h-1.2zM135.9 59.5h1.2v1.2h-1.2zM140.2 59.5h1.2v1.2h-1.2zM144.5 59.5h1.2v1.2h-1.2zM148.8 59.5h1.2v1.2h-1.2zM234.8 59.5h1.2v1.2h-1.2zM239.1 59.5h1.2v1.2h-1.2zM243.4 59.5h1.2v1.2h-1.2zM247.7 59.5h1.2v1.2h-1.2zM252.0 59.5h1.2v1.2h-1.2zM256.3 59.5h1.2v1.2h-1.2zM260.6 59.5h1.2v1.2h-1.2zM264.9 59.5h1.2v1.2h-1.2zM269.2 59.5h1.2v1.2h-1.2zM273.5 59.5h1.2v1.2h-1.2zM277.8 59.5h1.2v1.2h-1.2zM282.1 59.5h1.2v1.2h-1.2zM286.4 59.5h1.2v1.2h-1.2zM290.7 59.5h1.2v1.2h-1.2zM295.0 59.5h1.2v1.2h-1.2zM6.9 63.8h1.2v1.2h-1.2zM11.2 63.8h1.2v1.2h-1.2zM15.5 63.8h1.2v1.2h-1.2zM19.8 63.8h1.2v1.2h-1.2zM24.1 63.8h1.2v1.2h-1.2zM28.4 63.8h1.2v1.2h-1.2zM32.7 63.8h1.2v1.2h-1.2zM37.0 63.8h1.2v1.2h-1.2zM41.3 63.8h1.2v1.2h-1.2zM45.6 63.8h1.2v1.2h-1.2zM49.9 63.8h1.2v1.2h-1.2zM54.2 63.8h1.2v1.2h-1.2zM58.5 63.8h1.2v1.2h-1.2zM62.8 63.8h1.2v1.2h-1.2zM67.1 63.8h1.2v1.2h-1.2zM71.4 63.8h1.2v1.2h-1.2zM75.7 63.8h1.2v1.2h-1.2zM80.0 63.8h1.2v1.2h-1.2zM84.3 63.8h1.2v1.2h-1.2zM88.6 63.8h1.2v1.2h-1.2zM92.9 63.8h1.2v1.2h-1.2zM97.2 63.8h1.2v1.2h-1.2zM101.5 63.8h1.2v1.2h-1.2zM105.8 63.8h1.2v1.2h-1.2zM110.1 63.8h1.2v1.2h-1.2zM114.4 63.8h1.2v1.2h-1.2zM118.7 63.8h1.2v1.2h-1.2zM123.0 63.8h1.2v1.2h-1.2zM127.3 63.8h1.2v1.2h-1.2zM131.6 63.8h1.2v1.2h-1.2zM135.9 63.8h1.2v1.2h-1.2zM140.2 63.8h1.2v1.2h-1.2zM144.5 63.8h1.2v1.2h-1.2zM148.8 63.8h1.2v1.2h-1.2zM234.8 63.8h1.2v1.2h-1.2zM239.1 63.8h1.2v1.2h-1.2zM243.4 63.8h1.2v1.2h-1.2zM247.7 63.8h1.2v1.2h-1.2zM252.0 63.8h1.2v1.2h-1.2zM256.3 63.8h1.2v1.2h-1.2zM260.6 63.8h1.2v1.2h-1.2zM264.9 63.8h1.2v1.2h-1.2zM269.2 63.8h1.2v1.2h-1.2zM273.5 63.8h1.2v1.2h-1.2zM277.8 63.8h1.2v1.2h-1.2zM282.1 63.8h1.2v1.2h-1.2zM286.4 63.8h1.2v1.2h-1.2zM290.7 63.8h1.2v1.2h-1.2zM295.0 63.8h1.2v1.2h-1.2zM6.9 68.1h1.2v1.2h-1.2zM11.2 68.1h1.2v1.2h-1.2zM15.5 68.1h1.2v1.2h-1.2zM19.8 68.1h1.2v1.2h-1.2zM24.1 68.1h1.2v1.2h-1.2zM28.4 68.1h1.2v1.2h-1.2zM32.7 68.1h1.2v1.2h-1.2zM37.0 68.1h1.2v1.2h-1.2zM41.3 68.1h1.2v1.2h-1.2zM45.6 68.1h1.2v1.2h-1.2zM49.9 68.1h1.2v1.2h-1.2zM54.2 68.1h1.2v1.2h-1.2zM58.5 68.1h1.2v1.2h-1.2zM62.8 68.1h1.2v1.2h-1.2zM67.1 68.1h1.2v1.2h-1.2zM71.4 68.1h1.2v1.2h-1.2zM75.7 68.1h1.2v1.2h-1.2zM80.0 68.1h1.2v1.2h-1.2zM84.3 68.1h1.2v1.2h-1.2zM88.6 68.1h1.2v1.2h-1.2zM92.9 68.1h1.2v1.2h-1.2zM97.2 68.1h1.2v1.2h-1.2zM101.5 68.1h1.2v1.2h-1.2zM105.8 68.1h1.2v1.2h-1.2zM110.1 68.1h1.2v1.2h-1.2zM114.4 68.1h1.2v1.2h-1.2zM118.7 68.1h1.2v1.2h-1.2zM123.0 68.1h1.2v1.2h-1.2zM127.3 68.1h1.2v1.2h-1.2zM131.6 68.1h1.2v1.2h-1.2zM135.9 68.1h1.2v1.2h-1.2zM140.2 68.1h1.2v1.2h-1.2zM144.5 68.1h1.2v1.2h-1.2zM148.8 68.1h1.2v1.2h-1.2zM191.8 68.1h1.2v1.2h-1.2zM196.1 68.1h1.2v1.2h-1.2zM200.4 68.1h1.2v1.2h-1.2zM204.7 68.1h1.2v1.2h-1.2zM209.0 68.1h1.2v1.2h-1.2zM213.3 68.1h1.2v1.2h-1.2zM217.6 68.1h1.2v1.2h-1.2zM221.9 68.1h1.2v1.2h-1.2zM226.2 68.1h1.2v1.2h-1.2zM230.5 68.1h1.2v1.2h-1.2zM234.8 68.1h1.2v1.2h-1.2zM239.1 68.1h1.2v1.2h-1.2zM243.4 68.1h1.2v1.2h-1.2zM247.7 68.1h1.2v1.2h-1.2zM252.0 68.1h1.2v1.2h-1.2zM256.3 68.1h1.2v1.2h-1.2zM260.6 68.1h1.2v1.2h-1.2zM264.9 68.1h1.2v1.2h-1.2zM269.2 68.1h1.2v1.2h-1.2zM273.5 68.1h1.2v1.2h-1.2zM277.8 68.1h1.2v1.2h-1.2zM282.1 68.1h1.2v1.2h-1.2zM286.4 68.1h1.2v1.2h-1.2zM290.7 68.1h1.2v1.2h-1.2zM295.0 68.1h1.2v1.2h-1.2zM6.9 72.4h1.2v1.2h-1.2zM11.2 72.4h1.2v1.2h-1.2zM15.5 72.4h1.2v1.2h-1.2zM19.8 72.4h1.2v1.2h-1.2zM24.1 72.4h1.2v1.2h-1.2zM28.4 72.4h1.2v1.2h-1.2zM32.7 72.4h1.2v1.2h-1.2zM37.0 72.4h1.2v1.2h-1.2zM41.3 72.4h1.2v1.2h-1.2zM45.6 72.4h1.2v1.2h-1.2zM49.9 72.4h1.2v1.2h-1.2zM54.2 72.4h1.2v1.2h-1.2zM58.5 72.4h1.2v1.2h-1.2zM62.8 72.4h1.2v1.2h-1.2zM67.1 72.4h1.2v1.2h-1.2zM71.4 72.4h1.2v1.2h-1.2zM75.7 72.4h1.2v1.2h-1.2zM80.0 72.4h1.2v1.2h-1.2zM84.3 72.4h1.2v1.2h-1.2zM88.6 72.4h1.2v1.2h-1.2zM92.9 72.4h1.2v1.2h-1.2zM97.2 72.4h1.2v1.2h-1.2zM101.5 72.4h1.2v1.2h-1.2zM105.8 72.4h1.2v1.2h-1.2zM110.1 72.4h1.2v1.2h-1.2zM114.4 72.4h1.2v1.2h-1.2zM118.7 72.4h1.2v1.2h-1.2zM123.0 72.4h1.2v1.2h-1.2zM127.3 72.4h1.2v1.2h-1.2zM131.6 72.4h1.2v1.2h-1.2zM135.9 72.4h1.2v1.2h-1.2zM140.2 72.4h1.2v1.2h-1.2zM144.5 72.4h1.2v1.2h-1.2zM148.8 72.4h1.2v1.2h-1.2zM191.8 72.4h1.2v1.2h-1.2zM196.1 72.4h1.2v1.2h-1.2zM200.4 72.4h1.2v1.2h-1.2zM204.7 72.4h1.2v1.2h-1.2zM209.0 72.4h1.2v1.2h-1.2zM213.3 72.4h1.2v1.2h-1.2zM217.6 72.4h1.2v1.2h-1.2zM221.9 72.4h1.2v1.2h-1.2zM226.2 72.4h1.2v1.2h-1.2zM230.5 72.4h1.2v1.2h-1.2zM234.8 72.4h1.2v1.2h-1.2zM239.1 72.4h1.2v1.2h-1.2zM243.4 72.4h1.2v1.2h-1.2zM247.7 72.4h1.2v1.2h-1.2zM252.0 72.4h1.2v1.2h-1.2zM256.3 72.4h1.2v1.2h-1.2zM260.6 72.4h1.2v1.2h-1.2zM264.9 72.4h1.2v1.2h-1.2zM269.2 72.4h1.2v1.2h-1.2zM273.5 72.4h1.2v1.2h-1.2zM277.8 72.4h1.2v1.2h-1.2zM282.1 72.4h1.2v1.2h-1.2zM286.4 72.4h1.2v1.2h-1.2zM290.7 72.4h1.2v1.2h-1.2zM295.0 72.4h1.2v1.2h-1.2zM11.2 76.7h1.2v1.2h-1.2zM15.5 76.7h1.2v1.2h-1.2zM19.8 76.7h1.2v1.2h-1.2zM24.1 76.7h1.2v1.2h-1.2zM28.4 76.7h1.2v1.2h-1.2zM32.7 76.7h1.2v1.2h-1.2zM37.0 76.7h1.2v1.2h-1.2zM41.3 76.7h1.2v1.2h-1.2zM45.6 76.7h1.2v1.2h-1.2zM49.9 76.7h1.2v1.2h-1.2zM54.2 76.7h1.2v1.2h-1.2zM58.5 76.7h1.2v1.2h-1.2zM62.8 76.7h1.2v1.2h-1.2zM67.1 76.7h1.2v1.2h-1.2zM71.4 76.7h1.2v1.2h-1.2zM75.7 76.7h1.2v1.2h-1.2zM80.0 76.7h1.2v1.2h-1.2zM84.3 76.7h1.2v1.2h-1.2zM88.6 76.7h1.2v1.2h-1.2zM92.9 76.7h1.2v1.2h-1.2zM97.2 76.7h1.2v1.2h-1.2zM101.5 76.7h1.2v1.2h-1.2zM105.8 76.7h1.2v1.2h-1.2zM110.1 76.7h1.2v1.2h-1.2zM114.4 76.7h1.2v1.2h-1.2zM118.7 76.7h1.2v1.2h-1.2zM123.0 76.7h1.2v1.2h-1.2zM127.3 76.7h1.2v1.2h-1.2zM131.6 76.7h1.2v1.2h-1.2zM135.9 76.7h1.2v1.2h-1.2zM140.2 76.7h1.2v1.2h-1.2zM144.5 76.7h1.2v1.2h-1.2zM148.8 76.7h1.2v1.2h-1.2zM191.8 76.7h1.2v1.2h-1.2zM196.1 76.7h1.2v1.2h-1.2zM200.4 76.7h1.2v1.2h-1.2zM204.7 76.7h1.2v1.2h-1.2zM209.0 76.7h1.2v1.2h-1.2zM213.3 76.7h1.2v1.2h-1.2zM217.6 76.7h1.2v1.2h-1.2zM221.9 76.7h1.2v1.2h-1.2zM226.2 76.7h1.2v1.2h-1.2zM230.5 76.7h1.2v1.2h-1.2zM234.8 76.7h1.2v1.2h-1.2zM11.2 81.0h1.2v1.2h-1.2zM15.5 81.0h1.2v1.2h-1.2zM19.8 81.0h1.2v1.2h-1.2zM24.1 81.0h1.2v1.2h-1.2zM28.4 81.0h1.2v1.2h-1.2zM32.7 81.0h1.2v1.2h-1.2zM37.0 81.0h1.2v1.2h-1.2zM41.3 81.0h1.2v1.2h-1.2zM45.6 81.0h1.2v1.2h-1.2zM49.9 81.0h1.2v1.2h-1.2zM54.2 81.0h1.2v1.2h-1.2zM58.5 81.0h1.2v1.2h-1.2zM62.8 81.0h1.2v1.2h-1.2zM67.1 81.0h1.2v1.2h-1.2zM71.4 81.0h1.2v1.2h-1.2zM75.7 81.0h1.2v1.2h-1.2zM80.0 81.0h1.2v1.2h-1.2zM84.3 81.0h1.2v1.2h-1.2zM88.6 81.0h1.2v1.2h-1.2zM92.9 81.0h1.2v1.2h-1.2zM97.2 81.0h1.2v1.2h-1.2zM101.5 81.0h1.2v1.2h-1.2zM105.8 81.0h1.2v1.2h-1.2zM110.1 81.0h1.2v1.2h-1.2zM114.4 81.0h1.2v1.2h-1.2zM118.7 81.0h1.2v1.2h-1.2zM123.0 81.0h1.2v1.2h-1.2zM127.3 81.0h1.2v1.2h-1.2zM131.6 81.0h1.2v1.2h-1.2zM135.9 81.0h1.2v1.2h-1.2zM140.2 81.0h1.2v1.2h-1.2zM144.5 81.0h1.2v1.2h-1.2zM148.8 81.0h1.2v1.2h-1.2zM174.6 81.0h1.2v1.2h-1.2zM178.9 81.0h1.2v1.2h-1.2zM183.2 81.0h1.2v1.2h-1.2zM187.5 81.0h1.2v1.2h-1.2zM191.8 81.0h1.2v1.2h-1.2zM196.1 81.0h1.2v1.2h-1.2zM200.4 81.0h1.2v1.2h-1.2zM204.7 81.0h1.2v1.2h-1.2zM209.0 81.0h1.2v1.2h-1.2zM213.3 81.0h1.2v1.2h-1.2zM217.6 81.0h1.2v1.2h-1.2zM221.9 81.0h1.2v1.2h-1.2zM226.2 81.0h1.2v1.2h-1.2zM230.5 81.0h1.2v1.2h-1.2zM234.8 81.0h1.2v1.2h-1.2zM239.1 81.0h1.2v1.2h-1.2zM243.4 81.0h1.2v1.2h-1.2zM247.7 81.0h1.2v1.2h-1.2zM252.0 81.0h1.2v1.2h-1.2zM256.3 81.0h1.2v1.2h-1.2zM260.6 81.0h1.2v1.2h-1.2zM264.9 81.0h1.2v1.2h-1.2zM269.2 81.0h1.2v1.2h-1.2zM273.5 81.0h1.2v1.2h-1.2zM277.8 81.0h1.2v1.2h-1.2zM282.1 81.0h1.2v1.2h-1.2zM286.4 81.0h1.2v1.2h-1.2zM290.7 81.0h1.2v1.2h-1.2zM295.0 81.0h1.2v1.2h-1.2zM11.2 85.3h1.2v1.2h-1.2zM15.5 85.3h1.2v1.2h-1.2zM19.8 85.3h1.2v1.2h-1.2zM24.1 85.3h1.2v1.2h-1.2zM28.4 85.3h1.2v1.2h-1.2zM32.7 85.3h1.2v1.2h-1.2zM37.0 85.3h1.2v1.2h-1.2zM41.3 85.3h1.2v1.2h-1.2zM45.6 85.3h1.2v1.2h-1.2zM49.9 85.3h1.2v1.2h-1.2zM54.2 85.3h1.2v1.2h-1.2zM58.5 85.3h1.2v1.2h-1.2zM62.8 85.3h1.2v1.2h-1.2zM67.1 85.3h1.2v1.2h-1.2zM71.4 85.3h1.2v1.2h-1.2zM75.7 85.3h1.2v1.2h-1.2zM80.0 85.3h1.2v1.2h-1.2zM84.3 85.3h1.2v1.2h-1.2zM88.6 85.3h1.2v1.2h-1.2zM92.9 85.3h1.2v1.2h-1.2zM97.2 85.3h1.2v1.2h-1.2zM101.5 85.3h1.2v1.2h-1.2zM105.8 85.3h1.2v1.2h-1.2zM110.1 85.3h1.2v1.2h-1.2zM114.4 85.3h1.2v1.2h-1.2zM118.7 85.3h1.2v1.2h-1.2zM123.0 85.3h1.2v1.2h-1.2zM174.6 85.3h1.2v1.2h-1.2zM178.9 85.3h1.2v1.2h-1.2zM183.2 85.3h1.2v1.2h-1.2zM187.5 85.3h1.2v1.2h-1.2zM191.8 85.3h1.2v1.2h-1.2zM196.1 85.3h1.2v1.2h-1.2zM200.4 85.3h1.2v1.2h-1.2zM204.7 85.3h1.2v1.2h-1.2zM209.0 85.3h1.2v1.2h-1.2zM213.3 85.3h1.2v1.2h-1.2zM217.6 85.3h1.2v1.2h-1.2zM221.9 85.3h1.2v1.2h-1.2zM226.2 85.3h1.2v1.2h-1.2zM230.5 85.3h1.2v1.2h-1.2zM234.8 85.3h1.2v1.2h-1.2zM239.1 85.3h1.2v1.2h-1.2zM243.4 85.3h1.2v1.2h-1.2zM247.7 85.3h1.2v1.2h-1.2zM252.0 85.3h1.2v1.2h-1.2zM256.3 85.3h1.2v1.2h-1.2zM260.6 85.3h1.2v1.2h-1.2zM264.9 85.3h1.2v1.2h-1.2zM269.2 85.3h1.2v1.2h-1.2zM273.5 85.3h1.2v1.2h-1.2zM277.8 85.3h1.2v1.2h-1.2zM282.1 85.3h1.2v1.2h-1.2zM286.4 85.3h1.2v1.2h-1.2zM290.7 85.3h1.2v1.2h-1.2zM295.0 85.3h1.2v1.2h-1.2zM19.8 89.6h1.2v1.2h-1.2zM24.1 89.6h1.2v1.2h-1.2zM28.4 89.6h1.2v1.2h-1.2zM32.7 89.6h1.2v1.2h-1.2zM37.0 89.6h1.2v1.2h-1.2zM41.3 89.6h1.2v1.2h-1.2zM45.6 89.6h1.2v1.2h-1.2zM49.9 89.6h1.2v1.2h-1.2zM54.2 89.6h1.2v1.2h-1.2zM58.5 89.6h1.2v1.2h-1.2zM62.8 89.6h1.2v1.2h-1.2zM67.1 89.6h1.2v1.2h-1.2zM71.4 89.6h1.2v1.2h-1.2zM75.7 89.6h1.2v1.2h-1.2zM80.0 89.6h1.2v1.2h-1.2zM84.3 89.6h1.2v1.2h-1.2zM88.6 89.6h1.2v1.2h-1.2zM92.9 89.6h1.2v1.2h-1.2zM28.4 93.9h1.2v1.2h-1.2zM32.7 93.9h1.2v1.2h-1.2zM37.0 93.9h1.2v1.2h-1.2zM41.3 93.9h1.2v1.2h-1.2zM45.6 93.9h1.2v1.2h-1.2zM49.9 93.9h1.2v1.2h-1.2zM54.2 93.9h1.2v1.2h-1.2zM58.5 93.9h1.2v1.2h-1.2zM62.8 93.9h1.2v1.2h-1.2zM67.1 93.9h1.2v1.2h-1.2z" fill="#111"/>
<use href="#coast"/>
<use href="#jets"/>
</g>
<rect x="131.2" y="26.0" width="46.1" height="19.0" fill="none" stroke="#389029" stroke-width="1.6"/>
<rect x="131.2" y="58.5" width="46.1" height="20.4" fill="none" stroke="#389029" stroke-width="1.6"/>
<rect x="0" y="0" width="296.0" height="98.0" fill="none" stroke="#222" stroke-width="0.9"/>
</g>
<g transform="translate(384.7,367.4)">
<clipPath id="clipf"><rect x="0" y="0" width="296.0" height="98.0"/></clipPath>
<g clip-path="url(#clipf)">
<rect x="-2" y="-2" width="300.0" height="102.0" fill="#1c3868"/>
<rect x="-2" y="-2" width="300.0" height="102.0" fill="#2c5a98"/>
<path d="M-5.5 -5.8L301.8 -5.8 301.8 103.8 -5.8 103.8 -5.8 -5.8ZM225.1 31.2L222.2 32.2 220.6 33.8 220.5 35.8 221.8 37.6 224.5 38.7 228.2 38.9 231.2 38.2 233.2 36.6 233.6 34.5 232.2 32.4 229.2 31.2 225.2 31.2ZM103.1 46.5L101.6 47.8 101.5 49.8 102.8 51.4 104.8 51.5 106.4 50.2 106.5 48.2 105.2 46.6 103.2 46.5Z" fill="#5094c4" fill-rule="evenodd"/>
<path d="M-5.5 -5.8L301.8 -5.8 301.8 103.8 -5.8 103.8 -5.8 -5.8ZM225.1 23.2L221.5 23.8 217.2 25.5 214.6 27.2 212.5 29.5 211.3 32.2 211.2 35.2 211.9 37.5 213.8 40.1 216.5 42.2 219.5 43.5 223.2 44.6 227.8 45.0 232.2 44.7 235.5 43.9 239.2 42.4 241.8 40.4 244.2 37.3 245.0 34.2 244.3 30.8 242.2 27.9 238.9 25.5 234.4 23.8 229.8 23.1 225.2 23.2ZM100.9 41.2L97.8 41.9 94.8 43.2 92.5 44.8 90.9 46.8 90.2 49.2 90.3 51.5 91.2 53.6 92.8 55.5 95.5 57.2 98.5 58.3 101.5 58.9 105.2 59.0 108.2 58.6 111.5 57.6 114.2 56.2 116.1 54.5 117.5 52.2 117.9 49.5 117.2 47.0 115.5 44.8 112.5 42.8 108.8 41.5 105.5 41.0 101.2 41.1ZM192.7 81.2L190.5 81.9 188.8 83.5 188.4 85.5 189.2 87.2 191.2 88.4 193.8 89.0 196.5 88.6 198.5 87.5 199.3 86.5 199.7 85.2 199.4 83.8 198.8 82.8 196.2 81.3 192.8 81.1Z" fill="#9fcbe0" fill-rule="evenodd"/>
<path d="M-5.5 -5.8L247.8 -5.8 246.5 -4.8 240.2 -2.7 237.8 -1.5 236.5 0.5 236.6 1.8 237.2 2.8 240.5 4.9 247.8 6.9 264.5 9.0 280.8 8.9 293.5 7.4 301.8 5.8 301.8 103.8 -5.8 103.8 -5.8 -5.8ZM220.9 15.5L214.1 17.5 209.8 19.4 206.4 22.2 203.0 26.2 201.4 29.8 201.1 34.2 202.1 38.2 204.3 41.8 208.2 45.5 211.2 47.4 218.8 50.1 223.5 50.9 229.8 51.0 234.2 50.4 241.8 47.8 246.2 45.2 250.6 40.5 252.1 37.8 252.9 34.8 253.0 32.2 252.4 29.2 251.4 26.8 249.8 24.4 248.2 22.9 246.5 22.1 233.4 19.5 228.8 18.1 223.5 15.8 221.2 15.5ZM100.0 30.2L93.5 31.6 89.9 33.2 85.8 35.8 82.7 39.2 80.8 42.8 80.1 46.8 80.7 50.8 82.7 54.8 85.8 58.2 89.5 60.6 93.5 62.2 101.2 63.8 106.5 64.0 110.5 63.4 115.8 61.9 120.8 59.2 125.3 54.8 126.8 52.2 127.7 49.5 128.0 47.2 127.7 44.5 126.8 41.8 125.3 39.2 120.9 34.8 115.5 32.0 107.8 30.2 100.2 30.2ZM289.7 72.2L287.2 72.8 284.7 74.8 283.4 77.5 283.1 80.5 283.7 83.5 285.2 85.7 287.5 87.3 290.2 87.9 292.8 87.1 295.2 85.2 296.5 82.8 296.9 79.8 296.3 76.8 294.8 74.5 292.5 72.7 289.8 72.2ZM191.0 74.2L185.3 75.2 179.2 77.5 175.3 80.5 171.5 85.5 166.2 86.5 159.3 89.8 157.8 91.5 158.0 93.5 160.2 95.3 164.8 96.7 172.5 97.0 177.5 96.4 182.5 97.6 186.2 98.0 189.7 97.8 193.3 97.2 200.4 94.5 204.5 91.5 206.7 88.5 207.8 84.5 207.2 81.2 204.6 77.8 200.8 75.5 196.2 74.2 191.2 74.2ZM296.2 -5.8L301.8 -5.8 301.8 -3.4 298.0 -4.5 296.1 -5.8Z" fill="#dbeaf3" fill-rule="evenodd"/>
<path d="M-5.5 -5.8L222.1 -5.8 221.3 -4.5 217.7 -1.5 214.5 4.2 214.3 6.5 215.8 10.8 215.5 12.0 214.3 12.8 208.5 15.3 204.5 17.8 201.0 20.5 198.1 23.8 196.8 26.9 196.1 35.2 196.8 38.8 198.4 42.5 202.5 48.4 204.2 50.0 208.5 52.7 213.5 54.8 218.8 56.1 225.5 57.0 234.5 56.2 241.8 54.4 247.2 51.8 251.4 48.8 254.0 46.5 257.0 42.2 258.9 36.2 258.9 31.8 257.1 25.2 257.2 24.2 257.8 23.5 259.8 23.0 270.8 22.8 280.8 20.7 289.8 19.6 294.2 18.4 301.8 15.5 301.8 103.8 -5.8 103.8 -5.8 92.6 2.8 94.2 14.2 94.7 33.5 93.9 40.2 93.2 41.8 92.6 42.8 90.8 42.7 85.8 43.6 78.8 46.3 70.2 47.9 67.2 49.8 64.9 51.8 63.4 55.1 61.8 55.6 61.2 54.2 60.5 47.8 59.5 13.5 58.8 3.3 59.5 -5.8 61.4 -5.8 -5.8ZM102.4 25.2L96.5 25.9 90.8 27.5 85.4 30.5 81.2 34.2 77.5 39.1 75.8 43.2 75.1 48.2 75.8 53.1 78.4 60.2 79.5 61.5 81.2 62.4 101.5 66.4 105.5 67.7 111.2 70.6 113.2 70.7 116.2 70.0 119.2 68.8 124.2 65.7 127.5 62.9 129.5 60.2 131.5 55.4 133.0 49.5 133.2 45.2 132.4 40.8 130.8 37.2 127.9 33.5 123.8 30.0 119.2 27.2 116.2 26.0 112.5 25.2 102.5 25.2ZM286.4 68.2L281.8 69.8 278.3 72.8 276.3 77.2 276.2 81.8 277.6 86.2 280.5 89.3 284.8 91.5 289.5 91.9 294.2 90.4 297.6 87.5 299.6 83.5 300.1 81.2 300.1 78.8 298.6 74.2 297.2 72.2 295.5 70.5 291.2 68.5 286.5 68.1ZM195.6 71.8L188.5 72.5 183.3 73.8 178.4 75.5 173.0 78.2 170.0 80.2 163.8 85.7 157.5 89.2 155.6 91.8 155.5 93.2 155.9 94.5 158.5 96.9 163.2 98.6 182.8 100.7 188.5 100.5 193.2 99.7 198.5 98.1 202.8 96.0 207.4 92.8 210.8 88.8 212.7 84.5 212.3 80.8 210.5 77.5 206.5 74.4 201.2 72.2 198.2 71.7 195.8 71.8Z" fill="#f6f6f6" fill-rule="evenodd"/>
<path d="M-5.5 -5.8L207.5 -5.8 208.4 -5.2 213.5 -3.0 214.3 -2.2 214.4 -1.2 212.8 1.8 209.8 4.4 203.8 7.0 193.8 10.4 184.2 11.3 155.5 10.7 145.2 11.2 130.8 14.5 109.8 22.7 97.5 23.6 89.8 25.6 84.8 28.6 81.2 31.8 77.0 36.8 74.4 41.2 73.2 44.5 72.9 48.8 73.3 52.2 74.9 57.8 74.5 58.8 73.5 59.4 65.8 60.0 48.5 57.3 23.2 56.6 10.5 56.7 2.8 57.4 -3.5 58.6 -5.8 58.3 -5.8 -5.8ZM156.8 14.8L166.5 15.1 176.8 16.4 184.5 18.9 187.8 20.4 190.3 22.2 192.5 24.4 193.9 26.8 194.3 28.8 194.1 34.8 194.6 38.5 196.3 43.2 199.6 48.5 200.1 51.5 198.0 61.8 195.9 67.8 194.8 69.5 193.5 70.1 188.5 70.9 180.2 73.4 173.2 76.4 169.2 78.9 162.8 84.5 157.8 87.0 154.2 89.8 152.5 90.1 148.5 89.4 145.2 88.0 134.5 79.7 132.7 77.2 131.4 74.2 130.7 66.5 131.3 62.8 133.7 55.8 135.0 50.2 135.9 32.5 136.7 26.8 137.9 23.5 140.5 19.8 143.8 17.5 148.5 15.9 156.6 14.8ZM281.5 22.8L287.8 22.6 293.2 24.5 297.2 27.4 300.8 32.5 301.8 33.4 301.8 46.7 300.6 48.2 299.4 52.2 297.8 53.8 294.8 55.3 287.2 57.9 283.2 58.1 279.8 57.7 274.8 56.0 270.2 53.8 268.3 51.5 267.7 47.8 266.2 43.2 266.0 38.8 266.4 35.8 267.9 32.2 270.1 28.5 272.1 26.5 274.3 25.2 281.5 22.8ZM65.8 62.5L75.8 63.4 81.8 65.0 99.2 67.8 105.0 69.8 110.5 73.2 112.4 74.8 114.3 77.5 118.5 86.5 119.4 92.8 119.0 95.2 117.9 97.5 116.3 99.2 114.2 100.3 102.7 103.2 101.3 103.8 62.5 103.8 60.4 102.8 52.5 101.0 49.2 99.4 47.1 97.5 45.6 94.8 44.8 87.5 45.8 79.0 48.5 70.6 50.8 67.0 53.5 65.0 56.8 64.0 65.7 62.5ZM233.8 65.1L240.2 64.9 245.8 65.8 251.2 67.6 255.7 70.2 258.5 73.2 259.8 76.8 259.6 80.2 257.8 83.7 254.8 86.5 249.8 88.9 245.5 90.3 240.2 91.1 234.8 91.0 229.5 90.0 223.8 87.9 220.3 85.8 217.8 83.2 216.4 79.8 216.3 76.5 217.5 73.2 219.8 70.5 222.8 68.6 228.5 66.3 233.6 65.2Z" fill="#f6e0d3" fill-rule="evenodd"/>
<path d="M-5.5 -5.8L114.3 -5.8 115.8 -2.5 115.1 -0.8 113.2 1.1 104.2 6.9 101.2 9.4 83.2 27.0 71.5 40.9 69.5 42.4 66.2 44.1 57.5 47.5 51.5 49.0 43.8 50.3 30.8 51.0 16.8 50.4 7.5 50.4 -1.2 51.8 -2.8 51.5 -5.8 49.9 -5.8 -5.8ZM158.8 20.1L167.5 20.2 177.5 22.7 180.7 23.8 184.2 25.8 187.8 28.8 189.6 31.5 191.2 35.3 192.8 43.2 193.0 50.8 191.6 59.5 189.1 66.2 187.0 69.2 184.7 70.5 177.8 72.6 171.8 75.3 168.5 77.4 163.2 81.8 161.2 82.2 156.5 81.9 148.2 80.6 143.5 81.7 141.2 81.6 137.5 79.5 134.8 76.5 133.4 73.2 132.9 68.2 133.3 65.2 134.4 62.5 135.8 60.6 138.5 58.4 139.2 56.8 139.4 44.2 141.1 31.8 142.8 27.5 146.2 24.4 151.5 21.7 158.6 20.2ZM284.5 26.1L288.5 26.3 292.5 27.7 295.7 30.2 298.2 33.5 299.7 37.5 300.1 40.5 299.6 43.2 297.9 47.5 297.5 50.5 296.6 51.8 294.9 52.8 288.8 54.6 281.2 54.8 275.8 53.8 271.9 52.2 270.8 50.8 271.1 49.5 272.6 47.8 273.0 46.8 272.0 40.8 272.6 35.8 274.4 32.2 277.2 29.1 280.5 27.2 284.2 26.2ZM236.5 68.2L240.5 68.2 244.8 68.9 249.5 70.7 252.2 72.5 254.0 74.8 254.9 77.5 254.5 80.2 252.9 82.8 250.3 84.8 245.8 86.8 242.8 87.5 238.5 87.9 230.8 87.0 226.3 85.2 223.8 83.5 221.9 81.2 221.1 78.5 221.5 75.8 222.9 73.5 225.2 71.5 228.8 69.7 232.2 68.7 236.4 68.2ZM74.5 76.1L77.8 76.2 80.5 76.9 82.8 78.5 84.3 80.5 84.9 82.8 84.5 85.2 83.2 87.2 80.8 88.9 77.2 89.9 73.2 89.7 69.9 88.2 67.8 85.8 67.1 82.8 68.2 79.6 70.8 77.2 74.2 76.2Z" fill="#eba587" fill-rule="evenodd"/>
<path d="M27.5 5.8L37.8 6.0 48.2 8.3 51.5 9.6 53.5 11.2 54.6 13.2 54.5 15.2 52.8 17.5 49.2 19.4 44.2 20.8 36.5 22.0 27.8 21.9 20.5 20.5 14.8 18.5 12.2 16.4 11.5 14.8 11.5 13.2 12.3 11.5 13.8 10.2 19.8 7.4 27.4 5.8ZM164.2 37.1L167.5 37.1 170.5 37.7 172.8 38.9 174.8 40.8 175.7 42.8 175.7 45.2 174.8 47.2 172.8 49.1 169.2 50.7 164.5 50.9 160.5 49.9 157.5 47.5 156.2 44.5 156.3 42.8 157.0 41.2 159.8 38.5 163.9 37.2Z" fill="#d0544d" fill-rule="evenodd"/>
<path d="M26.8 8.5L32.8 8.4 37.2 9.1 39.8 10.5 40.4 11.5 40.4 12.5 39.5 13.8 37.8 14.8 31.8 16.0 24.5 15.5 21.8 14.7 20.2 13.5 19.6 11.8 20.5 10.4 22.8 9.3 26.6 8.5Z" fill="#98182b" fill-rule="evenodd"/>
<path d="M2.6 3.6h1.2v1.2h-1.2zM6.9 3.6h1.2v1.2h-1.2zM11.2 3.6h1.2v1.2h-1.2zM15.5 3.6h1.2v1.2h-1.2zM19.8 3.6h1.2v1.2h-1.2zM24.1 3.6h1.2v1.2h-1.2zM28.4 3.6h1.2v1.2h-1.2zM32.7 3.6h1.2v1.2h-1.2zM37.0 3.6h1.2v1.2h-1.2zM41.3 3.6h1.2v1.2h-1.2zM45.6 3.6h1.2v1.2h-1.2zM49.9 3.6h1.2v1.2h-1.2zM54.2 3.6h1.2v1.2h-1.2zM58.5 3.6h1.2v1.2h-1.2zM62.8 3.6h1.2v1.2h-1.2zM67.1 3.6h1.2v1.2h-1.2zM71.4 3.6h1.2v1.2h-1.2zM75.7 3.6h1.2v1.2h-1.2zM80.0 3.6h1.2v1.2h-1.2zM84.3 3.6h1.2v1.2h-1.2zM277.8 3.6h1.2v1.2h-1.2zM282.1 3.6h1.2v1.2h-1.2zM286.4 3.6h1.2v1.2h-1.2zM290.7 3.6h1.2v1.2h-1.2zM295.0 3.6h1.2v1.2h-1.2zM2.6 7.9h1.2v1.2h-1.2zM6.9 7.9h1.2v1.2h-1.2zM11.2 7.9h1.2v1.2h-1.2zM15.5 7.9h1.2v1.2h-1.2zM19.8 7.9h1.2v1.2h-1.2zM24.1 7.9h1.2v1.2h-1.2zM28.4 7.9h1.2v1.2h-1.2zM32.7 7.9h1.2v1.2h-1.2zM37.0 7.9h1.2v1.2h-1.2zM41.3 7.9h1.2v1.2h-1.2zM45.6 7.9h1.2v1.2h-1.2zM49.9 7.9h1.2v1.2h-1.2zM54.2 7.9h1.2v1.2h-1.2zM58.5 7.9h1.2v1.2h-1.2zM62.8 7.9h1.2v1.2h-1.2zM67.1 7.9h1.2v1.2h-1.2zM71.4 7.9h1.2v1.2h-1.2zM75.7 7.9h1.2v1.2h-1.2zM80.0 7.9h1.2v1.2h-1.2zM84.3 7.9h1.2v1.2h-1.2zM277.8 7.9h1.2v1.2h-1.2zM282.1 7.9h1.2v1.2h-1.2zM286.4 7.9h1.2v1.2h-1.2zM290.7 7.9h1.2v1.2h-1.2zM295.0 7.9h1.2v1.2h-1.2zM2.6 12.2h1.2v1.2h-1.2zM6.9 12.2h1.2v1.2h-1.2zM11.2 12.2h1.2v1.2h-1.2zM15.5 12.2h1.2v1.2h-1.2zM19.8 12.2h1.2v1.2h-1.2zM24.1 12.2h1.2v1.2h-1.2zM28.4 12.2h1.2v1.2h-1.2zM32.7 12.2h1.2v1.2h-1.2zM37.0 12.2h1.2v1.2h-1.2zM41.3 12.2h1.2v1.2h-1.2zM45.6 12.2h1.2v1.2h-1.2zM49.9 12.2h1.2v1.2h-1.2zM54.2 12.2h1.2v1.2h-1.2zM58.5 12.2h1.2v1.2h-1.2zM204.7 12.2h1.2v1.2h-1.2zM209.0 12.2h1.2v1.2h-1.2zM213.3 12.2h1.2v1.2h-1.2zM217.6 12.2h1.2v1.2h-1.2zM221.9 12.2h1.2v1.2h-1.2zM226.2 12.2h1.2v1.2h-1.2zM230.5 12.2h1.2v1.2h-1.2zM234.8 12.2h1.2v1.2h-1.2zM2.6 16.5h1.2v1.2h-1.2zM6.9 16.5h1.2v1.2h-1.2zM11.2 16.5h1.2v1.2h-1.2zM15.5 16.5h1.2v1.2h-1.2zM19.8 16.5h1.2v1.2h-1.2zM24.1 16.5h1.2v1.2h-1.2zM28.4 16.5h1.2v1.2h-1.2zM32.7 16.5h1.2v1.2h-1.2zM37.0 16.5h1.2v1.2h-1.2zM41.3 16.5h1.2v1.2h-1.2zM45.6 16.5h1.2v1.2h-1.2zM49.9 16.5h1.2v1.2h-1.2zM54.2 16.5h1.2v1.2h-1.2zM58.5 16.5h1.2v1.2h-1.2zM80.0 16.5h1.2v1.2h-1.2zM84.3 16.5h1.2v1.2h-1.2zM88.6 16.5h1.2v1.2h-1.2zM92.9 16.5h1.2v1.2h-1.2zM97.2 16.5h1.2v1.2h-1.2zM101.5 16.5h1.2v1.2h-1.2zM105.8 16.5h1.2v1.2h-1.2zM110.1 16.5h1.2v1.2h-1.2zM114.4 16.5h1.2v1.2h-1.2zM118.7 16.5h1.2v1.2h-1.2zM123.0 16.5h1.2v1.2h-1.2zM204.7 16.5h1.2v1.2h-1.2zM209.0 16.5h1.2v1.2h-1.2zM213.3 16.5h1.2v1.2h-1.2zM217.6 16.5h1.2v1.2h-1.2zM221.9 16.5h1.2v1.2h-1.2zM226.2 16.5h1.2v1.2h-1.2zM230.5 16.5h1.2v1.2h-1.2zM234.8 16.5h1.2v1.2h-1.2zM239.1 16.5h1.2v1.2h-1.2zM2.6 20.8h1.2v1.2h-1.2zM6.9 20.8h1.2v1.2h-1.2zM11.2 20.8h1.2v1.2h-1.2zM15.5 20.8h1.2v1.2h-1.2zM19.8 20.8h1.2v1.2h-1.2zM24.1 20.8h1.2v1.2h-1.2zM28.4 20.8h1.2v1.2h-1.2zM32.7 20.8h1.2v1.2h-1.2zM37.0 20.8h1.2v1.2h-1.2zM41.3 20.8h1.2v1.2h-1.2zM45.6 20.8h1.2v1.2h-1.2zM49.9 20.8h1.2v1.2h-1.2zM54.2 20.8h1.2v1.2h-1.2zM58.5 20.8h1.2v1.2h-1.2zM80.0 20.8h1.2v1.2h-1.2zM84.3 20.8h1.2v1.2h-1.2zM88.6 20.8h1.2v1.2h-1.2zM92.9 20.8h1.2v1.2h-1.2zM97.2 20.8h1.2v1.2h-1.2zM101.5 20.8h1.2v1.2h-1.2zM105.8 20.8h1.2v1.2h-1.2zM110.1 20.8h1.2v1.2h-1.2zM114.4 20.8h1.2v1.2h-1.2zM118.7 20.8h1.2v1.2h-1.2zM123.0 20.8h1.2v1.2h-1.2zM204.7 20.8h1.2v1.2h-1.2zM209.0 20.8h1.2v1.2h-1.2zM213.3 20.8h1.2v1.2h-1.2zM217.6 20.8h1.2v1.2h-1.2zM221.9 20.8h1.2v1.2h-1.2zM226.2 20.8h1.2v1.2h-1.2zM230.5 20.8h1.2v1.2h-1.2zM234.8 20.8h1.2v1.2h-1.2zM239.1 20.8h1.2v1.2h-1.2zM243.4 20.8h1.2v1.2h-1.2zM2.6 25.1h1.2v1.2h-1.2zM6.9 25.1h1.2v1.2h-1.2zM11.2 25.1h1.2v1.2h-1.2zM15.5 25.1h1.2v1.2h-1.2zM19.8 25.1h1.2v1.2h-1.2zM24.1 25.1h1.2v1.2h-1.2zM28.4 25.1h1.2v1.2h-1.2zM32.7 25.1h1.2v1.2h-1.2zM37.0 25.1h1.2v1.2h-1.2zM41.3 25.1h1.2v1.2h-1.2zM45.6 25.1h1.2v1.2h-1.2zM49.9 25.1h1.2v1.2h-1.2zM54.2 25.1h1.2v1.2h-1.2zM58.5 25.1h1.2v1.2h-1.2zM75.7 25.1h1.2v1.2h-1.2zM80.0 25.1h1.2v1.2h-1.2zM84.3 25.1h1.2v1.2h-1.2zM88.6 25.1h1.2v1.2h-1.2zM92.9 25.1h1.2v1.2h-1.2zM97.2 25.1h1.2v1.2h-1.2zM101.5 25.1h1.2v1.2h-1.2zM105.8 25.1h1.2v1.2h-1.2zM110.1 25.1h1.2v1.2h-1.2zM114.4 25.1h1.2v1.2h-1.2zM118.7 25.1h1.2v1.2h-1.2zM123.0 25.1h1.2v1.2h-1.2zM127.3 25.1h1.2v1.2h-1.2zM204.7 25.1h1.2v1.2h-1.2zM209.0 25.1h1.2v1.2h-1.2zM213.3 25.1h1.2v1.2h-1.2zM217.6 25.1h1.2v1.2h-1.2zM221.9 25.1h1.2v1.2h-1.2zM226.2 25.1h1.2v1.2h-1.2zM230.5 25.1h1.2v1.2h-1.2zM234.8 25.1h1.2v1.2h-1.2zM239.1 25.1h1.2v1.2h-1.2zM243.4 25.1h1.2v1.2h-1.2zM247.7 25.1h1.2v1.2h-1.2zM2.6 29.4h1.2v1.2h-1.2zM6.9 29.4h1.2v1.2h-1.2zM11.2 29.4h1.2v1.2h-1.2zM15.5 29.4h1.2v1.2h-1.2zM19.8 29.4h1.2v1.2h-1.2zM24.1 29.4h1.2v1.2h-1.2zM28.4 29.4h1.2v1.2h-1.2zM32.7 29.4h1.2v1.2h-1.2zM37.0 29.4h1.2v1.2h-1.2zM41.3 29.4h1.2v1.2h-1.2zM45.6 29.4h1.2v1.2h-1.2zM49.9 29.4h1.2v1.2h-1.2zM54.2 29.4h1.2v1.2h-1.2zM58.5 29.4h1.2v1.2h-1.2zM75.7 29.4h1.2v1.2h-1.2zM80.0 29.4h1.2v1.2h-1.2zM84.3 29.4h1.2v1.2h-1.2zM88.6 29.4h1.2v1.2h-1.2zM92.9 29.4h1.2v1.2h-1.2zM97.2 29.4h1.2v1.2h-1.2zM101.5 29.4h1.2v1.2h-1.2zM105.8 29.4h1.2v1.2h-1.2zM110.1 29.4h1.2v1.2h-1.2zM114.4 29.4h1.2v1.2h-1.2zM118.7 29.4h1.2v1.2h-1.2zM123.0 29.4h1.2v1.2h-1.2zM127.3 29.4h1.2v1.2h-1.2zM153.1 29.4h1.2v1.2h-1.2zM157.4 29.4h1.2v1.2h-1.2zM161.7 29.4h1.2v1.2h-1.2zM166.0 29.4h1.2v1.2h-1.2zM170.3 29.4h1.2v1.2h-1.2zM174.6 29.4h1.2v1.2h-1.2zM178.9 29.4h1.2v1.2h-1.2zM183.2 29.4h1.2v1.2h-1.2zM187.5 29.4h1.2v1.2h-1.2zM204.7 29.4h1.2v1.2h-1.2zM209.0 29.4h1.2v1.2h-1.2zM213.3 29.4h1.2v1.2h-1.2zM217.6 29.4h1.2v1.2h-1.2zM221.9 29.4h1.2v1.2h-1.2zM226.2 29.4h1.2v1.2h-1.2zM230.5 29.4h1.2v1.2h-1.2zM234.8 29.4h1.2v1.2h-1.2zM239.1 29.4h1.2v1.2h-1.2zM243.4 29.4h1.2v1.2h-1.2zM247.7 29.4h1.2v1.2h-1.2zM264.9 29.4h1.2v1.2h-1.2zM269.2 29.4h1.2v1.2h-1.2zM273.5 29.4h1.2v1.2h-1.2zM277.8 29.4h1.2v1.2h-1.2zM282.1 29.4h1.2v1.2h-1.2zM286.4 29.4h1.2v1.2h-1.2zM290.7 29.4h1.2v1.2h-1.2zM295.0 29.4h1.2v1.2h-1.2zM2.6 33.7h1.2v1.2h-1.2zM6.9 33.7h1.2v1.2h-1.2zM11.2 33.7h1.2v1.2h-1.2zM15.5 33.7h1.2v1.2h-1.2zM19.8 33.7h1.2v1.2h-1.2zM24.1 33.7h1.2v1.2h-1.2zM28.4 33.7h1.2v1.2h-1.2zM32.7 33.7h1.2v1.2h-1.2zM37.0 33.7h1.2v1.2h-1.2zM41.3 33.7h1.2v1.2h-1.2zM45.6 33.7h1.2v1.2h-1.2zM49.9 33.7h1.2v1.2h-1.2zM54.2 33.7h1.2v1.2h-1.2zM58.5 33.7h1.2v1.2h-1.2zM75.7 33.7h1.2v1.2h-1.2zM80.0 33.7h1.2v1.2h-1.2zM84.3 33.7h1.2v1.2h-1.2zM88.6 33.7h1.2v1.2h-1.2zM92.9 33.7h1.2v1.2h-1.2zM97.2 33.7h1.2v1.2h-1.2zM101.5 33.7h1.2v1.2h-1.2zM105.8 33.7h1.2v1.2h-1.2zM110.1 33.7h1.2v1.2h-1.2zM114.4 33.7h1.2v1.2h-1.2zM118.7 33.7h1.2v1.2h-1.2zM123.0 33.7h1.2v1.2h-1.2zM127.3 33.7h1.2v1.2h-1.2zM153.1 33.7h1.2v1.2h-1.2zM157.4 33.7h1.2v1.2h-1.2zM161.7 33.7h1.2v1.2h-1.2zM166.0 33.7h1.2v1.2h-1.2zM170.3 33.7h1.2v1.2h-1.2zM174.6 33.7h1.2v1.2h-1.2zM178.9 33.7h1.2v1.2h-1.2zM183.2 33.7h1.2v1.2h-1.2zM187.5 33.7h1.2v1.2h-1.2zM204.7 33.7h1.2v1.2h-1.2zM209.0 33.7h1.2v1.2h-1.2zM213.3 33.7h1.2v1.2h-1.2zM217.6 33.7h1.2v1.2h-1.2zM221.9 33.7h1.2v1.2h-1.2zM226.2 33.7h1.2v1.2h-1.2zM230.5 33.7h1.2v1.2h-1.2zM234.8 33.7h1.2v1.2h-1.2zM239.1 33.7h1.2v1.2h-1.2zM243.4 33.7h1.2v1.2h-1.2zM247.7 33.7h1.2v1.2h-1.2zM264.9 33.7h1.2v1.2h-1.2zM269.2 33.7h1.2v1.2h-1.2zM273.5 33.7h1.2v1.2h-1.2zM277.8 33.7h1.2v1.2h-1.2zM282.1 33.7h1.2v1.2h-1.2zM286.4 33.7h1.2v1.2h-1.2zM290.7 33.7h1.2v1.2h-1.2zM295.0 33.7h1.2v1.2h-1.2zM2.6 38.0h1.2v1.2h-1.2zM6.9 38.0h1.2v1.2h-1.2zM11.2 38.0h1.2v1.2h-1.2zM15.5 38.0h1.2v1.2h-1.2zM19.8 38.0h1.2v1.2h-1.2zM24.1 38.0h1.2v1.2h-1.2zM28.4 38.0h1.2v1.2h-1.2zM32.7 38.0h1.2v1.2h-1.2zM37.0 38.0h1.2v1.2h-1.2zM41.3 38.0h1.2v1.2h-1.2zM45.6 38.0h1.2v1.2h-1.2zM49.9 38.0h1.2v1.2h-1.2zM54.2 38.0h1.2v1.2h-1.2zM58.5 38.0h1.2v1.2h-1.2zM75.7 38.0h1.2v1.2h-1.2zM80.0 38.0h1.2v1.2h-1.2zM84.3 38.0h1.2v1.2h-1.2zM88.6 38.0h1.2v1.2h-1.2zM92.9 38.0h1.2v1.2h-1.2zM97.2 38.0h1.2v1.2h-1.2zM101.5 38.0h1.2v1.2h-1.2zM105.8 38.0h1.2v1.2h-1.2zM110.1 38.0h1.2v1.2h-1.2zM114.4 38.0h1.2v1.2h-1.2zM118.7 38.0h1.2v1.2h-1.2zM123.0 38.0h1.2v1.2h-1.2zM127.3 38.0h1.2v1.2h-1.2zM153.1 38.0h1.2v1.2h-1.2zM157.4 38.0h1.2v1.2h-1.2zM161.7 38.0h1.2v1.2h-1.2zM166.0 38.0h1.2v1.2h-1.2zM170.3 38.0h1.2v1.2h-1.2zM174.6 38.0h1.2v1.2h-1.2zM178.9 38.0h1.2v1.2h-1.2zM183.2 38.0h1.2v1.2h-1.2zM187.5 38.0h1.2v1.2h-1.2zM204.7 38.0h1.2v1.2h-1.2zM209.0 38.0h1.2v1.2h-1.2zM213.3 38.0h1.2v1.2h-1.2zM217.6 38.0h1.2v1.2h-1.2zM221.9 38.0h1.2v1.2h-1.2zM226.2 38.0h1.2v1.2h-1.2zM230.5 38.0h1.2v1.2h-1.2zM234.8 38.0h1.2v1.2h-1.2zM239.1 38.0h1.2v1.2h-1.2zM243.4 38.0h1.2v1.2h-1.2zM247.7 38.0h1.2v1.2h-1.2zM264.9 38.0h1.2v1.2h-1.2zM269.2 38.0h1.2v1.2h-1.2zM273.5 38.0h1.2v1.2h-1.2zM277.8 38.0h1.2v1.2h-1.2zM282.1 38.0h1.2v1.2h-1.2zM286.4 38.0h1.2v1.2h-1.2zM290.7 38.0h1.2v1.2h-1.2zM295.0 38.0h1.2v1.2h-1.2zM2.6 42.3h1.2v1.2h-1.2zM6.9 42.3h1.2v1.2h-1.2zM11.2 42.3h1.2v1.2h-1.2zM15.5 42.3h1.2v1.2h-1.2zM19.8 42.3h1.2v1.2h-1.2zM24.1 42.3h1.2v1.2h-1.2zM28.4 42.3h1.2v1.2h-1.2zM32.7 42.3h1.2v1.2h-1.2zM37.0 42.3h1.2v1.2h-1.2zM41.3 42.3h1.2v1.2h-1.2zM45.6 42.3h1.2v1.2h-1.2zM49.9 42.3h1.2v1.2h-1.2zM54.2 42.3h1.2v1.2h-1.2zM58.5 42.3h1.2v1.2h-1.2zM75.7 42.3h1.2v1.2h-1.2zM80.0 42.3h1.2v1.2h-1.2zM84.3 42.3h1.2v1.2h-1.2zM88.6 42.3h1.2v1.2h-1.2zM92.9 42.3h1.2v1.2h-1.2zM97.2 42.3h1.2v1.2h-1.2zM101.5 42.3h1.2v1.2h-1.2zM105.8 42.3h1.2v1.2h-1.2zM110.1 42.3h1.2v1.2h-1.2zM114.4 42.3h1.2v1.2h-1.2zM118.7 42.3h1.2v1.2h-1.2zM123.0 42.3h1.2v1.2h-1.2zM127.3 42.3h1.2v1.2h-1.2zM153.1 42.3h1.2v1.2h-1.2zM157.4 42.3h1.2v1.2h-1.2zM161.7 42.3h1.2v1.2h-1.2zM166.0 42.3h1.2v1.2h-1.2zM170.3 42.3h1.2v1.2h-1.2zM174.6 42.3h1.2v1.2h-1.2zM178.9 42.3h1.2v1.2h-1.2zM183.2 42.3h1.2v1.2h-1.2zM187.5 42.3h1.2v1.2h-1.2zM204.7 42.3h1.2v1.2h-1.2zM209.0 42.3h1.2v1.2h-1.2zM213.3 42.3h1.2v1.2h-1.2zM217.6 42.3h1.2v1.2h-1.2zM221.9 42.3h1.2v1.2h-1.2zM226.2 42.3h1.2v1.2h-1.2zM230.5 42.3h1.2v1.2h-1.2zM234.8 42.3h1.2v1.2h-1.2zM239.1 42.3h1.2v1.2h-1.2zM243.4 42.3h1.2v1.2h-1.2zM247.7 42.3h1.2v1.2h-1.2zM264.9 42.3h1.2v1.2h-1.2zM269.2 42.3h1.2v1.2h-1.2zM273.5 42.3h1.2v1.2h-1.2zM277.8 42.3h1.2v1.2h-1.2zM282.1 42.3h1.2v1.2h-1.2zM286.4 42.3h1.2v1.2h-1.2zM290.7 42.3h1.2v1.2h-1.2zM295.0 42.3h1.2v1.2h-1.2zM2.6 46.6h1.2v1.2h-1.2zM6.9 46.6h1.2v1.2h-1.2zM11.2 46.6h1.2v1.2h-1.2zM15.5 46.6h1.2v1.2h-1.2zM19.8 46.6h1.2v1.2h-1.2zM24.1 46.6h1.2v1.2h-1.2zM28.4 46.6h1.2v1.2h-1.2zM32.7 46.6h1.2v1.2h-1.2zM37.0 46.6h1.2v1.2h-1.2zM41.3 46.6h1.2v1.2h-1.2zM45.6 46.6h1.2v1.2h-1.2zM49.9 46.6h1.2v1.2h-1.2zM54.2 46.6h1.2v1.2h-1.2zM58.5 46.6h1.2v1.2h-1.2zM75.7 46.6h1.2v1.2h-1.2zM80.0 46.6h1.2v1.2h-1.2zM84.3 46.6h1.2v1.2h-1.2zM88.6 46.6h1.2v1.2h-1.2zM92.9 46.6h1.2v1.2h-1.2zM97.2 46.6h1.2v1.2h-1.2zM101.5 46.6h1.2v1.2h-1.2zM105.8 46.6h1.2v1.2h-1.2zM110.1 46.6h1.2v1.2h-1.2zM114.4 46.6h1.2v1.2h-1.2zM118.7 46.6h1.2v1.2h-1.2zM123.0 46.6h1.2v1.2h-1.2zM127.3 46.6h1.2v1.2h-1.2zM153.1 46.6h1.2v1.2h-1.2zM157.4 46.6h1.2v1.2h-1.2zM161.7 46.6h1.2v1.2h-1.2zM166.0 46.6h1.2v1.2h-1.2zM170.3 46.6h1.2v1.2h-1.2zM174.6 46.6h1.2v1.2h-1.2zM178.9 46.6h1.2v1.2h-1.2zM183.2 46.6h1.2v1.2h-1.2zM187.5 46.6h1.2v1.2h-1.2zM204.7 46.6h1.2v1.2h-1.2zM209.0 46.6h1.2v1.2h-1.2zM213.3 46.6h1.2v1.2h-1.2zM217.6 46.6h1.2v1.2h-1.2zM221.9 46.6h1.2v1.2h-1.2zM226.2 46.6h1.2v1.2h-1.2zM230.5 46.6h1.2v1.2h-1.2zM234.8 46.6h1.2v1.2h-1.2zM239.1 46.6h1.2v1.2h-1.2zM243.4 46.6h1.2v1.2h-1.2zM247.7 46.6h1.2v1.2h-1.2zM264.9 46.6h1.2v1.2h-1.2zM269.2 46.6h1.2v1.2h-1.2zM273.5 46.6h1.2v1.2h-1.2zM277.8 46.6h1.2v1.2h-1.2zM282.1 46.6h1.2v1.2h-1.2zM286.4 46.6h1.2v1.2h-1.2zM290.7 46.6h1.2v1.2h-1.2zM295.0 46.6h1.2v1.2h-1.2zM6.9 50.9h1.2v1.2h-1.2zM11.2 50.9h1.2v1.2h-1.2zM15.5 50.9h1.2v1.2h-1.2zM19.8 50.9h1.2v1.2h-1.2zM24.1 50.9h1.2v1.2h-1.2zM28.4 50.9h1.2v1.2h-1.2zM32.7 50.9h1.2v1.2h-1.2zM37.0 50.9h1.2v1.2h-1.2zM41.3 50.9h1.2v1.2h-1.2zM45.6 50.9h1.2v1.2h-1.2zM49.9 50.9h1.2v1.2h-1.2zM54.2 50.9h1.2v1.2h-1.2zM80.0 50.9h1.2v1.2h-1.2zM84.3 50.9h1.2v1.2h-1.2zM88.6 50.9h1.2v1.2h-1.2zM92.9 50.9h1.2v1.2h-1.2zM97.2 50.9h1.2v1.2h-1.2zM101.5 50.9h1.2v1.2h-1.2zM105.8 50.9h1.2v1.2h-1.2zM110.1 50.9h1.2v1.2h-1.2zM114.4 50.9h1.2v1.2h-1.2zM118.7 50.9h1.2v1.2h-1.2zM123.0 50.9h1.2v1.2h-1.2zM127.3 50.9h1.2v1.2h-1.2zM153.1 50.9h1.2v1.2h-1.2zM157.4 50.9h1.2v1.2h-1.2zM161.7 50.9h1.2v1.2h-1.2zM166.0 50.9h1.2v1.2h-1.2zM170.3 50.9h1.2v1.2h-1.2zM174.6 50.9h1.2v1.2h-1.2zM178.9 50.9h1.2v1.2h-1.2zM183.2 50.9h1.2v1.2h-1.2zM187.5 50.9h1.2v1.2h-1.2zM204.7 50.9h1.2v1.2h-1.2zM209.0 50.9h1.2v1.2h-1.2zM213.3 50.9h1.2v1.2h-1.2zM217.6 50.9h1.2v1.2h-1.2zM221.9 50.9h1.2v1.2h-1.2zM226.2 50.9h1.2v1.2h-1.2zM230.5 50.9h1.2v1.2h-1.2zM234.8 50.9h1.2v1.2h-1.2zM239.1 50.9h1.2v1.2h-1.2zM243.4 50.9h1.2v1.2h-1.2zM247.7 50.9h1.2v1.2h-1.2zM264.9 50.9h1.2v1.2h-1.2zM269.2 50.9h1.2v1.2h-1.2zM273.5 50.9h1.2v1.2h-1.2zM277.8 50.9h1.2v1.2h-1.2zM282.1 50.9h1.2v1.2h-1.2zM286.4 50.9h1.2v1.2h-1.2zM290.7 50.9h1.2v1.2h-1.2zM295.0 50.9h1.2v1.2h-1.2zM84.3 55.2h1.2v1.2h-1.2zM88.6 55.2h1.2v1.2h-1.2zM92.9 55.2h1.2v1.2h-1.2zM97.2 55.2h1.2v1.2h-1.2zM101.5 55.2h1.2v1.2h-1.2zM105.8 55.2h1.2v1.2h-1.2zM110.1 55.2h1.2v1.2h-1.2zM114.4 55.2h1.2v1.2h-1.2zM118.7 55.2h1.2v1.2h-1.2zM123.0 55.2h1.2v1.2h-1.2zM127.3 55.2h1.2v1.2h-1.2zM153.1 55.2h1.2v1.2h-1.2zM157.4 55.2h1.2v1.2h-1.2zM161.7 55.2h1.2v1.2h-1.2zM166.0 55.2h1.2v1.2h-1.2zM170.3 55.2h1.2v1.2h-1.2zM174.6 55.2h1.2v1.2h-1.2zM178.9 55.2h1.2v1.2h-1.2zM183.2 55.2h1.2v1.2h-1.2zM187.5 55.2h1.2v1.2h-1.2zM191.8 55.2h1.2v1.2h-1.2zM196.1 55.2h1.2v1.2h-1.2zM200.4 55.2h1.2v1.2h-1.2zM204.7 55.2h1.2v1.2h-1.2zM209.0 55.2h1.2v1.2h-1.2zM213.3 55.2h1.2v1.2h-1.2zM217.6 55.2h1.2v1.2h-1.2zM221.9 55.2h1.2v1.2h-1.2zM226.2 55.2h1.2v1.2h-1.2zM230.5 55.2h1.2v1.2h-1.2zM234.8 55.2h1.2v1.2h-1.2zM239.1 55.2h1.2v1.2h-1.2zM243.4 55.2h1.2v1.2h-1.2zM247.7 55.2h1.2v1.2h-1.2zM92.9 59.5h1.2v1.2h-1.2zM97.2 59.5h1.2v1.2h-1.2zM101.5 59.5h1.2v1.2h-1.2zM105.8 59.5h1.2v1.2h-1.2zM110.1 59.5h1.2v1.2h-1.2zM114.4 59.5h1.2v1.2h-1.2zM118.7 59.5h1.2v1.2h-1.2zM123.0 59.5h1.2v1.2h-1.2zM153.1 59.5h1.2v1.2h-1.2zM157.4 59.5h1.2v1.2h-1.2zM161.7 59.5h1.2v1.2h-1.2zM166.0 59.5h1.2v1.2h-1.2zM170.3 59.5h1.2v1.2h-1.2zM174.6 59.5h1.2v1.2h-1.2zM178.9 59.5h1.2v1.2h-1.2zM183.2 59.5h1.2v1.2h-1.2zM187.5 59.5h1.2v1.2h-1.2zM191.8 59.5h1.2v1.2h-1.2zM196.1 59.5h1.2v1.2h-1.2zM200.4 59.5h1.2v1.2h-1.2zM204.7 59.5h1.2v1.2h-1.2zM209.0 59.5h1.2v1.2h-1.2zM213.3 59.5h1.2v1.2h-1.2zM217.6 59.5h1.2v1.2h-1.2zM221.9 59.5h1.2v1.2h-1.2zM226.2 59.5h1.2v1.2h-1.2zM230.5 59.5h1.2v1.2h-1.2zM234.8 59.5h1.2v1.2h-1.2zM239.1 59.5h1.2v1.2h-1.2zM243.4 59.5h1.2v1.2h-1.2zM247.7 59.5h1.2v1.2h-1.2zM153.1 63.8h1.2v1.2h-1.2zM157.4 63.8h1.2v1.2h-1.2zM161.7 63.8h1.2v1.2h-1.2zM166.0 63.8h1.2v1.2h-1.2zM170.3 63.8h1.2v1.2h-1.2zM174.6 63.8h1.2v1.2h-1.2zM178.9 63.8h1.2v1.2h-1.2zM183.2 63.8h1.2v1.2h-1.2zM187.5 63.8h1.2v1.2h-1.2zM191.8 63.8h1.2v1.2h-1.2zM196.1 63.8h1.2v1.2h-1.2zM200.4 63.8h1.2v1.2h-1.2zM204.7 63.8h1.2v1.2h-1.2zM209.0 63.8h1.2v1.2h-1.2zM213.3 63.8h1.2v1.2h-1.2zM217.6 63.8h1.2v1.2h-1.2zM221.9 63.8h1.2v1.2h-1.2zM226.2 63.8h1.2v1.2h-1.2zM230.5 63.8h1.2v1.2h-1.2zM234.8 63.8h1.2v1.2h-1.2zM239.1 63.8h1.2v1.2h-1.2zM243.4 63.8h1.2v1.2h-1.2zM247.7 63.8h1.2v1.2h-1.2zM273.5 63.8h1.2v1.2h-1.2zM277.8 63.8h1.2v1.2h-1.2zM282.1 63.8h1.2v1.2h-1.2zM286.4 63.8h1.2v1.2h-1.2zM290.7 63.8h1.2v1.2h-1.2zM295.0 63.8h1.2v1.2h-1.2zM80.0 68.1h1.2v1.2h-1.2zM84.3 68.1h1.2v1.2h-1.2zM88.6 68.1h1.2v1.2h-1.2zM92.9 68.1h1.2v1.2h-1.2zM97.2 68.1h1.2v1.2h-1.2zM183.2 68.1h1.2v1.2h-1.2zM187.5 68.1h1.2v1.2h-1.2zM191.8 68.1h1.2v1.2h-1.2zM196.1 68.1h1.2v1.2h-1.2zM200.4 68.1h1.2v1.2h-1.2zM204.7 68.1h1.2v1.2h-1.2zM209.0 68.1h1.2v1.2h-1.2zM213.3 68.1h1.2v1.2h-1.2zM217.6 68.1h1.2v1.2h-1.2zM221.9 68.1h1.2v1.2h-1.2zM226.2 68.1h1.2v1.2h-1.2zM230.5 68.1h1.2v1.2h-1.2zM234.8 68.1h1.2v1.2h-1.2zM239.1 68.1h1.2v1.2h-1.2zM243.4 68.1h1.2v1.2h-1.2zM247.7 68.1h1.2v1.2h-1.2zM252.0 68.1h1.2v1.2h-1.2zM256.3 68.1h1.2v1.2h-1.2zM260.6 68.1h1.2v1.2h-1.2zM273.5 68.1h1.2v1.2h-1.2zM277.8 68.1h1.2v1.2h-1.2zM282.1 68.1h1.2v1.2h-1.2zM286.4 68.1h1.2v1.2h-1.2zM290.7 68.1h1.2v1.2h-1.2zM295.0 68.1h1.2v1.2h-1.2zM80.0 72.4h1.2v1.2h-1.2zM84.3 72.4h1.2v1.2h-1.2zM88.6 72.4h1.2v1.2h-1.2zM92.9 72.4h1.2v1.2h-1.2zM97.2 72.4h1.2v1.2h-1.2zM183.2 72.4h1.2v1.2h-1.2zM187.5 72.4h1.2v1.2h-1.2zM191.8 72.4h1.2v1.2h-1.2zM196.1 72.4h1.2v1.2h-1.2zM200.4 72.4h1.2v1.2h-1.2zM204.7 72.4h1.2v1.2h-1.2zM209.0 72.4h1.2v1.2h-1.2zM213.3 72.4h1.2v1.2h-1.2zM217.6 72.4h1.2v1.2h-1.2zM221.9 72.4h1.2v1.2h-1.2zM226.2 72.4h1.2v1.2h-1.2zM230.5 72.4h1.2v1.2h-1.2zM234.8 72.4h1.2v1.2h-1.2zM239.1 72.4h1.2v1.2h-1.2zM243.4 72.4h1.2v1.2h-1.2zM247.7 72.4h1.2v1.2h-1.2zM252.0 72.4h1.2v1.2h-1.2zM256.3 72.4h1.2v1.2h-1.2zM260.6 72.4h1.2v1.2h-1.2zM273.5 72.4h1.2v1.2h-1.2zM277.8 72.4h1.2v1.2h-1.2zM282.1 72.4h1.2v1.2h-1.2zM286.4 72.4h1.2v1.2h-1.2zM290.7 72.4h1.2v1.2h-1.2zM295.0 72.4h1.2v1.2h-1.2zM80.0 76.7h1.2v1.2h-1.2zM84.3 76.7h1.2v1.2h-1.2zM88.6 76.7h1.2v1.2h-1.2zM92.9 76.7h1.2v1.2h-1.2zM97.2 76.7h1.2v1.2h-1.2zM114.4 76.7h1.2v1.2h-1.2zM118.7 76.7h1.2v1.2h-1.2zM123.0 76.7h1.2v1.2h-1.2zM127.3 76.7h1.2v1.2h-1.2zM183.2 76.7h1.2v1.2h-1.2zM187.5 76.7h1.2v1.2h-1.2zM191.8 76.7h1.2v1.2h-1.2zM196.1 76.7h1.2v1.2h-1.2zM200.4 76.7h1.2v1.2h-1.2zM204.7 76.7h1.2v1.2h-1.2zM209.0 76.7h1.2v1.2h-1.2zM213.3 76.7h1.2v1.2h-1.2zM217.6 76.7h1.2v1.2h-1.2zM221.9 76.7h1.2v1.2h-1.2zM226.2 76.7h1.2v1.2h-1.2zM230.5 76.7h1.2v1.2h-1.2zM234.8 76.7h1.2v1.2h-1.2zM239.1 76.7h1.2v1.2h-1.2zM243.4 76.7h1.2v1.2h-1.2zM247.7 76.7h1.2v1.2h-1.2zM252.0 76.7h1.2v1.2h-1.2zM256.3 76.7h1.2v1.2h-1.2zM260.6 76.7h1.2v1.2h-1.2zM273.5 76.7h1.2v1.2h-1.2zM277.8 76.7h1.2v1.2h-1.2zM282.1 76.7h1.2v1.2h-1.2zM286.4 76.7h1.2v1.2h-1.2zM290.7 76.7h1.2v1.2h-1.2zM295.0 76.7h1.2v1.2h-1.2zM80.0 81.0h1.2v1.2h-1.2zM84.3 81.0h1.2v1.2h-1.2zM88.6 81.0h1.2v1.2h-1.2zM92.9 81.0h1.2v1.2h-1.2zM97.2 81.0h1.2v1.2h-1.2zM114.4 81.0h1.2v1.2h-1.2zM118.7 81.0h1.2v1.2h-1.2zM123.0 81.0h1.2v1.2h-1.2zM127.3 81.0h1.2v1.2h-1.2zM183.2 81.0h1.2v1.2h-1.2zM187.5 81.0h1.2v1.2h-1.2zM191.8 81.0h1.2v1.2h-1.2zM196.1 81.0h1.2v1.2h-1.2zM200.4 81.0h1.2v1.2h-1.2zM204.7 81.0h1.2v1.2h-1.2zM209.0 81.0h1.2v1.2h-1.2zM213.3 81.0h1.2v1.2h-1.2zM217.6 81.0h1.2v1.2h-1.2zM221.9 81.0h1.2v1.2h-1.2zM226.2 81.0h1.2v1.2h-1.2zM230.5 81.0h1.2v1.2h-1.2zM234.8 81.0h1.2v1.2h-1.2zM239.1 81.0h1.2v1.2h-1.2zM243.4 81.0h1.2v1.2h-1.2zM247.7 81.0h1.2v1.2h-1.2zM252.0 81.0h1.2v1.2h-1.2zM256.3 81.0h1.2v1.2h-1.2zM260.6 81.0h1.2v1.2h-1.2zM273.5 81.0h1.2v1.2h-1.2zM277.8 81.0h1.2v1.2h-1.2zM282.1 81.0h1.2v1.2h-1.2zM286.4 81.0h1.2v1.2h-1.2zM290.7 81.0h1.2v1.2h-1.2zM295.0 81.0h1.2v1.2h-1.2zM114.4 85.3h1.2v1.2h-1.2zM118.7 85.3h1.2v1.2h-1.2zM123.0 85.3h1.2v1.2h-1.2zM127.3 85.3h1.2v1.2h-1.2zM183.2 85.3h1.2v1.2h-1.2zM187.5 85.3h1.2v1.2h-1.2zM191.8 85.3h1.2v1.2h-1.2zM196.1 85.3h1.2v1.2h-1.2zM200.4 85.3h1.2v1.2h-1.2zM204.7 85.3h1.2v1.2h-1.2zM209.0 85.3h1.2v1.2h-1.2zM213.3 85.3h1.2v1.2h-1.2zM217.6 85.3h1.2v1.2h-1.2zM221.9 85.3h1.2v1.2h-1.2zM226.2 85.3h1.2v1.2h-1.2zM230.5 85.3h1.2v1.2h-1.2zM234.8 85.3h1.2v1.2h-1.2zM239.1 85.3h1.2v1.2h-1.2zM243.4 85.3h1.2v1.2h-1.2zM247.7 85.3h1.2v1.2h-1.2zM252.0 85.3h1.2v1.2h-1.2zM256.3 85.3h1.2v1.2h-1.2zM260.6 85.3h1.2v1.2h-1.2zM273.5 85.3h1.2v1.2h-1.2zM277.8 85.3h1.2v1.2h-1.2zM282.1 85.3h1.2v1.2h-1.2zM286.4 85.3h1.2v1.2h-1.2zM290.7 85.3h1.2v1.2h-1.2zM295.0 85.3h1.2v1.2h-1.2zM114.4 89.6h1.2v1.2h-1.2zM118.7 89.6h1.2v1.2h-1.2zM123.0 89.6h1.2v1.2h-1.2zM127.3 89.6h1.2v1.2h-1.2zM183.2 89.6h1.2v1.2h-1.2zM187.5 89.6h1.2v1.2h-1.2zM191.8 89.6h1.2v1.2h-1.2zM196.1 89.6h1.2v1.2h-1.2zM200.4 89.6h1.2v1.2h-1.2zM204.7 89.6h1.2v1.2h-1.2zM209.0 89.6h1.2v1.2h-1.2zM213.3 89.6h1.2v1.2h-1.2zM217.6 89.6h1.2v1.2h-1.2zM221.9 89.6h1.2v1.2h-1.2zM226.2 89.6h1.2v1.2h-1.2zM230.5 89.6h1.2v1.2h-1.2zM234.8 89.6h1.2v1.2h-1.2zM239.1 89.6h1.2v1.2h-1.2zM243.4 89.6h1.2v1.2h-1.2zM247.7 89.6h1.2v1.2h-1.2zM252.0 89.6h1.2v1.2h-1.2zM256.3 89.6h1.2v1.2h-1.2zM260.6 89.6h1.2v1.2h-1.2zM273.5 89.6h1.2v1.2h-1.2zM277.8 89.6h1.2v1.2h-1.2zM282.1 89.6h1.2v1.2h-1.2zM286.4 89.6h1.2v1.2h-1.2zM290.7 89.6h1.2v1.2h-1.2zM295.0 89.6h1.2v1.2h-1.2zM183.2 93.9h1.2v1.2h-1.2zM187.5 93.9h1.2v1.2h-1.2zM191.8 93.9h1.2v1.2h-1.2zM196.1 93.9h1.2v1.2h-1.2zM200.4 93.9h1.2v1.2h-1.2zM204.7 93.9h1.2v1.2h-1.2zM209.0 93.9h1.2v1.2h-1.2zM213.3 93.9h1.2v1.2h-1.2zM217.6 93.9h1.2v1.2h-1.2zM221.9 93.9h1.2v1.2h-1.2zM226.2 93.9h1.2v1.2h-1.2zM230.5 93.9h1.2v1.2h-1.2zM234.8 93.9h1.2v1.2h-1.2zM239.1 93.9h1.2v1.2h-1.2zM243.4 93.9h1.2v1.2h-1.2zM247.7 93.9h1.2v1.2h-1.2zM252.0 93.9h1.2v1.2h-1.2zM256.3 93.9h1.2v1.2h-1.2zM260.6 93.9h1.2v1.2h-1.2zM273.5 93.9h1.2v1.2h-1.2zM277.8 93.9h1.2v1.2h-1.2zM282.1 93.9h1.2v1.2h-1.2zM286.4 93.9h1.2v1.2h-1.2zM290.7 93.9h1.2v1.2h-1.2zM295.0 93.9h1.2v1.2h-1.2z" fill="#111"/>
<use href="#coast"/>
</g>
<rect x="0" y="0" width="296.0" height="98.0" fill="none" stroke="#222" stroke-width="0.9"/>
</g>
<text x="170.6" y="14.5" font-size="13.0" text-anchor="middle" textLength="268.5" lengthAdjust="spacingAndGlyphs" fill="#000">ERA5 U250, 2000-2014 minus 1985-1999</text>
<text x="532.0" y="14.5" font-size="13.0" text-anchor="middle" textLength="269.0" lengthAdjust="spacingAndGlyphs" fill="#000">ERA5 V250, 2000-2014 minus 1985-1999</text>
<text x="170.6" y="188.3" font-size="13.0" text-anchor="middle" textLength="212.2" lengthAdjust="spacingAndGlyphs" fill="#000">ERA5 U250 Joint-EOF2, var=16%</text>
<text x="531.8" y="188.3" font-size="13.0" text-anchor="middle" textLength="213.3" lengthAdjust="spacingAndGlyphs" fill="#000">ERA5 V250 Joint-EOF2, var=16%</text>
<text x="171.0" y="363.2" font-size="13.0" text-anchor="middle" textLength="297.3" lengthAdjust="spacingAndGlyphs" fill="#000">U250 strong Siberia temperature trend mems</text>
<text x="532.0" y="363.2" font-size="13.0" text-anchor="middle" textLength="296.0" lengthAdjust="spacingAndGlyphs" fill="#000">V250 strong Siberia temperature trend mems</text>
<text x="0.2" y="11.4" font-size="16.2" text-anchor="start" font-weight="bold" fill="#000">a</text>
<text x="362.2" y="11.4" font-size="16.2" text-anchor="start" font-weight="bold" fill="#000">b</text>
<text x="0.4" y="184.7" font-size="16.2" text-anchor="start" font-weight="bold" fill="#000">c</text>
<text x="361.8" y="184.7" font-size="16.2" text-anchor="start" font-weight="bold" fill="#000">d</text>
<text x="0.2" y="359.3" font-size="16.2" text-anchor="start" font-weight="bold" fill="#000">e</text>
<text x="361.0" y="359.3" font-size="16.2" text-anchor="start" font-weight="bold" fill="#000">f</text>
<text x="111.0" y="540.6" font-size="16.2" text-anchor="start" font-weight="bold" fill="#000">g</text>
<polygon points="183.0,124.2 183.0,135.9 166.6,130.05" fill="#1c3868"/>
<polygon points="521.0,124.2 521.0,135.9 537.2,130.05" fill="#6c0c23"/>
<rect x="183.00" y="124.2" width="37.86" height="11.7" fill="#2c5a98"/>
<rect x="220.56" y="124.2" width="37.86" height="11.7" fill="#5094c4"/>
<rect x="258.11" y="124.2" width="37.86" height="11.7" fill="#9fcbe0"/>
<rect x="295.67" y="124.2" width="37.86" height="11.7" fill="#dbeaf3"/>
<rect x="333.22" y="124.2" width="37.86" height="11.7" fill="#f6f6f6"/>
<rect x="370.78" y="124.2" width="37.86" height="11.7" fill="#f6e0d3"/>
<rect x="408.33" y="124.2" width="37.86" height="11.7" fill="#eba587"/>
<rect x="445.89" y="124.2" width="37.86" height="11.7" fill="#d0544d"/>
<rect x="483.44" y="124.2" width="37.86" height="11.7" fill="#98182b"/>
<polygon points="183.0,124.2 521.0,124.2 537.2,130.05 521.0,135.9 183.0,135.9 166.6,130.05" fill="none" stroke="#333" stroke-width="0.8"/>
<line x1="183.00" y1="135.9" x2="183.00" y2="138.1" stroke="#333" stroke-width="0.8"/>
<text x="183.0" y="148.5" font-size="10.4" text-anchor="middle" textLength="23.3" lengthAdjust="spacingAndGlyphs" fill="#000">−4.0</text>
<line x1="220.56" y1="135.9" x2="220.56" y2="138.1" stroke="#333" stroke-width="0.8"/>
<text x="220.6" y="148.5" font-size="10.4" text-anchor="middle" textLength="23.3" lengthAdjust="spacingAndGlyphs" fill="#000">−3.0</text>
<line x1="258.11" y1="135.9" x2="258.11" y2="138.1" stroke="#333" stroke-width="0.8"/>
<text x="258.1" y="148.5" font-size="10.4" text-anchor="middle" textLength="23.3" lengthAdjust="spacingAndGlyphs" fill="#000">−2.0</text>
<line x1="295.67" y1="135.9" x2="295.67" y2="138.1" stroke="#333" stroke-width="0.8"/>
<text x="295.7" y="148.5" font-size="10.4" text-anchor="middle" textLength="23.3" lengthAdjust="spacingAndGlyphs" fill="#000">−1.0</text>
<line x1="333.22" y1="135.9" x2="333.22" y2="138.1" stroke="#333" stroke-width="0.8"/>
<text x="333.2" y="148.5" font-size="10.4" text-anchor="middle" textLength="23.3" lengthAdjust="spacingAndGlyphs" fill="#000">−0.2</text>
<line x1="370.78" y1="135.9" x2="370.78" y2="138.1" stroke="#333" stroke-width="0.8"/>
<text x="370.8" y="148.5" font-size="10.4" text-anchor="middle" textLength="14.3" lengthAdjust="spacingAndGlyphs" fill="#000">0.2</text>
<line x1="408.33" y1="135.9" x2="408.33" y2="138.1" stroke="#333" stroke-width="0.8"/>
<text x="408.3" y="148.5" font-size="10.4" text-anchor="middle" textLength="14.3" lengthAdjust="spacingAndGlyphs" fill="#000">1.0</text>
<line x1="445.89" y1="135.9" x2="445.89" y2="138.1" stroke="#333" stroke-width="0.8"/>
<text x="445.9" y="148.5" font-size="10.4" text-anchor="middle" textLength="14.3" lengthAdjust="spacingAndGlyphs" fill="#000">2.0</text>
<line x1="483.44" y1="135.9" x2="483.44" y2="138.1" stroke="#333" stroke-width="0.8"/>
<text x="483.4" y="148.5" font-size="10.4" text-anchor="middle" textLength="14.3" lengthAdjust="spacingAndGlyphs" fill="#000">3.0</text>
<line x1="521.00" y1="135.9" x2="521.00" y2="138.1" stroke="#333" stroke-width="0.8"/>
<text x="521.0" y="148.5" font-size="10.4" text-anchor="middle" textLength="14.3" lengthAdjust="spacingAndGlyphs" fill="#000">4.0</text>
<text x="352.0" y="160.7" font-size="10.8" text-anchor="middle" textLength="99.7" lengthAdjust="spacingAndGlyphs" fill="#000">Wind anomaly [m/s]</text>
<polygon points="183.0,298.1 183.0,309.8 166.6,303.95000000000005" fill="#1c3868"/>
<polygon points="521.0,298.1 521.0,309.8 537.2,303.95000000000005" fill="#6c0c23"/>
<rect x="183.00" y="298.1" width="37.86" height="11.7" fill="#2c5a98"/>
<rect x="220.56" y="298.1" width="37.86" height="11.7" fill="#5094c4"/>
<rect x="258.11" y="298.1" width="37.86" height="11.7" fill="#9fcbe0"/>
<rect x="295.67" y="298.1" width="37.86" height="11.7" fill="#dbeaf3"/>
<rect x="333.22" y="298.1" width="37.86" height="11.7" fill="#f6f6f6"/>
<rect x="370.78" y="298.1" width="37.86" height="11.7" fill="#f6e0d3"/>
<rect x="408.33" y="298.1" width="37.86" height="11.7" fill="#eba587"/>
<rect x="445.89" y="298.1" width="37.86" height="11.7" fill="#d0544d"/>
<rect x="483.44" y="298.1" width="37.86" height="11.7" fill="#98182b"/>
<polygon points="183.0,298.1 521.0,298.1 537.2,303.95000000000005 521.0,309.8 183.0,309.8 166.6,303.95000000000005" fill="none" stroke="#333" stroke-width="0.8"/>
<line x1="183.00" y1="309.8" x2="183.00" y2="312.0" stroke="#333" stroke-width="0.8"/>
<text x="183.0" y="322.4" font-size="10.4" text-anchor="middle" textLength="23.3" lengthAdjust="spacingAndGlyphs" fill="#000">−4.0</text>
<line x1="220.56" y1="309.8" x2="220.56" y2="312.0" stroke="#333" stroke-width="0.8"/>
<text x="220.6" y="322.4" font-size="10.4" text-anchor="middle" textLength="23.3" lengthAdjust="spacingAndGlyphs" fill="#000">−3.0</text>
<line x1="258.11" y1="309.8" x2="258.11" y2="312.0" stroke="#333" stroke-width="0.8"/>
<text x="258.1" y="322.4" font-size="10.4" text-anchor="middle" textLength="23.3" lengthAdjust="spacingAndGlyphs" fill="#000">−2.0</text>
<line x1="295.67" y1="309.8" x2="295.67" y2="312.0" stroke="#333" stroke-width="0.8"/>
<text x="295.7" y="322.4" font-size="10.4" text-anchor="middle" textLength="23.3" lengthAdjust="spacingAndGlyphs" fill="#000">−1.0</text>
<line x1="333.22" y1="309.8" x2="333.22" y2="312.0" stroke="#333" stroke-width="0.8"/>
<text x="333.2" y="322.4" font-size="10.4" text-anchor="middle" textLength="23.3" lengthAdjust="spacingAndGlyphs" fill="#000">−0.2</text>
<line x1="370.78" y1="309.8" x2="370.78" y2="312.0" stroke="#333" stroke-width="0.8"/>
<text x="370.8" y="322.4" font-size="10.4" text-anchor="middle" textLength="14.3" lengthAdjust="spacingAndGlyphs" fill="#000">0.2</text>
<line x1="408.33" y1="309.8" x2="408.33" y2="312.0" stroke="#333" stroke-width="0.8"/>
<text x="408.3" y="322.4" font-size="10.4" text-anchor="middle" textLength="14.3" lengthAdjust="spacingAndGlyphs" fill="#000">1.0</text>
<line x1="445.89" y1="309.8" x2="445.89" y2="312.0" stroke="#333" stroke-width="0.8"/>
<text x="445.9" y="322.4" font-size="10.4" text-anchor="middle" textLength="14.3" lengthAdjust="spacingAndGlyphs" fill="#000">2.0</text>
<line x1="483.44" y1="309.8" x2="483.44" y2="312.0" stroke="#333" stroke-width="0.8"/>
<text x="483.4" y="322.4" font-size="10.4" text-anchor="middle" textLength="14.3" lengthAdjust="spacingAndGlyphs" fill="#000">3.0</text>
<line x1="521.00" y1="309.8" x2="521.00" y2="312.0" stroke="#333" stroke-width="0.8"/>
<text x="521.0" y="322.4" font-size="10.4" text-anchor="middle" textLength="14.3" lengthAdjust="spacingAndGlyphs" fill="#000">4.0</text>
<text x="352.0" y="334.6" font-size="10.8" text-anchor="middle" textLength="182.1" lengthAdjust="spacingAndGlyphs" fill="#000">Empirical Orthogonal Function (EOF)</text>
<polygon points="183.0,472.2 183.0,483.9 166.6,478.05" fill="#1c3868"/>
<polygon points="521.0,472.2 521.0,483.9 537.2,478.05" fill="#6c0c23"/>
<rect x="183.00" y="472.2" width="37.86" height="11.7" fill="#2c5a98"/>
<rect x="220.56" y="472.2" width="37.86" height="11.7" fill="#5094c4"/>
<rect x="258.11" y="472.2" width="37.86" height="11.7" fill="#9fcbe0"/>
<rect x="295.67" y="472.2" width="37.86" height="11.7" fill="#dbeaf3"/>
<rect x="333.22" y="472.2" width="37.86" height="11.7" fill="#f6f6f6"/>
<rect x="370.78" y="472.2" width="37.86" height="11.7" fill="#f6e0d3"/>
<rect x="408.33" y="472.2" width="37.86" height="11.7" fill="#eba587"/>
<rect x="445.89" y="472.2" width="37.86" height="11.7" fill="#d0544d"/>
<rect x="483.44" y="472.2" width="37.86" height="11.7" fill="#98182b"/>
<polygon points="183.0,472.2 521.0,472.2 537.2,478.05 521.0,483.9 183.0,483.9 166.6,478.05" fill="none" stroke="#333" stroke-width="0.8"/>
<line x1="183.00" y1="483.9" x2="183.00" y2="486.09999999999997" stroke="#333" stroke-width="0.8"/>
<text x="183.0" y="496.5" font-size="10.4" text-anchor="middle" textLength="23.3" lengthAdjust="spacingAndGlyphs" fill="#000">−4.0</text>
<line x1="220.56" y1="483.9" x2="220.56" y2="486.09999999999997" stroke="#333" stroke-width="0.8"/>
<text x="220.6" y="496.5" font-size="10.4" text-anchor="middle" textLength="23.3" lengthAdjust="spacingAndGlyphs" fill="#000">−3.0</text>
<line x1="258.11" y1="483.9" x2="258.11" y2="486.09999999999997" stroke="#333" stroke-width="0.8"/>
<text x="258.1" y="496.5" font-size="10.4" text-anchor="middle" textLength="23.3" lengthAdjust="spacingAndGlyphs" fill="#000">−2.0</text>
<line x1="295.67" y1="483.9" x2="295.67" y2="486.09999999999997" stroke="#333" stroke-width="0.8"/>
<text x="295.7" y="496.5" font-size="10.4" text-anchor="middle" textLength="23.3" lengthAdjust="spacingAndGlyphs" fill="#000">−1.0</text>
<line x1="333.22" y1="483.9" x2="333.22" y2="486.09999999999997" stroke="#333" stroke-width="0.8"/>
<text x="333.2" y="496.5" font-size="10.4" text-anchor="middle" textLength="23.3" lengthAdjust="spacingAndGlyphs" fill="#000">−0.2</text>
<line x1="370.78" y1="483.9" x2="370.78" y2="486.09999999999997" stroke="#333" stroke-width="0.8"/>
<text x="370.8" y="496.5" font-size="10.4" text-anchor="middle" textLength="14.3" lengthAdjust="spacingAndGlyphs" fill="#000">0.2</text>
<line x1="408.33" y1="483.9" x2="408.33" y2="486.09999999999997" stroke="#333" stroke-width="0.8"/>
<text x="408.3" y="496.5" font-size="10.4" text-anchor="middle" textLength="14.3" lengthAdjust="spacingAndGlyphs" fill="#000">1.0</text>
<line x1="445.89" y1="483.9" x2="445.89" y2="486.09999999999997" stroke="#333" stroke-width="0.8"/>
<text x="445.9" y="496.5" font-size="10.4" text-anchor="middle" textLength="14.3" lengthAdjust="spacingAndGlyphs" fill="#000">2.0</text>
<line x1="483.44" y1="483.9" x2="483.44" y2="486.09999999999997" stroke="#333" stroke-width="0.8"/>
<text x="483.4" y="496.5" font-size="10.4" text-anchor="middle" textLength="14.3" lengthAdjust="spacingAndGlyphs" fill="#000">3.0</text>
<line x1="521.00" y1="483.9" x2="521.00" y2="486.09999999999997" stroke="#333" stroke-width="0.8"/>
<text x="521.0" y="496.5" font-size="10.4" text-anchor="middle" textLength="14.3" lengthAdjust="spacingAndGlyphs" fill="#000">4.0</text>
<text x="352.0" y="508.7" font-size="10.8" text-anchor="middle" textLength="99.7" lengthAdjust="spacingAndGlyphs" fill="#000">Wind anomaly [m/s]</text>
<path d="M364.5 686.1h3.2v3.2h-3.2zM308.1 694.1h3.2v3.2h-3.2zM298.5 700.3h3.2v3.2h-3.2zM408.3 685.3h3.2v3.2h-3.2zM312.3 702.0h3.2v3.2h-3.2zM382.0 669.2h3.2v3.2h-3.2zM318.3 680.9h3.2v3.2h-3.2zM379.5 687.6h3.2v3.2h-3.2zM292.5 731.7h3.2v3.2h-3.2zM241.8 750.0h3.2v3.2h-3.2zM286.1 749.2h3.2v3.2h-3.2zM324.2 730.0h3.2v3.2h-3.2zM349.8 680.1h3.2v3.2h-3.2zM253.0 772.2h3.2v3.2h-3.2zM355.5 687.6h3.2v3.2h-3.2zM285.9 738.1h3.2v3.2h-3.2zM289.6 718.6h3.2v3.2h-3.2zM352.7 648.0h3.2v3.2h-3.2zM387.1 688.0h3.2v3.2h-3.2zM329.9 705.8h3.2v3.2h-3.2zM358.4 682.0h3.2v3.2h-3.2zM317.7 728.3h3.2v3.2h-3.2zM332.2 636.7h3.2v3.2h-3.2zM383.8 656.1h3.2v3.2h-3.2zM413.2 710.5h3.2v3.2h-3.2zM327.7 657.8h3.2v3.2h-3.2zM378.0 683.9h3.2v3.2h-3.2zM374.1 693.1h3.2v3.2h-3.2zM377.3 688.9h3.2v3.2h-3.2zM369.7 635.1h3.2v3.2h-3.2zM340.1 678.1h3.2v3.2h-3.2zM308.6 679.9h3.2v3.2h-3.2zM326.7 705.6h3.2v3.2h-3.2zM426.4 656.1h3.2v3.2h-3.2zM279.6 730.6h3.2v3.2h-3.2zM292.2 660.8h3.2v3.2h-3.2zM334.2 701.7h3.2v3.2h-3.2zM419.1 643.1h3.2v3.2h-3.2zM327.5 696.6h3.2v3.2h-3.2zM406.1 696.3h3.2v3.2h-3.2zM327.0 700.2h3.2v3.2h-3.2zM358.5 673.4h3.2v3.2h-3.2zM301.5 691.2h3.2v3.2h-3.2zM334.2 685.6h3.2v3.2h-3.2zM414.8 646.2h3.2v3.2h-3.2zM378.6 687.4h3.2v3.2h-3.2zM384.3 698.8h3.2v3.2h-3.2zM375.8 686.7h3.2v3.2h-3.2zM326.5 730.9h3.2v3.2h-3.2zM218.3 741.7h3.2v3.2h-3.2zM306.8 695.2h3.2v3.2h-3.2zM447.9 682.9h3.2v3.2h-3.2zM301.6 713.8h3.2v3.2h-3.2zM378.7 679.2h3.2v3.2h-3.2zM338.7 691.6h3.2v3.2h-3.2zM395.1 662.1h3.2v3.2h-3.2zM317.3 721.4h3.2v3.2h-3.2zM311.1 683.2h3.2v3.2h-3.2zM326.0 675.7h3.2v3.2h-3.2zM390.3 652.3h3.2v3.2h-3.2zM331.4 681.9h3.2v3.2h-3.2zM268.4 687.4h3.2v3.2h-3.2zM332.1 725.4h3.2v3.2h-3.2zM320.7 760.5h3.2v3.2h-3.2zM328.9 747.2h3.2v3.2h-3.2zM357.7 716.0h3.2v3.2h-3.2zM294.6 679.3h3.2v3.2h-3.2zM449.1 644.3h3.2v3.2h-3.2zM339.4 687.7h3.2v3.2h-3.2zM308.3 690.1h3.2v3.2h-3.2zM364.6 647.0h3.2v3.2h-3.2zM318.9 686.5h3.2v3.2h-3.2zM281.7 705.8h3.2v3.2h-3.2zM385.1 642.0h3.2v3.2h-3.2zM382.9 652.3h3.2v3.2h-3.2zM317.8 709.4h3.2v3.2h-3.2zM335.5 705.2h3.2v3.2h-3.2zM328.8 698.4h3.2v3.2h-3.2zM277.4 732.5h3.2v3.2h-3.2zM376.6 627.6h3.2v3.2h-3.2zM333.5 722.7h3.2v3.2h-3.2zM337.4 635.2h3.2v3.2h-3.2zM320.6 692.2h3.2v3.2h-3.2zM327.6 747.7h3.2v3.2h-3.2zM354.6 686.6h3.2v3.2h-3.2zM347.5 712.4h3.2v3.2h-3.2zM330.0 704.2h3.2v3.2h-3.2zM269.2 722.6h3.2v3.2h-3.2zM373.3 638.9h3.2v3.2h-3.2zM360.1 675.6h3.2v3.2h-3.2zM318.4 700.4h3.2v3.2h-3.2zM359.8 663.5h3.2v3.2h-3.2zM348.7 691.0h3.2v3.2h-3.2zM416.2 645.8h3.2v3.2h-3.2zM341.6 671.8h3.2v3.2h-3.2zM348.0 734.8h3.2v3.2h-3.2zM376.7 652.1h3.2v3.2h-3.2zM400.7 668.0h3.2v3.2h-3.2zM415.3 658.1h3.2v3.2h-3.2zM399.4 703.4h3.2v3.2h-3.2zM348.6 730.0h3.2v3.2h-3.2zM402.9 669.7h3.2v3.2h-3.2zM470.3 622.5h3.2v3.2h-3.2zM249.1 723.3h3.2v3.2h-3.2zM336.8 656.2h3.2v3.2h-3.2zM385.9 687.2h3.2v3.2h-3.2zM216.7 740.0h3.2v3.2h-3.2zM362.3 676.8h3.2v3.2h-3.2zM346.4 694.3h3.2v3.2h-3.2zM264.9 713.7h3.2v3.2h-3.2zM308.2 690.3h3.2v3.2h-3.2zM322.0 743.3h3.2v3.2h-3.2zM366.9 688.4h3.2v3.2h-3.2zM295.4 719.2h3.2v3.2h-3.2zM285.9 719.2h3.2v3.2h-3.2zM327.0 678.0h3.2v3.2h-3.2zM377.1 673.8h3.2v3.2h-3.2zM359.0 613.9h3.2v3.2h-3.2zM376.3 654.9h3.2v3.2h-3.2zM293.7 684.4h3.2v3.2h-3.2zM368.2 702.6h3.2v3.2h-3.2zM353.2 688.7h3.2v3.2h-3.2zM390.0 697.3h3.2v3.2h-3.2zM263.2 683.7h3.2v3.2h-3.2zM251.8 707.3h3.2v3.2h-3.2zM395.6 639.6h3.2v3.2h-3.2zM278.3 725.2h3.2v3.2h-3.2zM393.8 646.8h3.2v3.2h-3.2zM351.8 684.0h3.2v3.2h-3.2zM386.1 685.4h3.2v3.2h-3.2zM378.2 666.9h3.2v3.2h-3.2zM340.8 722.5h3.2v3.2h-3.2zM375.3 710.8h3.2v3.2h-3.2zM307.6 729.6h3.2v3.2h-3.2zM298.9 684.3h3.2v3.2h-3.2zM464.5 627.9h3.2v3.2h-3.2zM369.2 702.8h3.2v3.2h-3.2zM258.9 669.4h3.2v3.2h-3.2zM357.7 677.0h3.2v3.2h-3.2zM311.7 681.5h3.2v3.2h-3.2zM337.0 694.9h3.2v3.2h-3.2zM402.7 645.0h3.2v3.2h-3.2zM413.8 687.9h3.2v3.2h-3.2zM319.6 704.5h3.2v3.2h-3.2zM359.5 750.6h3.2v3.2h-3.2zM419.2 653.5h3.2v3.2h-3.2zM377.6 662.7h3.2v3.2h-3.2zM349.0 678.0h3.2v3.2h-3.2zM348.4 692.9h3.2v3.2h-3.2zM421.6 634.1h3.2v3.2h-3.2zM327.3 687.0h3.2v3.2h-3.2zM397.4 709.7h3.2v3.2h-3.2zM370.8 668.3h3.2v3.2h-3.2zM297.1 696.3h3.2v3.2h-3.2zM385.6 689.2h3.2v3.2h-3.2zM331.2 699.1h3.2v3.2h-3.2zM350.0 693.5h3.2v3.2h-3.2zM293.7 740.6h3.2v3.2h-3.2zM361.7 716.4h3.2v3.2h-3.2zM351.9 713.2h3.2v3.2h-3.2zM387.0 632.6h3.2v3.2h-3.2zM341.6 706.8h3.2v3.2h-3.2zM312.4 684.6h3.2v3.2h-3.2zM447.9 672.3h3.2v3.2h-3.2zM336.3 694.4h3.2v3.2h-3.2zM333.0 722.3h3.2v3.2h-3.2zM269.3 727.6h3.2v3.2h-3.2zM355.6 640.3h3.2v3.2h-3.2zM447.3 650.2h3.2v3.2h-3.2zM382.8 677.5h3.2v3.2h-3.2zM404.9 617.9h3.2v3.2h-3.2zM279.6 704.6h3.2v3.2h-3.2zM413.3 686.2h3.2v3.2h-3.2zM344.2 651.3h3.2v3.2h-3.2zM305.7 714.7h3.2v3.2h-3.2zM353.2 675.4h3.2v3.2h-3.2zM371.0 678.7h3.2v3.2h-3.2zM341.6 696.0h3.2v3.2h-3.2zM355.5 678.5h3.2v3.2h-3.2zM443.3 670.6h3.2v3.2h-3.2zM373.0 665.3h3.2v3.2h-3.2zM316.0 744.6h3.2v3.2h-3.2zM235.6 751.4h3.2v3.2h-3.2zM407.3 657.0h3.2v3.2h-3.2zM279.0 688.8h3.2v3.2h-3.2zM313.7 697.8h3.2v3.2h-3.2zM463.0 666.5h3.2v3.2h-3.2zM327.8 677.3h3.2v3.2h-3.2zM314.0 726.2h3.2v3.2h-3.2zM300.6 690.4h3.2v3.2h-3.2zM309.7 680.3h3.2v3.2h-3.2zM429.6 648.6h3.2v3.2h-3.2zM366.9 647.6h3.2v3.2h-3.2zM363.0 667.8h3.2v3.2h-3.2zM326.8 698.8h3.2v3.2h-3.2zM254.2 729.0h3.2v3.2h-3.2zM369.3 658.0h3.2v3.2h-3.2zM399.5 679.5h3.2v3.2h-3.2zM267.3 744.8h3.2v3.2h-3.2zM373.7 680.2h3.2v3.2h-3.2zM382.2 700.1h3.2v3.2h-3.2zM310.1 676.9h3.2v3.2h-3.2zM356.1 719.0h3.2v3.2h-3.2zM290.3 667.3h3.2v3.2h-3.2zM418.2 639.8h3.2v3.2h-3.2zM378.5 638.7h3.2v3.2h-3.2zM298.0 694.6h3.2v3.2h-3.2zM423.8 597.7h3.2v3.2h-3.2zM375.5 630.0h3.2v3.2h-3.2zM290.2 678.0h3.2v3.2h-3.2zM380.2 700.2h3.2v3.2h-3.2zM356.9 730.4h3.2v3.2h-3.2zM320.9 672.8h3.2v3.2h-3.2zM318.5 702.5h3.2v3.2h-3.2zM329.3 686.8h3.2v3.2h-3.2zM314.6 714.0h3.2v3.2h-3.2zM268.8 719.7h3.2v3.2h-3.2zM386.5 688.5h3.2v3.2h-3.2zM305.3 738.7h3.2v3.2h-3.2zM293.0 707.0h3.2v3.2h-3.2zM358.0 655.5h3.2v3.2h-3.2zM367.4 632.9h3.2v3.2h-3.2zM355.3 672.1h3.2v3.2h-3.2zM352.8 712.6h3.2v3.2h-3.2zM372.0 691.9h3.2v3.2h-3.2zM307.3 686.0h3.2v3.2h-3.2zM351.4 689.3h3.2v3.2h-3.2zM345.6 651.4h3.2v3.2h-3.2zM281.9 685.0h3.2v3.2h-3.2zM329.1 661.8h3.2v3.2h-3.2zM294.2 748.2h3.2v3.2h-3.2zM325.3 645.5h3.2v3.2h-3.2zM288.9 722.5h3.2v3.2h-3.2zM332.8 725.3h3.2v3.2h-3.2zM298.5 712.8h3.2v3.2h-3.2zM340.1 664.6h3.2v3.2h-3.2zM326.7 669.5h3.2v3.2h-3.2zM241.1 725.4h3.2v3.2h-3.2zM397.1 620.9h3.2v3.2h-3.2zM358.8 677.3h3.2v3.2h-3.2zM359.4 680.3h3.2v3.2h-3.2zM369.6 618.4h3.2v3.2h-3.2zM263.6 738.4h3.2v3.2h-3.2zM341.3 732.9h3.2v3.2h-3.2zM339.1 656.1h3.2v3.2h-3.2zM295.2 733.5h3.2v3.2h-3.2zM281.9 634.0h3.2v3.2h-3.2zM325.4 666.2h3.2v3.2h-3.2zM341.2 648.4h3.2v3.2h-3.2zM283.0 693.7h3.2v3.2h-3.2zM378.0 721.3h3.2v3.2h-3.2zM361.7 656.8h3.2v3.2h-3.2zM249.3 713.5h3.2v3.2h-3.2zM339.0 699.3h3.2v3.2h-3.2zM346.1 688.5h3.2v3.2h-3.2zM315.1 724.5h3.2v3.2h-3.2zM403.2 688.7h3.2v3.2h-3.2zM404.7 620.9h3.2v3.2h-3.2zM326.2 712.2h3.2v3.2h-3.2zM303.8 705.9h3.2v3.2h-3.2zM308.6 686.5h3.2v3.2h-3.2zM367.0 664.6h3.2v3.2h-3.2zM352.8 676.9h3.2v3.2h-3.2zM291.8 709.7h3.2v3.2h-3.2zM323.0 693.3h3.2v3.2h-3.2zM359.5 677.6h3.2v3.2h-3.2zM313.0 733.0h3.2v3.2h-3.2zM286.1 731.5h3.2v3.2h-3.2zM259.8 693.3h3.2v3.2h-3.2zM361.4 682.8h3.2v3.2h-3.2zM330.5 690.7h3.2v3.2h-3.2zM301.6 697.5h3.2v3.2h-3.2zM321.9 694.4h3.2v3.2h-3.2zM306.8 681.1h3.2v3.2h-3.2zM365.5 677.8h3.2v3.2h-3.2zM330.4 690.1h3.2v3.2h-3.2zM302.5 664.5h3.2v3.2h-3.2zM376.5 670.1h3.2v3.2h-3.2zM376.7 676.4h3.2v3.2h-3.2zM321.8 708.1h3.2v3.2h-3.2zM389.5 664.2h3.2v3.2h-3.2zM297.9 676.7h3.2v3.2h-3.2zM416.2 668.6h3.2v3.2h-3.2zM393.1 651.1h3.2v3.2h-3.2zM342.3 740.9h3.2v3.2h-3.2zM245.9 687.7h3.2v3.2h-3.2zM304.0 670.8h3.2v3.2h-3.2zM286.8 729.9h3.2v3.2h-3.2zM376.9 641.2h3.2v3.2h-3.2zM431.2 678.5h3.2v3.2h-3.2zM397.6 630.4h3.2v3.2h-3.2zM294.2 692.5h3.2v3.2h-3.2zM348.1 710.3h3.2v3.2h-3.2zM369.1 672.2h3.2v3.2h-3.2zM352.1 650.3h3.2v3.2h-3.2zM380.2 688.6h3.2v3.2h-3.2zM413.6 666.9h3.2v3.2h-3.2zM352.3 671.6h3.2v3.2h-3.2zM323.3 671.9h3.2v3.2h-3.2zM325.2 743.3h3.2v3.2h-3.2zM363.2 688.0h3.2v3.2h-3.2zM285.3 744.1h3.2v3.2h-3.2zM299.1 705.4h3.2v3.2h-3.2zM269.3 763.4h3.2v3.2h-3.2zM395.5 655.1h3.2v3.2h-3.2zM333.3 706.5h3.2v3.2h-3.2zM264.7 656.1h3.2v3.2h-3.2zM370.5 690.7h3.2v3.2h-3.2zM442.0 664.2h3.2v3.2h-3.2zM400.1 646.8h3.2v3.2h-3.2zM393.5 676.3h3.2v3.2h-3.2zM334.2 704.4h3.2v3.2h-3.2zM459.3 656.8h3.2v3.2h-3.2zM345.6 691.2h3.2v3.2h-3.2zM412.7 680.6h3.2v3.2h-3.2zM410.7 688.6h3.2v3.2h-3.2zM315.1 719.0h3.2v3.2h-3.2zM378.0 693.6h3.2v3.2h-3.2zM324.0 647.7h3.2v3.2h-3.2zM337.7 717.9h3.2v3.2h-3.2zM270.8 706.7h3.2v3.2h-3.2zM404.5 650.4h3.2v3.2h-3.2zM348.6 668.1h3.2v3.2h-3.2zM374.6 649.8h3.2v3.2h-3.2zM349.7 646.6h3.2v3.2h-3.2zM334.3 715.6h3.2v3.2h-3.2zM357.9 710.9h3.2v3.2h-3.2zM323.3 675.6h3.2v3.2h-3.2zM340.6 682.8h3.2v3.2h-3.2zM355.3 653.2h3.2v3.2h-3.2zM387.6 702.5h3.2v3.2h-3.2zM502.1 610.7h3.2v3.2h-3.2zM363.2 683.8h3.2v3.2h-3.2zM394.9 632.5h3.2v3.2h-3.2zM327.0 719.7h3.2v3.2h-3.2zM333.0 669.1h3.2v3.2h-3.2zM243.7 741.0h3.2v3.2h-3.2zM342.5 661.8h3.2v3.2h-3.2zM356.6 690.9h3.2v3.2h-3.2zM358.1 663.9h3.2v3.2h-3.2zM332.0 667.4h3.2v3.2h-3.2zM300.0 697.0h3.2v3.2h-3.2zM386.4 646.5h3.2v3.2h-3.2zM315.4 710.9h3.2v3.2h-3.2zM373.8 694.3h3.2v3.2h-3.2zM261.4 739.7h3.2v3.2h-3.2zM442.7 702.0h3.2v3.2h-3.2zM377.5 652.5h3.2v3.2h-3.2zM457.3 663.7h3.2v3.2h-3.2zM330.5 693.4h3.2v3.2h-3.2zM409.8 644.4h3.2v3.2h-3.2zM352.8 661.9h3.2v3.2h-3.2zM480.8 621.2h3.2v3.2h-3.2zM397.5 667.0h3.2v3.2h-3.2zM315.5 756.8h3.2v3.2h-3.2zM363.9 693.0h3.2v3.2h-3.2zM359.8 661.7h3.2v3.2h-3.2zM315.0 744.8h3.2v3.2h-3.2zM316.2 711.0h3.2v3.2h-3.2zM320.0 706.3h3.2v3.2h-3.2zM330.1 767.3h3.2v3.2h-3.2zM405.0 678.4h3.2v3.2h-3.2zM414.6 617.2h3.2v3.2h-3.2zM260.8 747.1h3.2v3.2h-3.2zM294.9 726.9h3.2v3.2h-3.2zM274.3 680.5h3.2v3.2h-3.2zM302.2 672.0h3.2v3.2h-3.2zM357.2 675.3h3.2v3.2h-3.2zM339.8 696.5h3.2v3.2h-3.2zM311.1 703.7h3.2v3.2h-3.2zM299.2 744.0h3.2v3.2h-3.2zM489.2 624.3h3.2v3.2h-3.2zM421.7 640.8h3.2v3.2h-3.2zM389.6 711.0h3.2v3.2h-3.2zM348.0 687.6h3.2v3.2h-3.2zM347.2 695.9h3.2v3.2h-3.2zM335.6 700.7h3.2v3.2h-3.2zM303.9 722.8h3.2v3.2h-3.2zM420.2 606.7h3.2v3.2h-3.2zM366.5 694.7h3.2v3.2h-3.2zM329.5 659.8h3.2v3.2h-3.2zM383.0 694.1h3.2v3.2h-3.2zM365.7 676.6h3.2v3.2h-3.2zM373.2 631.1h3.2v3.2h-3.2zM334.1 682.2h3.2v3.2h-3.2zM319.9 631.7h3.2v3.2h-3.2zM310.4 708.3h3.2v3.2h-3.2zM397.4 663.5h3.2v3.2h-3.2zM332.2 635.5h3.2v3.2h-3.2zM363.9 659.4h3.2v3.2h-3.2zM353.6 709.5h3.2v3.2h-3.2zM240.4 715.0h3.2v3.2h-3.2zM280.7 696.7h3.2v3.2h-3.2zM347.4 708.7h3.2v3.2h-3.2zM426.0 676.9h3.2v3.2h-3.2zM284.6 690.7h3.2v3.2h-3.2zM292.1 710.8h3.2v3.2h-3.2zM332.3 728.5h3.2v3.2h-3.2zM252.9 705.6h3.2v3.2h-3.2zM369.5 661.5h3.2v3.2h-3.2zM367.7 673.5h3.2v3.2h-3.2zM373.5 663.9h3.2v3.2h-3.2zM407.8 643.5h3.2v3.2h-3.2zM381.1 672.7h3.2v3.2h-3.2zM300.8 736.0h3.2v3.2h-3.2zM352.8 695.0h3.2v3.2h-3.2zM376.2 734.9h3.2v3.2h-3.2zM306.9 680.6h3.2v3.2h-3.2zM288.3 744.6h3.2v3.2h-3.2zM320.8 688.0h3.2v3.2h-3.2zM329.5 681.8h3.2v3.2h-3.2zM340.3 665.7h3.2v3.2h-3.2zM390.7 688.3h3.2v3.2h-3.2zM391.4 595.4h3.2v3.2h-3.2zM304.3 700.8h3.2v3.2h-3.2zM330.5 657.1h3.2v3.2h-3.2zM336.3 702.5h3.2v3.2h-3.2zM283.7 718.4h3.2v3.2h-3.2zM253.2 699.6h3.2v3.2h-3.2zM291.1 735.3h3.2v3.2h-3.2zM349.6 680.4h3.2v3.2h-3.2zM278.9 746.6h3.2v3.2h-3.2zM399.5 658.8h3.2v3.2h-3.2zM314.3 687.4h3.2v3.2h-3.2zM348.7 663.2h3.2v3.2h-3.2zM284.0 725.2h3.2v3.2h-3.2zM406.1 635.9h3.2v3.2h-3.2zM369.0 645.0h3.2v3.2h-3.2zM357.2 652.5h3.2v3.2h-3.2zM447.7 694.3h3.2v3.2h-3.2zM356.0 658.5h3.2v3.2h-3.2zM363.0 689.1h3.2v3.2h-3.2zM370.2 643.2h3.2v3.2h-3.2zM287.4 745.7h3.2v3.2h-3.2zM357.3 685.4h3.2v3.2h-3.2zM405.9 640.5h3.2v3.2h-3.2zM333.3 656.2h3.2v3.2h-3.2zM463.7 658.3h3.2v3.2h-3.2zM386.6 659.3h3.2v3.2h-3.2zM429.2 682.6h3.2v3.2h-3.2zM319.3 717.7h3.2v3.2h-3.2zM396.6 670.7h3.2v3.2h-3.2zM351.3 701.3h3.2v3.2h-3.2zM348.7 695.5h3.2v3.2h-3.2zM302.4 688.9h3.2v3.2h-3.2zM387.1 687.6h3.2v3.2h-3.2zM312.9 718.9h3.2v3.2h-3.2zM329.9 661.4h3.2v3.2h-3.2zM315.4 678.1h3.2v3.2h-3.2zM480.7 649.3h3.2v3.2h-3.2zM406.2 615.4h3.2v3.2h-3.2zM380.2 660.3h3.2v3.2h-3.2zM417.9 684.1h3.2v3.2h-3.2zM354.2 732.8h3.2v3.2h-3.2zM407.7 689.2h3.2v3.2h-3.2zM331.2 678.4h3.2v3.2h-3.2zM390.7 677.1h3.2v3.2h-3.2zM373.2 685.1h3.2v3.2h-3.2zM250.4 701.1h3.2v3.2h-3.2zM408.4 655.4h3.2v3.2h-3.2zM359.8 680.7h3.2v3.2h-3.2zM366.1 649.3h3.2v3.2h-3.2zM323.0 710.0h3.2v3.2h-3.2zM333.4 642.8h3.2v3.2h-3.2zM363.6 643.7h3.2v3.2h-3.2zM369.2 725.4h3.2v3.2h-3.2zM297.1 687.5h3.2v3.2h-3.2zM378.9 699.3h3.2v3.2h-3.2zM372.1 643.9h3.2v3.2h-3.2zM393.8 672.6h3.2v3.2h-3.2zM346.8 708.5h3.2v3.2h-3.2zM329.9 686.2h3.2v3.2h-3.2zM339.9 702.9h3.2v3.2h-3.2zM330.6 684.0h3.2v3.2h-3.2zM384.1 701.9h3.2v3.2h-3.2zM394.7 679.4h3.2v3.2h-3.2zM413.3 644.9h3.2v3.2h-3.2zM389.4 606.1h3.2v3.2h-3.2zM364.6 657.3h3.2v3.2h-3.2zM478.3 623.6h3.2v3.2h-3.2zM253.0 752.2h3.2v3.2h-3.2zM404.8 663.7h3.2v3.2h-3.2zM372.4 660.1h3.2v3.2h-3.2zM392.8 670.8h3.2v3.2h-3.2zM391.4 689.7h3.2v3.2h-3.2zM308.1 764.8h3.2v3.2h-3.2zM359.1 722.8h3.2v3.2h-3.2zM309.6 692.6h3.2v3.2h-3.2zM327.3 671.7h3.2v3.2h-3.2zM261.1 715.4h3.2v3.2h-3.2zM371.6 687.3h3.2v3.2h-3.2zM378.4 650.1h3.2v3.2h-3.2zM385.6 649.5h3.2v3.2h-3.2zM372.7 689.7h3.2v3.2h-3.2zM371.4 648.7h3.2v3.2h-3.2zM338.4 694.0h3.2v3.2h-3.2zM318.8 681.8h3.2v3.2h-3.2zM368.1 649.6h3.2v3.2h-3.2zM333.5 668.7h3.2v3.2h-3.2zM379.3 673.8h3.2v3.2h-3.2zM420.8 702.8h3.2v3.2h-3.2zM435.5 675.1h3.2v3.2h-3.2zM355.4 651.7h3.2v3.2h-3.2zM358.2 699.5h3.2v3.2h-3.2zM356.3 683.7h3.2v3.2h-3.2zM270.8 693.4h3.2v3.2h-3.2zM256.2 690.8h3.2v3.2h-3.2zM334.7 672.0h3.2v3.2h-3.2zM321.5 710.3h3.2v3.2h-3.2zM303.2 674.5h3.2v3.2h-3.2zM255.5 745.0h3.2v3.2h-3.2zM250.4 755.3h3.2v3.2h-3.2zM359.1 629.3h3.2v3.2h-3.2zM317.4 661.5h3.2v3.2h-3.2zM348.8 675.0h3.2v3.2h-3.2zM373.5 688.5h3.2v3.2h-3.2zM414.6 625.2h3.2v3.2h-3.2zM317.1 680.2h3.2v3.2h-3.2zM360.6 665.2h3.2v3.2h-3.2zM376.4 656.9h3.2v3.2h-3.2zM326.4 623.0h3.2v3.2h-3.2zM378.8 697.1h3.2v3.2h-3.2zM309.7 696.9h3.2v3.2h-3.2zM288.7 693.2h3.2v3.2h-3.2zM454.4 684.7h3.2v3.2h-3.2zM343.2 644.7h3.2v3.2h-3.2zM309.2 715.5h3.2v3.2h-3.2zM350.4 649.9h3.2v3.2h-3.2zM366.7 710.8h3.2v3.2h-3.2zM364.1 655.3h3.2v3.2h-3.2zM255.5 722.5h3.2v3.2h-3.2zM241.0 707.2h3.2v3.2h-3.2zM350.3 659.0h3.2v3.2h-3.2zM442.6 671.4h3.2v3.2h-3.2zM342.4 643.7h3.2v3.2h-3.2zM425.9 657.1h3.2v3.2h-3.2zM291.0 710.4h3.2v3.2h-3.2zM284.6 687.5h3.2v3.2h-3.2zM301.1 631.8h3.2v3.2h-3.2zM307.4 723.7h3.2v3.2h-3.2zM352.1 693.8h3.2v3.2h-3.2zM352.3 676.1h3.2v3.2h-3.2zM301.5 643.7h3.2v3.2h-3.2zM323.7 684.9h3.2v3.2h-3.2zM365.4 681.4h3.2v3.2h-3.2zM298.5 716.5h3.2v3.2h-3.2zM391.0 658.7h3.2v3.2h-3.2zM413.6 711.9h3.2v3.2h-3.2zM365.0 603.9h3.2v3.2h-3.2zM462.8 678.4h3.2v3.2h-3.2zM385.6 658.9h3.2v3.2h-3.2zM324.2 692.3h3.2v3.2h-3.2zM323.7 692.4h3.2v3.2h-3.2zM359.5 659.4h3.2v3.2h-3.2zM290.4 699.5h3.2v3.2h-3.2zM314.9 686.3h3.2v3.2h-3.2zM388.8 693.3h3.2v3.2h-3.2zM384.1 673.7h3.2v3.2h-3.2zM365.9 673.5h3.2v3.2h-3.2zM336.1 689.8h3.2v3.2h-3.2zM332.3 658.1h3.2v3.2h-3.2zM395.3 639.4h3.2v3.2h-3.2zM309.6 711.1h3.2v3.2h-3.2zM338.0 709.4h3.2v3.2h-3.2zM376.3 712.0h3.2v3.2h-3.2zM236.8 710.0h3.2v3.2h-3.2zM249.0 708.6h3.2v3.2h-3.2zM393.9 688.5h3.2v3.2h-3.2zM318.6 661.6h3.2v3.2h-3.2zM400.5 714.4h3.2v3.2h-3.2zM362.5 674.7h3.2v3.2h-3.2zM483.9 652.2h3.2v3.2h-3.2zM398.2 641.0h3.2v3.2h-3.2zM388.3 674.2h3.2v3.2h-3.2zM290.9 705.6h3.2v3.2h-3.2zM315.9 682.7h3.2v3.2h-3.2zM354.4 688.0h3.2v3.2h-3.2zM390.6 603.6h3.2v3.2h-3.2zM342.1 689.8h3.2v3.2h-3.2zM408.1 671.9h3.2v3.2h-3.2zM304.2 701.7h3.2v3.2h-3.2zM264.4 741.4h3.2v3.2h-3.2zM370.9 667.2h3.2v3.2h-3.2zM306.1 720.5h3.2v3.2h-3.2zM373.7 685.3h3.2v3.2h-3.2zM324.0 706.0h3.2v3.2h-3.2zM249.9 747.3h3.2v3.2h-3.2zM314.4 627.0h3.2v3.2h-3.2zM350.8 697.7h3.2v3.2h-3.2zM308.4 697.7h3.2v3.2h-3.2zM350.4 687.9h3.2v3.2h-3.2zM274.3 686.2h3.2v3.2h-3.2zM313.5 689.8h3.2v3.2h-3.2zM344.7 705.0h3.2v3.2h-3.2zM408.4 664.7h3.2v3.2h-3.2zM374.3 704.1h3.2v3.2h-3.2zM434.5 646.5h3.2v3.2h-3.2zM389.6 637.4h3.2v3.2h-3.2zM380.3 692.8h3.2v3.2h-3.2zM318.6 733.3h3.2v3.2h-3.2zM321.2 703.7h3.2v3.2h-3.2zM262.8 745.0h3.2v3.2h-3.2zM387.6 687.6h3.2v3.2h-3.2zM379.8 651.4h3.2v3.2h-3.2zM313.2 691.3h3.2v3.2h-3.2zM354.9 671.5h3.2v3.2h-3.2zM441.7 667.0h3.2v3.2h-3.2zM291.2 685.0h3.2v3.2h-3.2zM267.1 713.7h3.2v3.2h-3.2zM368.0 728.8h3.2v3.2h-3.2zM298.3 676.0h3.2v3.2h-3.2zM423.4 664.7h3.2v3.2h-3.2zM314.1 697.4h3.2v3.2h-3.2zM353.5 697.8h3.2v3.2h-3.2zM419.8 665.1h3.2v3.2h-3.2zM437.7 645.2h3.2v3.2h-3.2zM421.2 639.4h3.2v3.2h-3.2zM299.9 738.6h3.2v3.2h-3.2zM346.7 674.4h3.2v3.2h-3.2zM366.1 653.7h3.2v3.2h-3.2zM382.0 719.6h3.2v3.2h-3.2zM381.9 663.0h3.2v3.2h-3.2zM423.9 655.0h3.2v3.2h-3.2zM264.1 670.9h3.2v3.2h-3.2zM313.2 708.6h3.2v3.2h-3.2zM330.0 720.1h3.2v3.2h-3.2zM369.8 643.8h3.2v3.2h-3.2zM399.0 727.6h3.2v3.2h-3.2zM288.9 699.8h3.2v3.2h-3.2zM376.9 678.0h3.2v3.2h-3.2zM362.5 711.2h3.2v3.2h-3.2zM300.2 701.5h3.2v3.2h-3.2zM389.0 680.5h3.2v3.2h-3.2zM346.2 708.1h3.2v3.2h-3.2zM463.3 692.5h3.2v3.2h-3.2zM386.3 712.0h3.2v3.2h-3.2zM345.7 687.4h3.2v3.2h-3.2zM410.8 661.9h3.2v3.2h-3.2zM404.9 642.3h3.2v3.2h-3.2zM312.3 705.9h3.2v3.2h-3.2zM391.6 668.8h3.2v3.2h-3.2zM412.5 637.8h3.2v3.2h-3.2zM446.3 650.9h3.2v3.2h-3.2zM297.7 678.2h3.2v3.2h-3.2zM258.1 724.8h3.2v3.2h-3.2zM367.5 629.6h3.2v3.2h-3.2zM414.1 643.8h3.2v3.2h-3.2zM445.9 627.6h3.2v3.2h-3.2zM341.2 689.0h3.2v3.2h-3.2zM362.1 683.0h3.2v3.2h-3.2zM334.7 704.1h3.2v3.2h-3.2zM333.7 627.9h3.2v3.2h-3.2zM323.9 675.7h3.2v3.2h-3.2zM392.1 680.3h3.2v3.2h-3.2zM381.8 688.7h3.2v3.2h-3.2zM347.9 742.2h3.2v3.2h-3.2zM358.9 707.4h3.2v3.2h-3.2zM254.0 676.2h3.2v3.2h-3.2zM338.0 712.2h3.2v3.2h-3.2zM412.1 632.3h3.2v3.2h-3.2zM303.6 675.1h3.2v3.2h-3.2zM469.5 638.4h3.2v3.2h-3.2zM344.5 684.5h3.2v3.2h-3.2zM338.0 742.9h3.2v3.2h-3.2zM464.9 593.0h3.2v3.2h-3.2zM413.4 642.7h3.2v3.2h-3.2zM375.8 721.5h3.2v3.2h-3.2zM305.8 728.2h3.2v3.2h-3.2zM396.6 677.2h3.2v3.2h-3.2zM380.9 671.8h3.2v3.2h-3.2zM277.0 710.5h3.2v3.2h-3.2zM325.8 682.7h3.2v3.2h-3.2zM261.1 729.5h3.2v3.2h-3.2zM262.7 700.4h3.2v3.2h-3.2zM245.0 730.4h3.2v3.2h-3.2zM374.5 679.9h3.2v3.2h-3.2zM354.2 614.4h3.2v3.2h-3.2zM368.2 710.4h3.2v3.2h-3.2zM332.6 692.8h3.2v3.2h-3.2zM391.7 626.1h3.2v3.2h-3.2zM263.7 724.1h3.2v3.2h-3.2zM375.1 674.5h3.2v3.2h-3.2zM270.4 732.0h3.2v3.2h-3.2zM392.2 667.9h3.2v3.2h-3.2zM357.6 708.8h3.2v3.2h-3.2zM298.4 663.7h3.2v3.2h-3.2zM359.5 697.1h3.2v3.2h-3.2zM248.6 702.9h3.2v3.2h-3.2zM374.0 696.5h3.2v3.2h-3.2zM313.1 628.3h3.2v3.2h-3.2zM387.9 593.8h3.2v3.2h-3.2zM431.7 654.1h3.2v3.2h-3.2zM388.9 651.9h3.2v3.2h-3.2zM341.8 726.8h3.2v3.2h-3.2zM228.8 707.4h3.2v3.2h-3.2zM468.4 588.7h3.2v3.2h-3.2zM372.0 621.6h3.2v3.2h-3.2zM461.8 636.9h3.2v3.2h-3.2zM399.7 631.9h3.2v3.2h-3.2zM308.1 727.2h3.2v3.2h-3.2zM215.8 759.9h3.2v3.2h-3.2zM315.4 681.3h3.2v3.2h-3.2zM343.0 691.3h3.2v3.2h-3.2zM464.4 620.5h3.2v3.2h-3.2zM399.7 688.8h3.2v3.2h-3.2zM314.8 712.3h3.2v3.2h-3.2zM330.6 652.7h3.2v3.2h-3.2zM290.7 693.8h3.2v3.2h-3.2zM421.8 683.7h3.2v3.2h-3.2zM338.3 712.1h3.2v3.2h-3.2zM278.4 715.4h3.2v3.2h-3.2zM372.8 730.4h3.2v3.2h-3.2zM444.9 604.5h3.2v3.2h-3.2zM358.7 711.4h3.2v3.2h-3.2zM374.4 698.3h3.2v3.2h-3.2zM372.7 676.0h3.2v3.2h-3.2zM347.9 664.0h3.2v3.2h-3.2zM270.7 697.6h3.2v3.2h-3.2zM281.5 699.3h3.2v3.2h-3.2zM309.4 689.6h3.2v3.2h-3.2zM373.8 682.8h3.2v3.2h-3.2zM275.8 733.9h3.2v3.2h-3.2zM353.4 719.4h3.2v3.2h-3.2zM439.5 627.7h3.2v3.2h-3.2zM400.6 699.7h3.2v3.2h-3.2zM366.0 740.1h3.2v3.2h-3.2zM220.2 705.0h3.2v3.2h-3.2zM497.9 595.9h3.2v3.2h-3.2zM327.4 721.7h3.2v3.2h-3.2zM349.9 693.3h3.2v3.2h-3.2zM279.2 736.3h3.2v3.2h-3.2zM375.9 669.8h3.2v3.2h-3.2zM392.7 644.3h3.2v3.2h-3.2zM396.3 603.5h3.2v3.2h-3.2zM283.3 674.4h3.2v3.2h-3.2zM367.2 730.8h3.2v3.2h-3.2zM344.7 719.1h3.2v3.2h-3.2zM308.5 686.6h3.2v3.2h-3.2zM321.0 697.2h3.2v3.2h-3.2zM367.7 703.6h3.2v3.2h-3.2zM349.4 662.4h3.2v3.2h-3.2zM335.8 717.5h3.2v3.2h-3.2zM390.8 690.5h3.2v3.2h-3.2zM468.5 594.8h3.2v3.2h-3.2zM344.5 686.7h3.2v3.2h-3.2zM289.5 714.3h3.2v3.2h-3.2zM305.5 720.0h3.2v3.2h-3.2zM369.2 701.5h3.2v3.2h-3.2zM332.2 699.3h3.2v3.2h-3.2zM381.0 730.0h3.2v3.2h-3.2zM440.2 670.4h3.2v3.2h-3.2zM437.1 660.0h3.2v3.2h-3.2zM373.7 695.3h3.2v3.2h-3.2zM386.8 590.5h3.2v3.2h-3.2zM457.2 647.1h3.2v3.2h-3.2zM396.3 672.1h3.2v3.2h-3.2zM365.0 640.6h3.2v3.2h-3.2zM329.6 670.2h3.2v3.2h-3.2zM305.7 708.9h3.2v3.2h-3.2zM354.0 691.0h3.2v3.2h-3.2zM308.4 667.9h3.2v3.2h-3.2zM462.8 617.0h3.2v3.2h-3.2zM360.7 659.5h3.2v3.2h-3.2zM372.2 689.6h3.2v3.2h-3.2zM296.2 669.0h3.2v3.2h-3.2zM496.2 663.2h3.2v3.2h-3.2zM335.0 752.6h3.2v3.2h-3.2zM359.6 672.5h3.2v3.2h-3.2zM347.1 635.5h3.2v3.2h-3.2zM418.1 681.8h3.2v3.2h-3.2zM328.9 692.2h3.2v3.2h-3.2zM337.7 681.1h3.2v3.2h-3.2zM364.1 629.5h3.2v3.2h-3.2zM328.4 653.1h3.2v3.2h-3.2zM369.4 661.8h3.2v3.2h-3.2zM270.1 777.7h3.2v3.2h-3.2zM300.2 723.2h3.2v3.2h-3.2zM355.1 629.5h3.2v3.2h-3.2zM378.4 725.4h3.2v3.2h-3.2zM419.9 683.6h3.2v3.2h-3.2zM326.2 673.1h3.2v3.2h-3.2zM401.2 689.7h3.2v3.2h-3.2zM382.4 652.2h3.2v3.2h-3.2zM349.4 683.9h3.2v3.2h-3.2zM414.0 708.8h3.2v3.2h-3.2zM305.9 684.0h3.2v3.2h-3.2zM367.4 703.7h3.2v3.2h-3.2zM367.2 662.7h3.2v3.2h-3.2zM332.2 709.6h3.2v3.2h-3.2zM245.4 743.7h3.2v3.2h-3.2zM358.0 656.7h3.2v3.2h-3.2zM414.8 674.0h3.2v3.2h-3.2zM374.0 662.6h3.2v3.2h-3.2zM447.7 610.8h3.2v3.2h-3.2zM371.5 699.3h3.2v3.2h-3.2zM330.0 670.1h3.2v3.2h-3.2zM347.9 682.9h3.2v3.2h-3.2zM282.8 755.5h3.2v3.2h-3.2zM325.3 695.3h3.2v3.2h-3.2zM285.5 743.9h3.2v3.2h-3.2zM355.4 687.3h3.2v3.2h-3.2zM342.6 727.0h3.2v3.2h-3.2zM304.6 728.7h3.2v3.2h-3.2zM365.3 638.4h3.2v3.2h-3.2zM380.7 705.3h3.2v3.2h-3.2zM328.0 699.0h3.2v3.2h-3.2zM402.9 679.2h3.2v3.2h-3.2zM248.2 763.1h3.2v3.2h-3.2zM275.6 720.2h3.2v3.2h-3.2zM290.6 715.1h3.2v3.2h-3.2zM325.3 673.9h3.2v3.2h-3.2zM372.9 681.9h3.2v3.2h-3.2zM334.7 711.8h3.2v3.2h-3.2zM417.6 628.1h3.2v3.2h-3.2zM329.6 708.3h3.2v3.2h-3.2zM334.6 718.6h3.2v3.2h-3.2zM346.0 654.1h3.2v3.2h-3.2zM391.6 694.6h3.2v3.2h-3.2zM344.5 703.6h3.2v3.2h-3.2zM286.4 720.9h3.2v3.2h-3.2zM423.9 706.6h3.2v3.2h-3.2zM318.5 699.3h3.2v3.2h-3.2zM328.4 705.0h3.2v3.2h-3.2zM380.4 663.3h3.2v3.2h-3.2zM424.7 614.7h3.2v3.2h-3.2zM408.3 636.0h3.2v3.2h-3.2zM313.1 663.0h3.2v3.2h-3.2zM345.8 690.1h3.2v3.2h-3.2zM258.3 691.5h3.2v3.2h-3.2zM364.1 654.8h3.2v3.2h-3.2zM328.6 700.6h3.2v3.2h-3.2zM361.8 694.2h3.2v3.2h-3.2zM275.7 728.6h3.2v3.2h-3.2zM367.3 675.9h3.2v3.2h-3.2zM317.7 698.1h3.2v3.2h-3.2zM324.3 714.6h3.2v3.2h-3.2zM346.4 643.5h3.2v3.2h-3.2zM433.5 634.0h3.2v3.2h-3.2zM370.0 702.4h3.2v3.2h-3.2zM237.4 734.4h3.2v3.2h-3.2zM296.1 729.9h3.2v3.2h-3.2zM321.7 696.4h3.2v3.2h-3.2zM269.6 679.6h3.2v3.2h-3.2zM310.6 666.8h3.2v3.2h-3.2zM315.4 708.1h3.2v3.2h-3.2zM261.5 724.1h3.2v3.2h-3.2zM320.9 720.6h3.2v3.2h-3.2zM393.4 666.0h3.2v3.2h-3.2zM289.8 719.2h3.2v3.2h-3.2zM342.1 718.2h3.2v3.2h-3.2zM339.3 757.9h3.2v3.2h-3.2zM305.9 701.6h3.2v3.2h-3.2zM404.5 675.3h3.2v3.2h-3.2zM405.4 675.2h3.2v3.2h-3.2zM406.1 682.6h3.2v3.2h-3.2zM386.9 642.5h3.2v3.2h-3.2zM403.6 636.1h3.2v3.2h-3.2zM318.0 681.6h3.2v3.2h-3.2zM374.8 696.7h3.2v3.2h-3.2zM338.0 732.0h3.2v3.2h-3.2zM374.4 674.0h3.2v3.2h-3.2zM280.1 762.0h3.2v3.2h-3.2zM341.8 662.3h3.2v3.2h-3.2zM259.5 679.6h3.2v3.2h-3.2zM346.5 661.7h3.2v3.2h-3.2zM305.2 653.3h3.2v3.2h-3.2zM364.3 661.5h3.2v3.2h-3.2zM340.2 656.6h3.2v3.2h-3.2zM423.6 710.0h3.2v3.2h-3.2zM298.4 713.6h3.2v3.2h-3.2zM302.7 694.0h3.2v3.2h-3.2zM458.7 646.7h3.2v3.2h-3.2zM261.2 708.0h3.2v3.2h-3.2zM433.3 646.5h3.2v3.2h-3.2zM424.4 658.7h3.2v3.2h-3.2zM318.9 715.6h3.2v3.2h-3.2zM252.6 731.9h3.2v3.2h-3.2zM355.7 650.9h3.2v3.2h-3.2zM425.9 606.9h3.2v3.2h-3.2zM364.8 708.9h3.2v3.2h-3.2zM427.7 624.0h3.2v3.2h-3.2zM329.8 728.4h3.2v3.2h-3.2zM375.1 637.5h3.2v3.2h-3.2zM369.5 713.8h3.2v3.2h-3.2zM312.4 679.5h3.2v3.2h-3.2zM310.3 698.0h3.2v3.2h-3.2zM366.0 675.6h3.2v3.2h-3.2zM416.6 646.8h3.2v3.2h-3.2zM320.5 740.4h3.2v3.2h-3.2zM398.5 655.3h3.2v3.2h-3.2zM362.2 649.4h3.2v3.2h-3.2zM360.5 719.8h3.2v3.2h-3.2zM232.6 719.9h3.2v3.2h-3.2zM355.0 649.3h3.2v3.2h-3.2zM286.7 694.6h3.2v3.2h-3.2zM264.9 730.2h3.2v3.2h-3.2zM356.2 698.7h3.2v3.2h-3.2zM311.7 766.3h3.2v3.2h-3.2zM273.0 725.4h3.2v3.2h-3.2zM370.4 662.2h3.2v3.2h-3.2zM379.2 741.3h3.2v3.2h-3.2zM335.8 715.9h3.2v3.2h-3.2zM415.5 680.6h3.2v3.2h-3.2zM379.0 702.8h3.2v3.2h-3.2zM374.7 712.8h3.2v3.2h-3.2zM314.3 711.7h3.2v3.2h-3.2zM423.8 620.5h3.2v3.2h-3.2zM446.1 684.7h3.2v3.2h-3.2zM330.8 672.2h3.2v3.2h-3.2zM327.6 658.8h3.2v3.2h-3.2zM435.9 648.2h3.2v3.2h-3.2zM309.5 704.8h3.2v3.2h-3.2zM358.5 679.7h3.2v3.2h-3.2zM345.1 720.3h3.2v3.2h-3.2zM271.9 755.9h3.2v3.2h-3.2zM329.0 699.4h3.2v3.2h-3.2zM312.5 673.6h3.2v3.2h-3.2zM363.4 665.1h3.2v3.2h-3.2zM277.3 706.6h3.2v3.2h-3.2zM330.4 727.2h3.2v3.2h-3.2zM325.2 719.2h3.2v3.2h-3.2zM426.9 650.3h3.2v3.2h-3.2zM388.8 631.3h3.2v3.2h-3.2zM360.0 724.6h3.2v3.2h-3.2zM407.3 676.4h3.2v3.2h-3.2zM400.9 686.9h3.2v3.2h-3.2zM407.5 657.3h3.2v3.2h-3.2zM384.0 668.8h3.2v3.2h-3.2zM368.8 678.0h3.2v3.2h-3.2zM362.5 650.8h3.2v3.2h-3.2zM401.8 625.5h3.2v3.2h-3.2zM379.3 651.5h3.2v3.2h-3.2zM426.7 696.8h3.2v3.2h-3.2zM291.5 694.9h3.2v3.2h-3.2zM317.6 710.1h3.2v3.2h-3.2zM427.4 611.4h3.2v3.2h-3.2zM341.0 652.1h3.2v3.2h-3.2zM390.4 674.4h3.2v3.2h-3.2zM380.1 622.5h3.2v3.2h-3.2zM383.3 665.2h3.2v3.2h-3.2zM320.1 721.1h3.2v3.2h-3.2zM250.7 692.0h3.2v3.2h-3.2zM392.7 665.7h3.2v3.2h-3.2zM285.0 699.3h3.2v3.2h-3.2zM408.9 634.8h3.2v3.2h-3.2zM440.7 652.3h3.2v3.2h-3.2zM369.1 704.8h3.2v3.2h-3.2zM342.5 694.0h3.2v3.2h-3.2zM349.8 688.7h3.2v3.2h-3.2zM391.9 647.3h3.2v3.2h-3.2zM336.6 690.7h3.2v3.2h-3.2zM327.0 672.8h3.2v3.2h-3.2zM334.8 703.1h3.2v3.2h-3.2zM330.2 705.2h3.2v3.2h-3.2zM414.3 709.4h3.2v3.2h-3.2zM411.7 640.3h3.2v3.2h-3.2zM439.0 690.3h3.2v3.2h-3.2zM358.9 674.5h3.2v3.2h-3.2zM374.1 675.6h3.2v3.2h-3.2zM395.3 636.9h3.2v3.2h-3.2zM381.8 611.9h3.2v3.2h-3.2zM333.6 660.5h3.2v3.2h-3.2zM395.3 622.4h3.2v3.2h-3.2zM387.9 688.9h3.2v3.2h-3.2zM346.5 640.9h3.2v3.2h-3.2zM285.6 696.0h3.2v3.2h-3.2zM352.6 680.9h3.2v3.2h-3.2zM314.1 697.0h3.2v3.2h-3.2zM310.5 698.2h3.2v3.2h-3.2zM429.8 669.3h3.2v3.2h-3.2zM288.1 752.5h3.2v3.2h-3.2zM359.4 700.8h3.2v3.2h-3.2zM317.1 718.5h3.2v3.2h-3.2zM348.4 722.6h3.2v3.2h-3.2zM349.0 682.1h3.2v3.2h-3.2zM354.0 672.6h3.2v3.2h-3.2zM328.4 740.3h3.2v3.2h-3.2zM355.2 675.6h3.2v3.2h-3.2zM432.0 653.2h3.2v3.2h-3.2zM287.2 722.6h3.2v3.2h-3.2zM457.4 633.9h3.2v3.2h-3.2zM282.1 709.8h3.2v3.2h-3.2zM312.7 707.2h3.2v3.2h-3.2zM304.7 740.7h3.2v3.2h-3.2zM264.2 728.6h3.2v3.2h-3.2zM353.3 653.2h3.2v3.2h-3.2zM375.6 689.0h3.2v3.2h-3.2zM364.0 657.2h3.2v3.2h-3.2zM320.6 683.2h3.2v3.2h-3.2zM432.6 626.0h3.2v3.2h-3.2zM318.5 724.0h3.2v3.2h-3.2zM393.8 661.6h3.2v3.2h-3.2zM464.3 624.1h3.2v3.2h-3.2zM332.2 704.3h3.2v3.2h-3.2zM322.9 730.4h3.2v3.2h-3.2zM466.0 683.9h3.2v3.2h-3.2zM271.2 679.7h3.2v3.2h-3.2zM336.2 709.2h3.2v3.2h-3.2zM278.7 728.2h3.2v3.2h-3.2zM354.9 698.8h3.2v3.2h-3.2zM311.5 690.4h3.2v3.2h-3.2zM355.1 657.8h3.2v3.2h-3.2zM281.5 701.3h3.2v3.2h-3.2zM354.4 713.8h3.2v3.2h-3.2zM299.6 741.7h3.2v3.2h-3.2zM359.5 660.4h3.2v3.2h-3.2zM314.9 676.0h3.2v3.2h-3.2zM437.3 641.7h3.2v3.2h-3.2zM289.1 675.4h3.2v3.2h-3.2zM359.4 723.2h3.2v3.2h-3.2zM417.4 626.8h3.2v3.2h-3.2zM366.6 641.8h3.2v3.2h-3.2zM346.7 692.3h3.2v3.2h-3.2zM304.0 669.2h3.2v3.2h-3.2zM434.8 654.8h3.2v3.2h-3.2zM262.4 723.8h3.2v3.2h-3.2zM337.0 672.8h3.2v3.2h-3.2zM311.7 768.9h3.2v3.2h-3.2zM338.1 679.8h3.2v3.2h-3.2zM423.4 612.7h3.2v3.2h-3.2zM333.2 712.0h3.2v3.2h-3.2zM289.6 720.8h3.2v3.2h-3.2zM342.1 671.7h3.2v3.2h-3.2zM405.7 703.5h3.2v3.2h-3.2zM411.4 657.0h3.2v3.2h-3.2zM388.3 668.0h3.2v3.2h-3.2zM396.7 635.3h3.2v3.2h-3.2zM371.5 620.3h3.2v3.2h-3.2zM289.1 692.9h3.2v3.2h-3.2zM362.7 698.3h3.2v3.2h-3.2zM370.6 634.7h3.2v3.2h-3.2zM338.2 685.1h3.2v3.2h-3.2zM281.7 709.8h3.2v3.2h-3.2zM284.6 681.5h3.2v3.2h-3.2zM356.7 681.9h3.2v3.2h-3.2zM291.4 707.3h3.2v3.2h-3.2zM385.0 736.0h3.2v3.2h-3.2zM373.7 734.2h3.2v3.2h-3.2zM356.4 664.5h3.2v3.2h-3.2zM358.7 727.1h3.2v3.2h-3.2zM368.3 624.7h3.2v3.2h-3.2zM385.6 697.4h3.2v3.2h-3.2zM443.4 676.6h3.2v3.2h-3.2zM356.7 706.2h3.2v3.2h-3.2zM398.2 731.7h3.2v3.2h-3.2zM241.0 708.3h3.2v3.2h-3.2zM343.0 689.9h3.2v3.2h-3.2zM398.0 619.0h3.2v3.2h-3.2zM376.0 686.9h3.2v3.2h-3.2zM399.0 630.7h3.2v3.2h-3.2zM405.5 650.4h3.2v3.2h-3.2zM346.4 696.1h3.2v3.2h-3.2zM316.5 683.6h3.2v3.2h-3.2zM334.2 642.0h3.2v3.2h-3.2zM427.1 646.4h3.2v3.2h-3.2zM318.8 688.0h3.2v3.2h-3.2zM364.5 694.2h3.2v3.2h-3.2zM387.0 660.4h3.2v3.2h-3.2zM360.7 650.7h3.2v3.2h-3.2zM296.6 675.7h3.2v3.2h-3.2zM382.2 659.5h3.2v3.2h-3.2zM386.4 701.6h3.2v3.2h-3.2zM260.4 658.3h3.2v3.2h-3.2zM295.1 682.5h3.2v3.2h-3.2zM485.6 651.9h3.2v3.2h-3.2zM339.4 703.8h3.2v3.2h-3.2zM358.8 694.9h3.2v3.2h-3.2zM424.2 665.0h3.2v3.2h-3.2zM385.2 721.9h3.2v3.2h-3.2zM334.8 718.4h3.2v3.2h-3.2zM417.0 646.5h3.2v3.2h-3.2zM295.2 717.4h3.2v3.2h-3.2zM336.1 701.7h3.2v3.2h-3.2zM335.9 644.4h3.2v3.2h-3.2zM391.4 670.3h3.2v3.2h-3.2zM388.5 667.0h3.2v3.2h-3.2zM419.0 633.8h3.2v3.2h-3.2zM401.6 656.8h3.2v3.2h-3.2zM331.4 621.3h3.2v3.2h-3.2zM381.6 641.0h3.2v3.2h-3.2zM304.8 694.3h3.2v3.2h-3.2zM279.3 750.0h3.2v3.2h-3.2zM351.1 710.2h3.2v3.2h-3.2zM364.6 738.5h3.2v3.2h-3.2zM350.9 676.0h3.2v3.2h-3.2zM298.8 709.3h3.2v3.2h-3.2zM295.6 724.2h3.2v3.2h-3.2zM345.5 685.3h3.2v3.2h-3.2zM298.0 734.4h3.2v3.2h-3.2zM331.3 716.9h3.2v3.2h-3.2zM435.3 621.9h3.2v3.2h-3.2zM277.4 694.6h3.2v3.2h-3.2zM240.8 732.6h3.2v3.2h-3.2zM344.1 659.6h3.2v3.2h-3.2zM329.4 682.8h3.2v3.2h-3.2zM411.7 684.3h3.2v3.2h-3.2zM317.6 709.0h3.2v3.2h-3.2zM362.7 714.8h3.2v3.2h-3.2zM275.1 719.9h3.2v3.2h-3.2zM252.9 732.0h3.2v3.2h-3.2zM470.5 672.7h3.2v3.2h-3.2zM360.0 721.4h3.2v3.2h-3.2zM315.9 675.7h3.2v3.2h-3.2zM334.5 695.0h3.2v3.2h-3.2zM408.8 712.1h3.2v3.2h-3.2zM308.9 752.2h3.2v3.2h-3.2zM339.4 673.5h3.2v3.2h-3.2zM392.4 681.7h3.2v3.2h-3.2zM374.0 681.0h3.2v3.2h-3.2zM292.1 659.2h3.2v3.2h-3.2zM489.9 637.4h3.2v3.2h-3.2zM423.6 653.0h3.2v3.2h-3.2zM304.2 734.4h3.2v3.2h-3.2zM303.7 713.1h3.2v3.2h-3.2zM350.0 651.2h3.2v3.2h-3.2zM271.6 687.9h3.2v3.2h-3.2zM351.2 691.3h3.2v3.2h-3.2zM301.7 709.3h3.2v3.2h-3.2zM362.1 618.9h3.2v3.2h-3.2zM287.4 721.1h3.2v3.2h-3.2zM474.1 646.9h3.2v3.2h-3.2zM333.8 673.3h3.2v3.2h-3.2zM382.1 701.9h3.2v3.2h-3.2zM382.8 719.1h3.2v3.2h-3.2zM399.1 636.8h3.2v3.2h-3.2zM402.6 664.3h3.2v3.2h-3.2zM358.2 630.6h3.2v3.2h-3.2zM373.9 644.4h3.2v3.2h-3.2zM332.9 712.5h3.2v3.2h-3.2zM306.1 691.9h3.2v3.2h-3.2zM265.2 739.9h3.2v3.2h-3.2zM476.4 637.9h3.2v3.2h-3.2zM420.3 664.7h3.2v3.2h-3.2zM333.4 703.6h3.2v3.2h-3.2zM317.7 674.6h3.2v3.2h-3.2zM325.8 720.2h3.2v3.2h-3.2zM299.7 695.5h3.2v3.2h-3.2zM353.8 672.0h3.2v3.2h-3.2zM383.8 650.4h3.2v3.2h-3.2zM348.3 696.3h3.2v3.2h-3.2zM320.2 690.9h3.2v3.2h-3.2zM370.2 700.6h3.2v3.2h-3.2zM424.2 665.0h3.2v3.2h-3.2zM284.3 743.9h3.2v3.2h-3.2zM346.6 700.3h3.2v3.2h-3.2zM317.8 700.8h3.2v3.2h-3.2zM383.8 658.9h3.2v3.2h-3.2zM370.1 727.8h3.2v3.2h-3.2zM360.2 650.5h3.2v3.2h-3.2zM348.6 656.0h3.2v3.2h-3.2zM378.5 646.5h3.2v3.2h-3.2zM312.6 713.1h3.2v3.2h-3.2zM336.5 712.5h3.2v3.2h-3.2zM359.3 679.7h3.2v3.2h-3.2zM187.9 700.4h3.2v3.2h-3.2zM279.0 680.2h3.2v3.2h-3.2zM405.5 678.7h3.2v3.2h-3.2zM345.2 675.8h3.2v3.2h-3.2zM341.5 691.8h3.2v3.2h-3.2zM312.0 704.0h3.2v3.2h-3.2zM371.7 719.2h3.2v3.2h-3.2zM390.5 687.5h3.2v3.2h-3.2zM347.6 694.5h3.2v3.2h-3.2zM365.8 692.2h3.2v3.2h-3.2zM387.7 657.4h3.2v3.2h-3.2zM300.2 708.1h3.2v3.2h-3.2zM392.5 627.9h3.2v3.2h-3.2zM402.4 697.7h3.2v3.2h-3.2zM407.6 648.7h3.2v3.2h-3.2zM434.9 702.5h3.2v3.2h-3.2zM386.6 672.8h3.2v3.2h-3.2zM290.2 689.9h3.2v3.2h-3.2zM327.6 732.5h3.2v3.2h-3.2zM354.9 671.9h3.2v3.2h-3.2zM258.2 724.5h3.2v3.2h-3.2zM283.7 695.3h3.2v3.2h-3.2zM426.7 656.1h3.2v3.2h-3.2zM475.3 588.9h3.2v3.2h-3.2zM299.0 705.2h3.2v3.2h-3.2zM386.0 693.1h3.2v3.2h-3.2zM395.1 665.3h3.2v3.2h-3.2zM385.7 679.2h3.2v3.2h-3.2zM354.3 634.3h3.2v3.2h-3.2zM282.4 699.8h3.2v3.2h-3.2zM454.7 631.3h3.2v3.2h-3.2zM327.5 658.2h3.2v3.2h-3.2zM348.4 679.5h3.2v3.2h-3.2zM347.4 682.7h3.2v3.2h-3.2zM352.6 667.2h3.2v3.2h-3.2zM388.6 656.5h3.2v3.2h-3.2zM338.9 695.8h3.2v3.2h-3.2zM371.6 702.0h3.2v3.2h-3.2zM355.9 695.5h3.2v3.2h-3.2zM280.5 697.5h3.2v3.2h-3.2zM337.9 653.0h3.2v3.2h-3.2zM390.4 662.7h3.2v3.2h-3.2zM263.2 741.9h3.2v3.2h-3.2zM303.5 702.5h3.2v3.2h-3.2zM345.7 727.6h3.2v3.2h-3.2zM360.6 694.5h3.2v3.2h-3.2zM351.4 701.0h3.2v3.2h-3.2zM328.2 711.7h3.2v3.2h-3.2zM372.3 665.7h3.2v3.2h-3.2zM294.6 700.2h3.2v3.2h-3.2zM371.5 680.4h3.2v3.2h-3.2zM313.5 693.7h3.2v3.2h-3.2zM469.1 670.1h3.2v3.2h-3.2zM356.7 696.6h3.2v3.2h-3.2zM260.8 669.5h3.2v3.2h-3.2zM327.8 680.6h3.2v3.2h-3.2zM385.0 637.5h3.2v3.2h-3.2zM319.6 712.4h3.2v3.2h-3.2zM335.1 679.3h3.2v3.2h-3.2zM296.3 685.9h3.2v3.2h-3.2zM376.7 694.5h3.2v3.2h-3.2zM441.8 618.4h3.2v3.2h-3.2zM408.5 677.8h3.2v3.2h-3.2zM451.0 652.5h3.2v3.2h-3.2zM381.2 648.1h3.2v3.2h-3.2zM367.7 677.0h3.2v3.2h-3.2zM369.9 675.5h3.2v3.2h-3.2zM243.6 710.2h3.2v3.2h-3.2zM250.1 706.5h3.2v3.2h-3.2zM354.7 683.4h3.2v3.2h-3.2zM328.4 744.6h3.2v3.2h-3.2zM383.1 655.8h3.2v3.2h-3.2zM479.4 630.3h3.2v3.2h-3.2zM356.9 728.8h3.2v3.2h-3.2zM382.9 671.0h3.2v3.2h-3.2zM352.4 652.5h3.2v3.2h-3.2zM300.9 705.2h3.2v3.2h-3.2zM325.2 711.8h3.2v3.2h-3.2zM265.5 734.7h3.2v3.2h-3.2zM367.5 665.7h3.2v3.2h-3.2zM288.2 670.1h3.2v3.2h-3.2zM305.9 712.2h3.2v3.2h-3.2zM329.9 683.9h3.2v3.2h-3.2zM379.0 653.4h3.2v3.2h-3.2zM353.5 685.2h3.2v3.2h-3.2zM355.4 660.6h3.2v3.2h-3.2zM405.7 647.4h3.2v3.2h-3.2zM358.9 680.5h3.2v3.2h-3.2zM409.4 669.0h3.2v3.2h-3.2zM396.8 653.5h3.2v3.2h-3.2zM384.3 655.5h3.2v3.2h-3.2zM390.1 642.3h3.2v3.2h-3.2zM342.2 759.3h3.2v3.2h-3.2zM308.6 680.5h3.2v3.2h-3.2zM310.7 691.5h3.2v3.2h-3.2zM437.4 613.6h3.2v3.2h-3.2zM326.0 740.8h3.2v3.2h-3.2zM417.3 702.0h3.2v3.2h-3.2zM229.5 719.4h3.2v3.2h-3.2zM340.5 683.0h3.2v3.2h-3.2zM253.4 697.5h3.2v3.2h-3.2zM433.0 673.1h3.2v3.2h-3.2zM340.6 753.3h3.2v3.2h-3.2zM429.5 708.4h3.2v3.2h-3.2zM358.4 670.4h3.2v3.2h-3.2zM407.8 648.1h3.2v3.2h-3.2zM362.7 707.2h3.2v3.2h-3.2zM264.7 701.2h3.2v3.2h-3.2zM401.2 614.9h3.2v3.2h-3.2zM347.3 707.3h3.2v3.2h-3.2zM249.7 738.1h3.2v3.2h-3.2zM316.1 702.4h3.2v3.2h-3.2zM399.9 684.7h3.2v3.2h-3.2zM357.6 702.8h3.2v3.2h-3.2zM327.4 663.6h3.2v3.2h-3.2zM321.6 676.7h3.2v3.2h-3.2zM403.7 649.5h3.2v3.2h-3.2zM299.0 683.5h3.2v3.2h-3.2zM325.2 680.8h3.2v3.2h-3.2zM369.5 661.1h3.2v3.2h-3.2zM364.6 715.0h3.2v3.2h-3.2zM350.9 660.0h3.2v3.2h-3.2zM376.4 645.1h3.2v3.2h-3.2zM347.9 696.6h3.2v3.2h-3.2zM311.4 711.3h3.2v3.2h-3.2zM409.1 693.2h3.2v3.2h-3.2zM388.4 633.5h3.2v3.2h-3.2zM400.5 629.9h3.2v3.2h-3.2zM399.8 673.7h3.2v3.2h-3.2zM458.7 678.7h3.2v3.2h-3.2zM311.8 675.8h3.2v3.2h-3.2zM376.2 640.0h3.2v3.2h-3.2zM222.6 692.5h3.2v3.2h-3.2zM416.4 652.1h3.2v3.2h-3.2zM416.6 659.3h3.2v3.2h-3.2zM402.9 627.1h3.2v3.2h-3.2zM351.5 652.3h3.2v3.2h-3.2zM384.1 699.3h3.2v3.2h-3.2zM310.9 670.5h3.2v3.2h-3.2zM356.3 673.0h3.2v3.2h-3.2zM344.6 714.6h3.2v3.2h-3.2zM276.7 697.8h3.2v3.2h-3.2zM389.3 726.4h3.2v3.2h-3.2zM314.6 738.5h3.2v3.2h-3.2zM397.1 665.4h3.2v3.2h-3.2zM301.6 727.8h3.2v3.2h-3.2zM389.0 681.9h3.2v3.2h-3.2zM285.7 706.6h3.2v3.2h-3.2zM427.9 652.4h3.2v3.2h-3.2zM339.4 672.2h3.2v3.2h-3.2zM369.4 671.8h3.2v3.2h-3.2zM328.1 655.2h3.2v3.2h-3.2zM349.7 681.5h3.2v3.2h-3.2zM326.8 724.5h3.2v3.2h-3.2zM337.0 684.0h3.2v3.2h-3.2zM307.6 670.3h3.2v3.2h-3.2zM368.2 688.1h3.2v3.2h-3.2zM404.6 677.3h3.2v3.2h-3.2zM254.6 725.5h3.2v3.2h-3.2zM378.2 678.0h3.2v3.2h-3.2zM442.8 613.1h3.2v3.2h-3.2zM357.9 717.0h3.2v3.2h-3.2zM266.5 713.2h3.2v3.2h-3.2zM446.2 595.8h3.2v3.2h-3.2zM397.3 661.7h3.2v3.2h-3.2zM419.9 623.3h3.2v3.2h-3.2zM348.7 642.3h3.2v3.2h-3.2zM366.9 735.7h3.2v3.2h-3.2zM418.6 635.3h3.2v3.2h-3.2zM366.1 678.1h3.2v3.2h-3.2zM393.1 711.5h3.2v3.2h-3.2zM393.2 663.6h3.2v3.2h-3.2zM406.3 674.0h3.2v3.2h-3.2zM398.1 669.2h3.2v3.2h-3.2zM336.9 726.9h3.2v3.2h-3.2zM399.2 609.3h3.2v3.2h-3.2zM384.4 691.3h3.2v3.2h-3.2zM407.2 653.4h3.2v3.2h-3.2zM322.7 742.4h3.2v3.2h-3.2zM282.7 725.7h3.2v3.2h-3.2zM357.5 666.4h3.2v3.2h-3.2zM504.2 661.6h3.2v3.2h-3.2zM405.6 659.7h3.2v3.2h-3.2zM298.9 716.0h3.2v3.2h-3.2zM298.1 721.9h3.2v3.2h-3.2zM292.2 722.7h3.2v3.2h-3.2zM305.7 691.7h3.2v3.2h-3.2zM253.8 733.2h3.2v3.2h-3.2zM368.9 670.1h3.2v3.2h-3.2zM426.2 651.5h3.2v3.2h-3.2zM368.9 698.4h3.2v3.2h-3.2zM399.8 738.5h3.2v3.2h-3.2zM380.8 644.1h3.2v3.2h-3.2zM331.8 726.5h3.2v3.2h-3.2z" fill="#f2b8ca"/>
<line x1="174.0" y1="667.6" x2="530.1" y2="667.6" stroke="#222" stroke-width="1.2"/>
<line x1="357.3" y1="559.5" x2="357.3" y2="797.3" stroke="#222" stroke-width="1.2"/>
<line x1="249.3" y1="559.5" x2="249.3" y2="797.3" stroke="#111" stroke-width="1.8" stroke-dasharray="4.8 2.9"/>
<line x1="189.9" y1="749.6" x2="512.8" y2="626.9" stroke="#f2190f" stroke-width="3.8" stroke-linecap="round"/>
<path d="M233.7 775.7L242.9 784.9M242.9 775.7L233.7 784.9" stroke="#000" stroke-width="4.2" stroke-linecap="butt"/>
<rect x="174.0" y="559.5" width="356.1" height="237.8" fill="none" stroke="#222" stroke-width="0.9"/>
<line x1="195.3" y1="797.3" x2="195.3" y2="800.8" stroke="#222" stroke-width="0.8"/>
<line x1="249.3" y1="797.3" x2="249.3" y2="800.8" stroke="#222" stroke-width="0.8"/>
<line x1="303.3" y1="797.3" x2="303.3" y2="800.8" stroke="#222" stroke-width="0.8"/>
<line x1="357.3" y1="797.3" x2="357.3" y2="800.8" stroke="#222" stroke-width="0.8"/>
<line x1="411.3" y1="797.3" x2="411.3" y2="800.8" stroke="#222" stroke-width="0.8"/>
<line x1="465.3" y1="797.3" x2="465.3" y2="800.8" stroke="#222" stroke-width="0.8"/>
<line x1="519.3" y1="797.3" x2="519.3" y2="800.8" stroke="#222" stroke-width="0.8"/>
<line x1="170.5" y1="788.5" x2="174.0" y2="788.5" stroke="#222" stroke-width="0.8"/>
<line x1="170.5" y1="748.2" x2="174.0" y2="748.2" stroke="#222" stroke-width="0.8"/>
<line x1="170.5" y1="707.9" x2="174.0" y2="707.9" stroke="#222" stroke-width="0.8"/>
<line x1="170.5" y1="667.6" x2="174.0" y2="667.6" stroke="#222" stroke-width="0.8"/>
<line x1="170.5" y1="627.3" x2="174.0" y2="627.3" stroke="#222" stroke-width="0.8"/>
<line x1="170.5" y1="587.0" x2="174.0" y2="587.0" stroke="#222" stroke-width="0.8"/>
<rect x="179.7" y="564.7" width="153.7" height="51.3" rx="2.5" fill="#fff" fill-opacity="0.8" stroke="#d0d0d0" stroke-width="0.9"/>
<rect x="193.4" y="579.6" width="3.4" height="3.4" fill="#f2b8ca"/>
<path d="M191.1 600.4L200.3 609.6M200.3 600.4L191.1 609.6" stroke="#000" stroke-width="4.2" stroke-linecap="butt"/>
<text x="195.3" y="807.6" font-size="7.2" text-anchor="middle" textLength="16.1" lengthAdjust="spacingAndGlyphs" fill="#000">−1.5</text>
<text x="249.3" y="807.6" font-size="7.2" text-anchor="middle" textLength="16.1" lengthAdjust="spacingAndGlyphs" fill="#000">−1.0</text>
<text x="303.3" y="807.6" font-size="7.2" text-anchor="middle" textLength="16.1" lengthAdjust="spacingAndGlyphs" fill="#000">−0.5</text>
<text x="357.3" y="807.6" font-size="7.2" text-anchor="middle" textLength="11.0" lengthAdjust="spacingAndGlyphs" fill="#000">0.0</text>
<text x="411.3" y="807.6" font-size="7.2" text-anchor="middle" textLength="11.0" lengthAdjust="spacingAndGlyphs" fill="#000">0.5</text>
<text x="465.3" y="807.6" font-size="7.2" text-anchor="middle" textLength="11.0" lengthAdjust="spacingAndGlyphs" fill="#000">1.0</text>
<text x="519.3" y="807.6" font-size="7.2" text-anchor="middle" textLength="11.0" lengthAdjust="spacingAndGlyphs" fill="#000">1.5</text>
<text x="168.4" y="791.1" font-size="7.2" text-anchor="end" textLength="8.1" lengthAdjust="spacingAndGlyphs" fill="#000">−6</text>
<text x="168.4" y="750.8" font-size="7.2" text-anchor="end" textLength="8.1" lengthAdjust="spacingAndGlyphs" fill="#000">−4</text>
<text x="168.4" y="710.5" font-size="7.2" text-anchor="end" textLength="8.1" lengthAdjust="spacingAndGlyphs" fill="#000">−2</text>
<text x="168.4" y="670.2" font-size="7.2" text-anchor="end" textLength="4.0" lengthAdjust="spacingAndGlyphs" fill="#000">0</text>
<text x="168.4" y="629.9" font-size="7.2" text-anchor="end" textLength="4.0" lengthAdjust="spacingAndGlyphs" fill="#000">2</text>
<text x="168.4" y="589.6" font-size="7.2" text-anchor="end" textLength="4.0" lengthAdjust="spacingAndGlyphs" fill="#000">4</text>
<text x="352.0" y="821.5" font-size="12.6" text-anchor="middle" textLength="171.2" lengthAdjust="spacingAndGlyphs" fill="#000">Temperature trend (K/decade)</text>
<text x="139.6" y="675.0" font-size="12.6" text-anchor="middle" textLength="175.0" lengthAdjust="spacingAndGlyphs" transform="rotate(-90 139.6 675.0)" fill="#000">European zonal jet dipole (EZJD)</text>
<text x="153.4" y="677.2" font-size="12.6" text-anchor="middle" textLength="144.7" lengthAdjust="spacingAndGlyphs" transform="rotate(-90 153.4 677.2)" fill="#000">index trend (m/s/decade)</text>
<text x="216.8" y="578.1" font-size="12.6" text-anchor="start" textLength="91.2" lengthAdjust="spacingAndGlyphs" fill="#000">Model members</text>
<text x="219.9" y="591.3" font-size="12.6" text-anchor="start" textLength="108.5" lengthAdjust="spacingAndGlyphs" fill="#000">r = 0.58 (p&lt;0.001)</text>
<text x="217.3" y="608.9" font-size="12.6" text-anchor="start" textLength="28.1" lengthAdjust="spacingAndGlyphs" fill="#000">ERA5</text>
</svg></body></html>
